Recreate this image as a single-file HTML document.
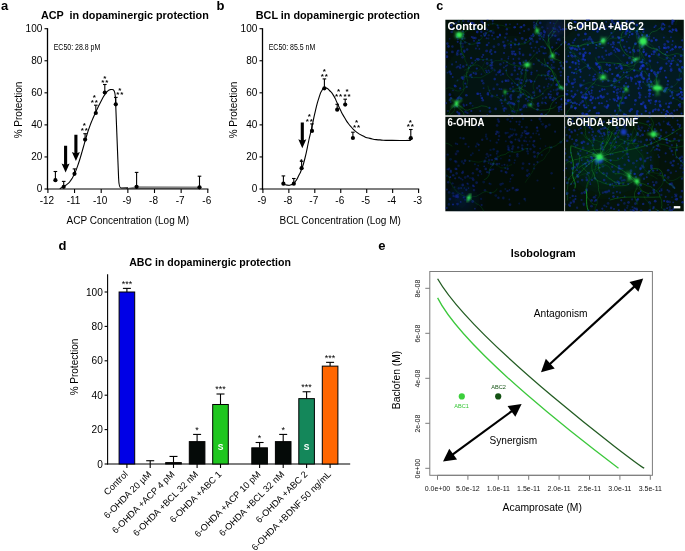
<!DOCTYPE html>
<html><head><meta charset="utf-8"><title>Figure</title>
<style>html,body{margin:0;padding:0;background:#fff}svg{display:block}text{font-family:"Liberation Sans", Arial, Helvetica, sans-serif}</style>
</head><body>
<svg width="685" height="551" viewBox="0 0 685 551">
<rect width="685" height="551" fill="#fff"/>
<text x="1" y="9.8" font-size="13" text-anchor="start" font-weight="bold" fill="#000">a</text>
<text x="41" y="19.2" font-size="10.8" text-anchor="start" font-weight="bold" fill="#000" xml:space="preserve">ACP  in dopaminergic protection</text>
<path d="M126,188.2 L136.6,186.2 L199.5,186.5 L199.5,189 L126,189 Z" fill="#848484"/>
<line x1="47.50" y1="28.20" x2="47.50" y2="189.60" stroke="#000" stroke-width="1.3"/>
<line x1="46.90" y1="189.00" x2="208.40" y2="189.00" stroke="#000" stroke-width="1.15"/>
<line x1="44.50" y1="189.00" x2="47.50" y2="189.00" stroke="#000" stroke-width="1.1"/>
<text x="42.3" y="192.4" font-size="10" text-anchor="end" fill="#000">0</text>
<line x1="44.50" y1="156.94" x2="47.50" y2="156.94" stroke="#000" stroke-width="1.1"/>
<text x="42.3" y="160.34" font-size="10" text-anchor="end" fill="#000">20</text>
<line x1="44.50" y1="124.88" x2="47.50" y2="124.88" stroke="#000" stroke-width="1.1"/>
<text x="42.3" y="128.28" font-size="10" text-anchor="end" fill="#000">40</text>
<line x1="44.50" y1="92.82" x2="47.50" y2="92.82" stroke="#000" stroke-width="1.1"/>
<text x="42.3" y="96.22" font-size="10" text-anchor="end" fill="#000">60</text>
<line x1="44.50" y1="60.76" x2="47.50" y2="60.76" stroke="#000" stroke-width="1.1"/>
<text x="42.3" y="64.16" font-size="10" text-anchor="end" fill="#000">80</text>
<line x1="44.50" y1="28.70" x2="47.50" y2="28.70" stroke="#000" stroke-width="1.1"/>
<text x="42.3" y="32.1" font-size="10" text-anchor="end" fill="#000">100</text>
<line x1="47.90" y1="189.00" x2="47.90" y2="193.00" stroke="#000" stroke-width="1.1"/>
<text x="46.9" y="204" font-size="10" text-anchor="middle" fill="#000">-12</text>
<line x1="74.55" y1="189.00" x2="74.55" y2="193.00" stroke="#000" stroke-width="1.1"/>
<text x="73.55" y="204" font-size="10" text-anchor="middle" fill="#000">-11</text>
<line x1="101.20" y1="189.00" x2="101.20" y2="193.00" stroke="#000" stroke-width="1.1"/>
<text x="100.2" y="204" font-size="10" text-anchor="middle" fill="#000">-10</text>
<line x1="127.85" y1="189.00" x2="127.85" y2="193.00" stroke="#000" stroke-width="1.1"/>
<text x="126.85" y="204" font-size="10" text-anchor="middle" fill="#000">-9</text>
<line x1="154.50" y1="189.00" x2="154.50" y2="193.00" stroke="#000" stroke-width="1.1"/>
<text x="153.5" y="204" font-size="10" text-anchor="middle" fill="#000">-8</text>
<line x1="181.15" y1="189.00" x2="181.15" y2="193.00" stroke="#000" stroke-width="1.1"/>
<text x="180.15" y="204" font-size="10" text-anchor="middle" fill="#000">-7</text>
<line x1="207.80" y1="189.00" x2="207.80" y2="193.00" stroke="#000" stroke-width="1.1"/>
<text x="206.8" y="204" font-size="10" text-anchor="middle" fill="#000">-6</text>
<text x="66.5" y="224" font-size="10" text-anchor="start" fill="#000">ACP Concentration (Log M)</text>
<text x="22.3" y="110" font-size="10" text-anchor="middle" fill="#000" transform="rotate(-90 22.3 110)">% Protection</text>
<text x="53.7" y="49.6" font-size="9" text-anchor="start" fill="#000" textLength="46.6" lengthAdjust="spacingAndGlyphs">EC50: 28.8 pM</text>
<path d="M59.80,188.78 L60.70,188.16 L61.59,187.62 L62.49,187.12 L63.39,186.64 L64.28,186.15 L65.18,185.63 L66.08,185.05 L66.97,184.39 L67.87,183.64 L68.77,182.78 L69.66,181.79 L70.56,180.67 L71.46,179.39 L72.35,177.95 L73.25,176.34 L74.15,174.56 L75.04,172.61 L75.94,170.47 L76.84,168.16 L77.73,165.67 L78.63,163.02 L79.53,160.23 L80.42,157.31 L81.32,154.27 L82.22,151.16 L83.11,147.99 L84.01,144.80 L84.91,141.63 L85.80,138.52 L86.70,135.51 L87.59,132.63 L88.49,129.89 L89.39,127.31 L90.28,124.88 L91.18,122.57 L92.08,120.37 L92.97,118.26 L93.87,116.21 L94.77,114.21 L95.66,112.26 L96.56,110.35 L97.46,108.46 L98.35,106.60 L99.25,104.76 L100.15,102.96 L101.04,101.20 L101.94,99.49 L102.84,97.85 L103.73,96.29 L104.63,94.84 L105.53,93.53 L106.42,92.38 L107.32,91.40 L108.22,90.62 L109.11,90.03 L110.01,89.65 L110.91,89.45 L111.80,89.44 L112.70,89.58 C114.3,89.6 115,92 115.4,97 C116.2,120 117.5,150 118.6,178 C118.9,186 119.5,188 121,188 L128,187.9" fill="none" stroke="#000" stroke-width="1.1" stroke-linejoin="round"/>
<line x1="55.40" y1="180.20" x2="55.40" y2="171.50" stroke="#000" stroke-width="1.1"/>
<line x1="53.60" y1="171.50" x2="57.20" y2="171.50" stroke="#000" stroke-width="1.1"/>
<circle cx="55.4" cy="180.2" r="2.1" fill="#000"/>
<line x1="63.70" y1="186.80" x2="63.70" y2="181.40" stroke="#000" stroke-width="1.1"/>
<line x1="61.90" y1="181.40" x2="65.50" y2="181.40" stroke="#000" stroke-width="1.1"/>
<circle cx="63.7" cy="186.8" r="2.1" fill="#000"/>
<line x1="74.50" y1="173.80" x2="74.50" y2="168.90" stroke="#000" stroke-width="1.1"/>
<line x1="72.70" y1="168.90" x2="76.30" y2="168.90" stroke="#000" stroke-width="1.1"/>
<circle cx="74.5" cy="173.8" r="2.1" fill="#000"/>
<line x1="85.10" y1="139.60" x2="85.10" y2="133.70" stroke="#000" stroke-width="1.1"/>
<line x1="83.30" y1="133.70" x2="86.90" y2="133.70" stroke="#000" stroke-width="1.1"/>
<circle cx="85.1" cy="139.6" r="2.1" fill="#000"/>
<line x1="95.80" y1="113.00" x2="95.80" y2="105.20" stroke="#000" stroke-width="1.1"/>
<line x1="94.00" y1="105.20" x2="97.60" y2="105.20" stroke="#000" stroke-width="1.1"/>
<circle cx="95.8" cy="113" r="2.1" fill="#000"/>
<line x1="104.80" y1="92.50" x2="104.80" y2="84.50" stroke="#000" stroke-width="1.1"/>
<line x1="103.00" y1="84.50" x2="106.60" y2="84.50" stroke="#000" stroke-width="1.1"/>
<circle cx="104.8" cy="92.5" r="2.1" fill="#000"/>
<line x1="115.80" y1="104.30" x2="115.80" y2="97.40" stroke="#000" stroke-width="1.1"/>
<line x1="114.00" y1="97.40" x2="117.60" y2="97.40" stroke="#000" stroke-width="1.1"/>
<circle cx="115.8" cy="104.3" r="2.1" fill="#000"/>
<line x1="136.60" y1="186.80" x2="136.60" y2="172.40" stroke="#000" stroke-width="1.1"/>
<line x1="134.80" y1="172.40" x2="138.40" y2="172.40" stroke="#000" stroke-width="1.1"/>
<circle cx="136.6" cy="186.8" r="2.1" fill="#000"/>
<line x1="199.50" y1="187.30" x2="199.50" y2="176.20" stroke="#000" stroke-width="1.1"/>
<line x1="197.70" y1="176.20" x2="201.30" y2="176.20" stroke="#000" stroke-width="1.1"/>
<circle cx="199.5" cy="187.3" r="2.1" fill="#000"/>
<path d="M64.05,145.8 H67.14999999999999 V164.5 L69.6,163.5 L65.6,172.5 L61.599999999999994,163.5 L64.05,164.5 Z" fill="#000"/>
<path d="M74.35000000000001,134.7 H77.45 V152.9 L79.9,151.9 L75.9,160.9 L71.9,151.9 L74.35000000000001,152.9 Z" fill="#000"/>
<text x="84.4" y="127.58" font-size="8" text-anchor="middle" font-weight="bold" fill="#000">*</text>
<text x="84.85" y="132.68" font-size="8" text-anchor="middle" font-weight="bold" fill="#000" letter-spacing="0.9">**</text>
<text x="94.4" y="99.68" font-size="8" text-anchor="middle" font-weight="bold" fill="#000">*</text>
<text x="94.85" y="104.58" font-size="8" text-anchor="middle" font-weight="bold" fill="#000" letter-spacing="0.9">**</text>
<text x="104.7" y="81.08" font-size="8" text-anchor="middle" font-weight="bold" fill="#000">*</text>
<text x="105.15" y="84.58" font-size="8" text-anchor="middle" font-weight="bold" fill="#000" letter-spacing="0.9">**</text>
<text x="119.9" y="92.98" font-size="8" text-anchor="middle" font-weight="bold" fill="#000">*</text>
<text x="120.35" y="96.98" font-size="8" text-anchor="middle" font-weight="bold" fill="#000" letter-spacing="0.9">**</text>
<text x="216.5" y="9.8" font-size="13" text-anchor="start" font-weight="bold" fill="#000">b</text>
<text x="255.8" y="19.2" font-size="10.8" text-anchor="start" font-weight="bold" fill="#000" xml:space="preserve">BCL in dopaminergic protection</text>
<line x1="262.50" y1="28.20" x2="262.50" y2="189.60" stroke="#000" stroke-width="1.3"/>
<line x1="261.90" y1="189.00" x2="419.20" y2="189.00" stroke="#000" stroke-width="1.15"/>
<line x1="259.50" y1="189.00" x2="262.50" y2="189.00" stroke="#000" stroke-width="1.1"/>
<text x="257.3" y="192.4" font-size="10" text-anchor="end" fill="#000">0</text>
<line x1="259.50" y1="156.94" x2="262.50" y2="156.94" stroke="#000" stroke-width="1.1"/>
<text x="257.3" y="160.34" font-size="10" text-anchor="end" fill="#000">20</text>
<line x1="259.50" y1="124.88" x2="262.50" y2="124.88" stroke="#000" stroke-width="1.1"/>
<text x="257.3" y="128.28" font-size="10" text-anchor="end" fill="#000">40</text>
<line x1="259.50" y1="92.82" x2="262.50" y2="92.82" stroke="#000" stroke-width="1.1"/>
<text x="257.3" y="96.22" font-size="10" text-anchor="end" fill="#000">60</text>
<line x1="259.50" y1="60.76" x2="262.50" y2="60.76" stroke="#000" stroke-width="1.1"/>
<text x="257.3" y="64.16" font-size="10" text-anchor="end" fill="#000">80</text>
<line x1="259.50" y1="28.70" x2="262.50" y2="28.70" stroke="#000" stroke-width="1.1"/>
<text x="257.3" y="32.1" font-size="10" text-anchor="end" fill="#000">100</text>
<line x1="262.90" y1="189.00" x2="262.90" y2="193.00" stroke="#000" stroke-width="1.1"/>
<text x="261.9" y="204" font-size="10" text-anchor="middle" fill="#000">-9</text>
<line x1="288.85" y1="189.00" x2="288.85" y2="193.00" stroke="#000" stroke-width="1.1"/>
<text x="287.85" y="204" font-size="10" text-anchor="middle" fill="#000">-8</text>
<line x1="314.80" y1="189.00" x2="314.80" y2="193.00" stroke="#000" stroke-width="1.1"/>
<text x="313.8" y="204" font-size="10" text-anchor="middle" fill="#000">-7</text>
<line x1="340.75" y1="189.00" x2="340.75" y2="193.00" stroke="#000" stroke-width="1.1"/>
<text x="339.75" y="204" font-size="10" text-anchor="middle" fill="#000">-6</text>
<line x1="366.70" y1="189.00" x2="366.70" y2="193.00" stroke="#000" stroke-width="1.1"/>
<text x="365.7" y="204" font-size="10" text-anchor="middle" fill="#000">-5</text>
<line x1="392.65" y1="189.00" x2="392.65" y2="193.00" stroke="#000" stroke-width="1.1"/>
<text x="391.65" y="204" font-size="10" text-anchor="middle" fill="#000">-4</text>
<line x1="418.60" y1="189.00" x2="418.60" y2="193.00" stroke="#000" stroke-width="1.1"/>
<text x="417.6" y="204" font-size="10" text-anchor="middle" fill="#000">-3</text>
<text x="279.5" y="224" font-size="10" text-anchor="start" fill="#000">BCL Concentration (Log M)</text>
<text x="237.3" y="110" font-size="10" text-anchor="middle" fill="#000" transform="rotate(-90 237.3 110)">% Protection</text>
<text x="268.7" y="49.6" font-size="9" text-anchor="start" fill="#000" textLength="46.6" lengthAdjust="spacingAndGlyphs">EC50: 85.5 nM</text>
<path d="M283.40,184.30 C284.60,184.57 284.47,184.93 287.00,185.10 C289.53,185.27 288.33,185.83 291.00,184.80 C293.67,183.77 292.33,185.27 295.00,182.00 C297.67,178.73 296.80,179.33 299.00,175.00 C301.20,170.67 299.60,174.67 301.60,169.00 C303.60,163.33 302.57,167.67 305.00,158.00 C307.43,148.33 306.63,150.17 308.90,140.00 C311.17,129.83 309.63,137.23 311.80,127.50 C313.97,117.77 313.00,120.73 315.40,110.80 C317.80,100.87 316.83,104.47 319.00,97.70 C321.17,90.93 320.10,93.70 321.90,90.50 C323.70,87.30 322.93,88.93 324.40,88.10 C325.87,87.27 324.60,87.20 326.30,88.00 C328.00,88.80 327.07,87.97 329.50,90.50 C331.93,93.03 331.03,91.43 333.60,95.60 C336.17,99.77 334.80,97.93 337.20,103.00 C339.60,108.07 338.37,105.97 340.80,110.80 C343.23,115.63 342.07,113.37 344.50,117.50 C346.93,121.63 345.70,119.87 348.10,123.20 C350.50,126.53 349.30,124.87 351.70,127.50 C354.10,130.13 351.67,128.33 355.30,131.10 C358.93,133.87 357.70,133.37 362.60,135.80 C367.50,138.23 364.20,137.03 370.00,138.40 C375.80,139.77 372.67,139.23 380.00,139.90 C387.33,140.57 381.73,140.23 392.00,140.40 C402.27,140.57 404.53,140.40 410.80,140.40" fill="none" stroke="#000" stroke-width="1.1" stroke-linejoin="round"/>
<line x1="283.40" y1="183.70" x2="283.40" y2="175.90" stroke="#000" stroke-width="1.1"/>
<line x1="281.60" y1="175.90" x2="285.20" y2="175.90" stroke="#000" stroke-width="1.1"/>
<circle cx="283.4" cy="183.7" r="2.1" fill="#000"/>
<line x1="293.80" y1="183.70" x2="293.80" y2="178.50" stroke="#000" stroke-width="1.1"/>
<line x1="292.00" y1="178.50" x2="295.60" y2="178.50" stroke="#000" stroke-width="1.1"/>
<circle cx="293.8" cy="183.7" r="2.1" fill="#000"/>
<line x1="301.60" y1="168.20" x2="301.60" y2="161.30" stroke="#000" stroke-width="1.1"/>
<line x1="299.80" y1="161.30" x2="303.40" y2="161.30" stroke="#000" stroke-width="1.1"/>
<circle cx="301.6" cy="168.2" r="2.1" fill="#000"/>
<line x1="312.00" y1="130.90" x2="312.00" y2="123.90" stroke="#000" stroke-width="1.1"/>
<line x1="310.20" y1="123.90" x2="313.80" y2="123.90" stroke="#000" stroke-width="1.1"/>
<circle cx="312.0" cy="130.9" r="2.1" fill="#000"/>
<line x1="324.40" y1="88.30" x2="324.40" y2="78.90" stroke="#000" stroke-width="1.1"/>
<line x1="322.60" y1="78.90" x2="326.20" y2="78.90" stroke="#000" stroke-width="1.1"/>
<circle cx="324.4" cy="88.3" r="2.1" fill="#000"/>
<line x1="337.20" y1="109.70" x2="337.20" y2="104.30" stroke="#000" stroke-width="1.1"/>
<line x1="335.40" y1="104.30" x2="339.00" y2="104.30" stroke="#000" stroke-width="1.1"/>
<circle cx="337.2" cy="109.7" r="2.1" fill="#000"/>
<line x1="345.20" y1="104.60" x2="345.20" y2="99.20" stroke="#000" stroke-width="1.1"/>
<line x1="343.40" y1="99.20" x2="347.00" y2="99.20" stroke="#000" stroke-width="1.1"/>
<circle cx="345.2" cy="104.6" r="2.1" fill="#000"/>
<line x1="352.90" y1="138.00" x2="352.90" y2="132.20" stroke="#000" stroke-width="1.1"/>
<line x1="351.10" y1="132.20" x2="354.70" y2="132.20" stroke="#000" stroke-width="1.1"/>
<circle cx="352.9" cy="138" r="2.1" fill="#000"/>
<line x1="410.80" y1="138.20" x2="410.80" y2="129.50" stroke="#000" stroke-width="1.1"/>
<line x1="409.00" y1="129.50" x2="412.60" y2="129.50" stroke="#000" stroke-width="1.1"/>
<circle cx="410.8" cy="138.2" r="2.1" fill="#000"/>
<path d="M300.75,122.4 H303.85 V140.3 L306.3,139.3 L302.3,148.3 L298.3,139.3 L300.75,140.3 Z" fill="#000"/>
<text x="301.4" y="163.88" font-size="8" text-anchor="middle" font-weight="bold" fill="#000">*</text>
<text x="309.3" y="119.38" font-size="8" text-anchor="middle" font-weight="bold" fill="#000">*</text>
<text x="309.75" y="123.98" font-size="8" text-anchor="middle" font-weight="bold" fill="#000" letter-spacing="0.9">**</text>
<text x="324.4" y="74.38" font-size="8" text-anchor="middle" font-weight="bold" fill="#000">*</text>
<text x="324.85" y="78.98" font-size="8" text-anchor="middle" font-weight="bold" fill="#000" letter-spacing="0.9">**</text>
<text x="338.6" y="94.28" font-size="8" text-anchor="middle" font-weight="bold" fill="#000">*</text>
<text x="339.05" y="99.08" font-size="8" text-anchor="middle" font-weight="bold" fill="#000" letter-spacing="0.9">**</text>
<text x="347.1" y="94.28" font-size="8" text-anchor="middle" font-weight="bold" fill="#000">*</text>
<text x="347.55" y="99.08" font-size="8" text-anchor="middle" font-weight="bold" fill="#000" letter-spacing="0.9">**</text>
<text x="356.5" y="125.18" font-size="8" text-anchor="middle" font-weight="bold" fill="#000">*</text>
<text x="356.95" y="129.78" font-size="8" text-anchor="middle" font-weight="bold" fill="#000" letter-spacing="0.9">**</text>
<text x="410.4" y="125.28" font-size="8" text-anchor="middle" font-weight="bold" fill="#000">*</text>
<text x="410.85" y="129.28" font-size="8" text-anchor="middle" font-weight="bold" fill="#000" letter-spacing="0.9">**</text>
<!--STARSB-->
<text x="436.3" y="10.1" font-size="12.6" text-anchor="start" font-weight="bold" fill="#000">c</text>
<defs><filter id="fb" x="-5%" y="-5%" width="110%" height="110%"><feGaussianBlur stdDeviation="0.7"/></filter><filter id="ff" x="-5%" y="-5%" width="110%" height="110%"><feGaussianBlur stdDeviation="0.4"/></filter><filter id="fc" x="-5%" y="-5%" width="110%" height="110%"><feGaussianBlur stdDeviation="0.8"/></filter><filter id="fh" x="-50%" y="-50%" width="200%" height="200%"><feGaussianBlur stdDeviation="8"/></filter></defs>
<clipPath id="cptl"><rect x="445.2" y="19.5" width="118.8" height="96.1"/></clipPath>
<g clip-path="url(#cptl)">
<rect x="445.2" y="19.5" width="118.8" height="96.1" fill="#031009"/>
<g filter="url(#fh)">
<ellipse cx="555" cy="28" rx="12" ry="9" fill="#1838c0" opacity="0.4"/>
<ellipse cx="505" cy="75" rx="60" ry="40" fill="#0a2a50" opacity="0.12"/>
</g>
<g filter="url(#fb)" fill="#1733d4">
<circle cx="483.7" cy="34.0" r="0.9" opacity="0.40"/>
<circle cx="488.6" cy="25.1" r="0.9" opacity="0.37"/>
<circle cx="453.5" cy="28.2" r="1.3" opacity="0.30"/>
<circle cx="450.7" cy="102.0" r="0.9" opacity="0.30"/>
<circle cx="481.8" cy="97.9" r="1.2" opacity="0.42"/>
<circle cx="489.4" cy="72.1" r="0.9" opacity="0.32"/>
<circle cx="526.0" cy="60.6" r="1.2" opacity="0.38"/>
<circle cx="480.8" cy="95.8" r="1.0" opacity="0.40"/>
<circle cx="507.6" cy="103.6" r="1.0" opacity="0.50"/>
<circle cx="463.3" cy="66.5" r="1.3" opacity="0.45"/>
<circle cx="513.3" cy="103.6" r="1.3" opacity="0.41"/>
<circle cx="514.1" cy="63.3" r="1.4" opacity="0.38"/>
<circle cx="524.1" cy="25.3" r="1.2" opacity="0.50"/>
<circle cx="542.8" cy="46.8" r="1.3" opacity="0.28"/>
<circle cx="500.0" cy="35.6" r="0.9" opacity="0.45"/>
<circle cx="460.6" cy="43.3" r="1.4" opacity="0.29"/>
<circle cx="498.6" cy="72.3" r="1.3" opacity="0.47"/>
<circle cx="478.3" cy="59.4" r="1.4" opacity="0.49"/>
<circle cx="463.1" cy="36.4" r="1.0" opacity="0.38"/>
<circle cx="515.2" cy="44.7" r="1.1" opacity="0.36"/>
<circle cx="512.5" cy="111.1" r="1.2" opacity="0.41"/>
<circle cx="537.9" cy="103.5" r="1.1" opacity="0.36"/>
<circle cx="457.5" cy="80.5" r="0.9" opacity="0.32"/>
<circle cx="464.5" cy="52.2" r="0.9" opacity="0.31"/>
<circle cx="457.3" cy="54.4" r="1.4" opacity="0.41"/>
<circle cx="462.8" cy="43.7" r="1.1" opacity="0.30"/>
<circle cx="546.1" cy="114.9" r="1.1" opacity="0.29"/>
<circle cx="457.3" cy="52.4" r="1.3" opacity="0.31"/>
<circle cx="447.9" cy="110.9" r="0.9" opacity="0.40"/>
<circle cx="547.8" cy="86.4" r="1.1" opacity="0.31"/>
<circle cx="536.9" cy="70.7" r="1.0" opacity="0.33"/>
<circle cx="541.6" cy="114.2" r="1.3" opacity="0.46"/>
<circle cx="533.1" cy="41.3" r="1.1" opacity="0.28"/>
<circle cx="448.5" cy="46.4" r="1.3" opacity="0.49"/>
<circle cx="558.7" cy="54.5" r="1.0" opacity="0.32"/>
<circle cx="545.0" cy="65.6" r="1.3" opacity="0.29"/>
<circle cx="523.7" cy="106.9" r="1.3" opacity="0.38"/>
<circle cx="466.4" cy="95.3" r="1.3" opacity="0.49"/>
<circle cx="531.3" cy="35.8" r="0.9" opacity="0.48"/>
<circle cx="541.0" cy="33.5" r="1.4" opacity="0.42"/>
<circle cx="486.8" cy="72.2" r="0.9" opacity="0.49"/>
<circle cx="522.4" cy="70.1" r="1.1" opacity="0.47"/>
<circle cx="543.3" cy="39.8" r="1.0" opacity="0.33"/>
<circle cx="514.9" cy="44.4" r="0.9" opacity="0.48"/>
<circle cx="487.2" cy="63.5" r="1.4" opacity="0.37"/>
<circle cx="554.2" cy="67.7" r="1.2" opacity="0.28"/>
<circle cx="497.5" cy="37.1" r="1.3" opacity="0.31"/>
<circle cx="501.5" cy="89.2" r="1.0" opacity="0.39"/>
<circle cx="511.2" cy="94.9" r="1.2" opacity="0.33"/>
<circle cx="478.1" cy="93.7" r="1.2" opacity="0.45"/>
<circle cx="553.6" cy="62.1" r="1.2" opacity="0.39"/>
<circle cx="527.5" cy="63.0" r="1.1" opacity="0.49"/>
<circle cx="545.0" cy="32.7" r="1.1" opacity="0.29"/>
<circle cx="538.3" cy="105.7" r="1.3" opacity="0.42"/>
<circle cx="471.3" cy="111.0" r="1.1" opacity="0.50"/>
<circle cx="544.1" cy="35.0" r="1.2" opacity="0.35"/>
<circle cx="447.5" cy="72.7" r="0.9" opacity="0.35"/>
<circle cx="519.3" cy="68.7" r="1.4" opacity="0.45"/>
<circle cx="560.6" cy="29.6" r="0.9" opacity="0.45"/>
<circle cx="477.3" cy="32.0" r="1.4" opacity="0.46"/>
<circle cx="513.0" cy="86.8" r="0.9" opacity="0.43"/>
<circle cx="520.6" cy="96.5" r="1.4" opacity="0.29"/>
<circle cx="547.7" cy="63.1" r="1.2" opacity="0.48"/>
<circle cx="477.0" cy="31.9" r="1.0" opacity="0.30"/>
<circle cx="464.4" cy="24.3" r="1.0" opacity="0.34"/>
<circle cx="535.4" cy="47.4" r="1.0" opacity="0.35"/>
<circle cx="447.4" cy="43.6" r="1.3" opacity="0.40"/>
<circle cx="457.8" cy="98.2" r="1.1" opacity="0.46"/>
<circle cx="491.9" cy="68.2" r="1.4" opacity="0.35"/>
<circle cx="544.1" cy="87.4" r="1.1" opacity="0.35"/>
<circle cx="451.7" cy="32.0" r="1.3" opacity="0.33"/>
<circle cx="548.6" cy="83.9" r="1.0" opacity="0.34"/>
<circle cx="499.8" cy="34.6" r="1.0" opacity="0.49"/>
<circle cx="560.7" cy="72.1" r="1.4" opacity="0.34"/>
<circle cx="487.6" cy="19.6" r="1.1" opacity="0.39"/>
<circle cx="469.1" cy="68.0" r="1.0" opacity="0.30"/>
<circle cx="492.7" cy="23.5" r="1.0" opacity="0.33"/>
<circle cx="514.8" cy="70.4" r="1.2" opacity="0.44"/>
<circle cx="549.6" cy="56.9" r="1.4" opacity="0.31"/>
<circle cx="531.2" cy="81.3" r="1.4" opacity="0.48"/>
<circle cx="519.7" cy="90.0" r="0.9" opacity="0.39"/>
<circle cx="505.1" cy="99.7" r="1.3" opacity="0.41"/>
<circle cx="551.3" cy="85.1" r="1.0" opacity="0.28"/>
<circle cx="461.0" cy="54.2" r="1.4" opacity="0.40"/>
<circle cx="519.8" cy="79.7" r="1.1" opacity="0.28"/>
<circle cx="540.0" cy="91.4" r="1.2" opacity="0.42"/>
<circle cx="453.0" cy="90.3" r="0.9" opacity="0.33"/>
<circle cx="531.8" cy="39.2" r="1.4" opacity="0.39"/>
<circle cx="490.6" cy="65.5" r="1.3" opacity="0.41"/>
<circle cx="521.6" cy="26.9" r="1.0" opacity="0.44"/>
<circle cx="481.4" cy="74.1" r="0.9" opacity="0.34"/>
<circle cx="525.0" cy="86.0" r="1.0" opacity="0.39"/>
<circle cx="500.4" cy="64.3" r="1.4" opacity="0.32"/>
<circle cx="561.4" cy="109.5" r="1.1" opacity="0.46"/>
<circle cx="560.2" cy="62.7" r="1.0" opacity="0.49"/>
<circle cx="470.2" cy="75.4" r="1.2" opacity="0.49"/>
<circle cx="461.0" cy="98.3" r="1.4" opacity="0.43"/>
<circle cx="472.7" cy="105.8" r="0.9" opacity="0.28"/>
<circle cx="503.6" cy="62.8" r="0.9" opacity="0.35"/>
<circle cx="482.8" cy="100.2" r="1.3" opacity="0.46"/>
<circle cx="552.3" cy="47.4" r="1.1" opacity="0.50"/>
<circle cx="515.2" cy="54.2" r="1.0" opacity="0.29"/>
<circle cx="457.3" cy="99.7" r="1.4" opacity="0.33"/>
<circle cx="476.8" cy="68.6" r="1.1" opacity="0.49"/>
<circle cx="550.3" cy="97.5" r="1.4" opacity="0.49"/>
<circle cx="510.4" cy="88.7" r="1.3" opacity="0.38"/>
<circle cx="534.6" cy="81.4" r="0.9" opacity="0.48"/>
<circle cx="460.3" cy="64.9" r="1.0" opacity="0.44"/>
<circle cx="561.2" cy="44.5" r="1.0" opacity="0.40"/>
<circle cx="492.1" cy="35.6" r="1.0" opacity="0.48"/>
<circle cx="563.6" cy="62.7" r="1.0" opacity="0.30"/>
<circle cx="485.8" cy="28.3" r="1.0" opacity="0.40"/>
<circle cx="550.6" cy="91.5" r="1.1" opacity="0.39"/>
<circle cx="490.0" cy="52.0" r="1.0" opacity="0.49"/>
<circle cx="460.2" cy="67.9" r="1.4" opacity="0.32"/>
<circle cx="477.4" cy="43.4" r="1.1" opacity="0.49"/>
<circle cx="546.0" cy="103.4" r="0.9" opacity="0.43"/>
<circle cx="551.6" cy="65.0" r="0.9" opacity="0.36"/>
<circle cx="555.3" cy="98.8" r="1.4" opacity="0.33"/>
<circle cx="458.2" cy="34.3" r="1.3" opacity="0.49"/>
<circle cx="530.9" cy="81.7" r="1.1" opacity="0.40"/>
<circle cx="449.9" cy="94.7" r="1.4" opacity="0.42"/>
<circle cx="481.3" cy="31.8" r="1.2" opacity="0.43"/>
<circle cx="458.5" cy="26.3" r="1.2" opacity="0.36"/>
<circle cx="471.8" cy="77.3" r="1.0" opacity="0.38"/>
<circle cx="559.1" cy="81.4" r="1.1" opacity="0.33"/>
<circle cx="481.7" cy="21.6" r="1.3" opacity="0.37"/>
<circle cx="472.1" cy="22.8" r="1.1" opacity="0.43"/>
<circle cx="482.2" cy="98.3" r="1.0" opacity="0.45"/>
<circle cx="480.2" cy="111.0" r="1.0" opacity="0.33"/>
<circle cx="462.6" cy="57.3" r="1.4" opacity="0.31"/>
<circle cx="451.4" cy="25.3" r="1.4" opacity="0.47"/>
<circle cx="533.9" cy="22.6" r="1.1" opacity="0.36"/>
<circle cx="484.6" cy="35.8" r="1.0" opacity="0.35"/>
<circle cx="558.7" cy="31.4" r="1.0" opacity="0.36"/>
<circle cx="542.8" cy="98.5" r="0.9" opacity="0.38"/>
<circle cx="489.5" cy="107.9" r="1.1" opacity="0.48"/>
<circle cx="536.3" cy="23.4" r="0.9" opacity="0.48"/>
<circle cx="518.5" cy="44.7" r="1.0" opacity="0.34"/>
<circle cx="520.5" cy="110.1" r="1.0" opacity="0.38"/>
<circle cx="558.9" cy="111.2" r="1.0" opacity="0.37"/>
<circle cx="503.8" cy="108.7" r="1.3" opacity="0.44"/>
<circle cx="542.9" cy="93.8" r="1.0" opacity="0.35"/>
<circle cx="488.2" cy="94.7" r="1.0" opacity="0.44"/>
<circle cx="474.6" cy="25.7" r="1.2" opacity="0.35"/>
<circle cx="561.7" cy="104.4" r="1.0" opacity="0.29"/>
<circle cx="456.7" cy="67.4" r="1.1" opacity="0.33"/>
<circle cx="494.7" cy="79.1" r="1.3" opacity="0.47"/>
<circle cx="524.1" cy="31.1" r="1.0" opacity="0.40"/>
<circle cx="489.5" cy="90.4" r="1.0" opacity="0.33"/>
<circle cx="463.4" cy="104.5" r="1.0" opacity="0.36"/>
<circle cx="563.1" cy="68.3" r="1.3" opacity="0.42"/>
<circle cx="562.9" cy="29.3" r="1.3" opacity="0.46"/>
<circle cx="553.8" cy="23.4" r="0.9" opacity="0.32"/>
<circle cx="560.8" cy="75.5" r="1.1" opacity="0.47"/>
<circle cx="498.6" cy="44.5" r="1.4" opacity="0.30"/>
<circle cx="516.0" cy="79.1" r="1.1" opacity="0.31"/>
<circle cx="469.4" cy="44.0" r="1.2" opacity="0.32"/>
<circle cx="467.2" cy="49.5" r="1.3" opacity="0.40"/>
<circle cx="452.7" cy="29.2" r="1.2" opacity="0.42"/>
<circle cx="493.9" cy="46.7" r="1.4" opacity="0.35"/>
<circle cx="512.5" cy="53.8" r="1.4" opacity="0.50"/>
<circle cx="488.4" cy="38.5" r="1.0" opacity="0.28"/>
<circle cx="552.3" cy="60.2" r="1.1" opacity="0.47"/>
<circle cx="500.0" cy="35.1" r="1.2" opacity="0.42"/>
<circle cx="553.3" cy="28.1" r="1.1" opacity="0.39"/>
<circle cx="462.5" cy="46.7" r="1.4" opacity="0.30"/>
<circle cx="561.1" cy="65.9" r="1.4" opacity="0.36"/>
<circle cx="552.6" cy="79.1" r="0.9" opacity="0.45"/>
<circle cx="543.7" cy="37.1" r="1.1" opacity="0.39"/>
<circle cx="490.8" cy="31.3" r="1.3" opacity="0.48"/>
<circle cx="449.7" cy="100.1" r="1.2" opacity="0.40"/>
<circle cx="519.7" cy="48.9" r="1.2" opacity="0.37"/>
<circle cx="523.5" cy="62.4" r="0.9" opacity="0.41"/>
<circle cx="503.4" cy="42.1" r="1.3" opacity="0.38"/>
<circle cx="466.5" cy="65.0" r="0.9" opacity="0.37"/>
<circle cx="456.1" cy="62.0" r="0.9" opacity="0.42"/>
<circle cx="506.0" cy="24.7" r="1.1" opacity="0.49"/>
<circle cx="532.2" cy="97.8" r="1.4" opacity="0.39"/>
<circle cx="558.8" cy="107.5" r="1.3" opacity="0.48"/>
<circle cx="464.1" cy="105.7" r="1.3" opacity="0.31"/>
<circle cx="504.9" cy="107.9" r="1.0" opacity="0.39"/>
<circle cx="483.1" cy="23.0" r="0.9" opacity="0.49"/>
<circle cx="525.9" cy="105.5" r="1.3" opacity="0.30"/>
<circle cx="508.2" cy="80.7" r="1.4" opacity="0.40"/>
<circle cx="514.1" cy="104.3" r="1.4" opacity="0.42"/>
<circle cx="492.0" cy="96.2" r="1.4" opacity="0.40"/>
<circle cx="488.0" cy="93.0" r="1.0" opacity="0.44"/>
<circle cx="450.9" cy="98.3" r="1.2" opacity="0.50"/>
<circle cx="514.8" cy="83.3" r="0.9" opacity="0.28"/>
<circle cx="462.9" cy="78.7" r="1.2" opacity="0.48"/>
<circle cx="460.9" cy="41.3" r="0.9" opacity="0.28"/>
<circle cx="487.4" cy="29.7" r="1.0" opacity="0.41"/>
<circle cx="515.2" cy="39.1" r="1.1" opacity="0.31"/>
<circle cx="556.5" cy="42.9" r="0.9" opacity="0.42"/>
<circle cx="548.7" cy="94.7" r="1.0" opacity="0.28"/>
<circle cx="521.8" cy="73.5" r="1.2" opacity="0.37"/>
<circle cx="556.5" cy="90.0" r="1.4" opacity="0.28"/>
<circle cx="508.3" cy="58.5" r="0.9" opacity="0.45"/>
<circle cx="462.1" cy="38.7" r="1.2" opacity="0.42"/>
<circle cx="541.8" cy="36.3" r="1.0" opacity="0.29"/>
<circle cx="550.9" cy="94.7" r="0.9" opacity="0.46"/>
<circle cx="533.7" cy="64.2" r="1.1" opacity="0.33"/>
<circle cx="457.7" cy="41.8" r="1.1" opacity="0.44"/>
<circle cx="527.8" cy="100.7" r="1.0" opacity="0.40"/>
<circle cx="497.0" cy="95.3" r="1.0" opacity="0.42"/>
<circle cx="559.9" cy="40.4" r="0.9" opacity="0.33"/>
<circle cx="533.8" cy="50.9" r="1.0" opacity="0.33"/>
<circle cx="553.0" cy="80.1" r="1.2" opacity="0.50"/>
<circle cx="501.0" cy="100.2" r="1.4" opacity="0.37"/>
<circle cx="531.3" cy="74.3" r="1.0" opacity="0.42"/>
<circle cx="454.4" cy="107.0" r="0.9" opacity="0.30"/>
<circle cx="555.6" cy="52.6" r="0.9" opacity="0.28"/>
<circle cx="527.5" cy="80.4" r="1.3" opacity="0.29"/>
<circle cx="515.3" cy="54.4" r="1.3" opacity="0.48"/>
<circle cx="557.4" cy="29.8" r="0.9" opacity="0.28"/>
<circle cx="545.9" cy="97.5" r="1.3" opacity="0.42"/>
<circle cx="479.3" cy="29.1" r="1.3" opacity="0.32"/>
<circle cx="483.1" cy="60.2" r="1.0" opacity="0.34"/>
<circle cx="530.2" cy="54.9" r="1.4" opacity="0.39"/>
<circle cx="546.3" cy="78.9" r="1.1" opacity="0.37"/>
<circle cx="537.0" cy="52.8" r="1.2" opacity="0.32"/>
<circle cx="547.6" cy="28.2" r="1.0" opacity="0.28"/>
<circle cx="445.7" cy="66.7" r="1.3" opacity="0.32"/>
<circle cx="504.0" cy="52.9" r="1.0" opacity="0.49"/>
<circle cx="478.9" cy="40.1" r="1.1" opacity="0.30"/>
<circle cx="520.8" cy="27.3" r="1.3" opacity="0.45"/>
<circle cx="519.8" cy="53.7" r="1.1" opacity="0.48"/>
<circle cx="455.4" cy="104.9" r="1.0" opacity="0.33"/>
<circle cx="552.3" cy="67.7" r="1.4" opacity="0.33"/>
<circle cx="500.0" cy="70.6" r="1.3" opacity="0.42"/>
<circle cx="486.6" cy="50.9" r="1.4" opacity="0.42"/>
<circle cx="533.3" cy="35.8" r="1.3" opacity="0.41"/>
<circle cx="473.5" cy="37.9" r="1.3" opacity="0.46"/>
<circle cx="463.6" cy="34.5" r="1.0" opacity="0.39"/>
<circle cx="464.3" cy="51.0" r="1.4" opacity="0.44"/>
<circle cx="457.3" cy="112.0" r="1.1" opacity="0.50"/>
<circle cx="539.6" cy="90.0" r="1.0" opacity="0.42"/>
<circle cx="457.9" cy="39.3" r="0.9" opacity="0.36"/>
<circle cx="539.2" cy="86.1" r="1.2" opacity="0.38"/>
<circle cx="462.0" cy="77.5" r="1.3" opacity="0.48"/>
<circle cx="496.3" cy="74.7" r="1.1" opacity="0.33"/>
<circle cx="531.0" cy="104.1" r="1.3" opacity="0.47"/>
<circle cx="525.9" cy="81.2" r="1.0" opacity="0.42"/>
<circle cx="529.9" cy="80.0" r="1.1" opacity="0.38"/>
<circle cx="519.0" cy="58.8" r="1.4" opacity="0.32"/>
<circle cx="523.0" cy="94.3" r="1.1" opacity="0.49"/>
<circle cx="449.7" cy="71.7" r="1.3" opacity="0.49"/>
<circle cx="506.9" cy="29.2" r="1.2" opacity="0.44"/>
<circle cx="506.0" cy="80.9" r="1.2" opacity="0.37"/>
<circle cx="557.8" cy="39.7" r="1.1" opacity="0.45"/>
<circle cx="459.7" cy="114.1" r="0.9" opacity="0.34"/>
<circle cx="492.7" cy="20.8" r="1.1" opacity="0.43"/>
<circle cx="487.0" cy="45.0" r="1.3" opacity="0.49"/>
<circle cx="507.8" cy="40.5" r="1.1" opacity="0.32"/>
<circle cx="520.6" cy="64.6" r="1.0" opacity="0.49"/>
<circle cx="542.2" cy="64.5" r="1.2" opacity="0.30"/>
<circle cx="544.2" cy="53.6" r="1.0" opacity="0.36"/>
<circle cx="475.3" cy="60.4" r="0.9" opacity="0.44"/>
<circle cx="478.6" cy="43.0" r="1.1" opacity="0.37"/>
<circle cx="520.9" cy="82.9" r="1.4" opacity="0.47"/>
<circle cx="538.3" cy="33.0" r="1.2" opacity="0.28"/>
<circle cx="474.9" cy="29.3" r="1.0" opacity="0.45"/>
<circle cx="539.3" cy="35.6" r="1.2" opacity="0.45"/>
<circle cx="524.6" cy="105.4" r="1.4" opacity="0.32"/>
<circle cx="527.5" cy="70.5" r="1.1" opacity="0.47"/>
<circle cx="511.1" cy="44.9" r="0.9" opacity="0.39"/>
<circle cx="452.1" cy="64.4" r="1.1" opacity="0.39"/>
<circle cx="509.3" cy="102.4" r="1.4" opacity="0.38"/>
<circle cx="512.0" cy="83.4" r="1.1" opacity="0.37"/>
<circle cx="559.3" cy="26.7" r="1.2" opacity="0.28"/>
<circle cx="517.6" cy="85.1" r="1.0" opacity="0.50"/>
<circle cx="505.9" cy="66.1" r="0.9" opacity="0.44"/>
<circle cx="519.5" cy="52.0" r="1.1" opacity="0.38"/>
<circle cx="507.6" cy="93.6" r="1.1" opacity="0.37"/>
<circle cx="511.0" cy="98.9" r="1.3" opacity="0.37"/>
<circle cx="505.0" cy="45.6" r="1.4" opacity="0.42"/>
<circle cx="539.3" cy="51.3" r="1.0" opacity="0.41"/>
<circle cx="520.6" cy="94.9" r="1.3" opacity="0.47"/>
<circle cx="510.0" cy="24.3" r="0.9" opacity="0.32"/>
<circle cx="554.7" cy="78.0" r="1.3" opacity="0.48"/>
<circle cx="517.9" cy="78.8" r="1.3" opacity="0.41"/>
<circle cx="526.1" cy="39.9" r="1.1" opacity="0.45"/>
<circle cx="457.2" cy="36.9" r="1.3" opacity="0.48"/>
<circle cx="523.1" cy="54.9" r="1.3" opacity="0.40"/>
<circle cx="475.9" cy="48.5" r="1.0" opacity="0.37"/>
<circle cx="521.4" cy="109.2" r="1.2" opacity="0.28"/>
<circle cx="459.3" cy="97.4" r="1.4" opacity="0.38"/>
<circle cx="446.9" cy="56.7" r="1.4" opacity="0.50"/>
<circle cx="501.7" cy="59.1" r="1.2" opacity="0.32"/>
<circle cx="463.2" cy="21.0" r="1.3" opacity="0.30"/>
<circle cx="560.0" cy="28.0" r="0.9" opacity="0.28"/>
<circle cx="530.7" cy="42.8" r="1.0" opacity="0.29"/>
<circle cx="537.2" cy="88.1" r="1.3" opacity="0.29"/>
<circle cx="519.9" cy="87.7" r="1.4" opacity="0.33"/>
<circle cx="559.8" cy="88.4" r="0.9" opacity="0.42"/>
<circle cx="542.3" cy="27.2" r="1.3" opacity="0.31"/>
<circle cx="547.5" cy="66.2" r="1.1" opacity="0.40"/>
<circle cx="497.3" cy="84.5" r="1.3" opacity="0.36"/>
<circle cx="521.8" cy="80.0" r="1.1" opacity="0.45"/>
<circle cx="557.5" cy="94.9" r="1.0" opacity="0.29"/>
<circle cx="560.9" cy="87.1" r="1.0" opacity="0.41"/>
<circle cx="561.3" cy="99.4" r="1.0" opacity="0.37"/>
<circle cx="550.7" cy="55.7" r="1.2" opacity="0.48"/>
<circle cx="541.1" cy="46.7" r="1.0" opacity="0.37"/>
<circle cx="548.2" cy="74.5" r="1.4" opacity="0.46"/>
<circle cx="526.5" cy="107.3" r="0.9" opacity="0.40"/>
<circle cx="539.9" cy="38.8" r="1.4" opacity="0.33"/>
<circle cx="517.3" cy="84.6" r="1.0" opacity="0.33"/>
<circle cx="534.4" cy="95.6" r="0.9" opacity="0.46"/>
<circle cx="536.9" cy="41.9" r="1.4" opacity="0.47"/>
<circle cx="507.2" cy="65.3" r="1.0" opacity="0.32"/>
<circle cx="466.7" cy="86.9" r="1.2" opacity="0.37"/>
<circle cx="506.6" cy="33.8" r="1.4" opacity="0.36"/>
<circle cx="463.8" cy="76.9" r="1.2" opacity="0.28"/>
<circle cx="503.0" cy="74.0" r="1.3" opacity="0.37"/>
<circle cx="557.6" cy="93.2" r="1.4" opacity="0.33"/>
<circle cx="449.7" cy="38.8" r="0.9" opacity="0.29"/>
<circle cx="511.4" cy="103.2" r="1.4" opacity="0.48"/>
<circle cx="452.8" cy="77.0" r="0.9" opacity="0.49"/>
<circle cx="475.8" cy="73.7" r="1.4" opacity="0.43"/>
<circle cx="491.9" cy="62.6" r="1.4" opacity="0.50"/>
<circle cx="471.5" cy="23.2" r="1.1" opacity="0.48"/>
<circle cx="552.7" cy="100.0" r="1.3" opacity="0.43"/>
<circle cx="522.0" cy="114.2" r="0.9" opacity="0.44"/>
<circle cx="556.8" cy="84.5" r="1.2" opacity="0.45"/>
<circle cx="457.7" cy="50.6" r="0.9" opacity="0.38"/>
<circle cx="465.2" cy="42.4" r="1.3" opacity="0.28"/>
<circle cx="530.4" cy="38.2" r="1.4" opacity="0.32"/>
<circle cx="556.2" cy="102.8" r="0.9" opacity="0.38"/>
<circle cx="519.9" cy="63.0" r="1.3" opacity="0.38"/>
<circle cx="519.8" cy="33.2" r="0.9" opacity="0.44"/>
<circle cx="476.8" cy="59.1" r="1.0" opacity="0.46"/>
<circle cx="484.9" cy="35.6" r="1.0" opacity="0.48"/>
<circle cx="458.8" cy="113.5" r="1.4" opacity="0.43"/>
<circle cx="470.3" cy="65.4" r="1.0" opacity="0.32"/>
<circle cx="555.1" cy="28.9" r="1.4" opacity="0.29"/>
<circle cx="531.5" cy="47.7" r="0.9" opacity="0.46"/>
<circle cx="485.7" cy="33.0" r="1.3" opacity="0.39"/>
<circle cx="471.1" cy="74.4" r="1.0" opacity="0.45"/>
<circle cx="529.7" cy="38.4" r="0.9" opacity="0.41"/>
<circle cx="504.1" cy="45.8" r="1.2" opacity="0.43"/>
<circle cx="541.6" cy="75.5" r="0.9" opacity="0.44"/>
<circle cx="493.7" cy="88.9" r="1.3" opacity="0.35"/>
<circle cx="545.2" cy="102.6" r="0.9" opacity="0.48"/>
<circle cx="501.8" cy="103.3" r="1.0" opacity="0.46"/>
<circle cx="488.8" cy="35.2" r="1.2" opacity="0.28"/>
<circle cx="507.0" cy="62.3" r="0.9" opacity="0.44"/>
<circle cx="542.2" cy="102.7" r="1.3" opacity="0.36"/>
<circle cx="534.5" cy="25.4" r="1.4" opacity="0.39"/>
<circle cx="506.2" cy="70.5" r="0.9" opacity="0.49"/>
<circle cx="471.8" cy="37.0" r="1.0" opacity="0.46"/>
<circle cx="468.4" cy="21.2" r="1.2" opacity="0.39"/>
<circle cx="528.7" cy="29.4" r="1.3" opacity="0.29"/>
<circle cx="459.8" cy="66.9" r="1.0" opacity="0.30"/>
<circle cx="493.4" cy="32.7" r="1.4" opacity="0.31"/>
<circle cx="513.3" cy="91.2" r="1.3" opacity="0.49"/>
<circle cx="491.4" cy="59.9" r="1.2" opacity="0.36"/>
<circle cx="557.0" cy="94.2" r="1.0" opacity="0.35"/>
<circle cx="553.6" cy="97.8" r="0.9" opacity="0.39"/>
<circle cx="559.0" cy="109.3" r="1.1" opacity="0.42"/>
<circle cx="488.5" cy="70.5" r="1.1" opacity="0.39"/>
<circle cx="537.5" cy="109.5" r="1.3" opacity="0.47"/>
<circle cx="550.3" cy="22.8" r="1.0" opacity="0.43"/>
<circle cx="519.0" cy="43.6" r="1.1" opacity="0.49"/>
<circle cx="479.4" cy="48.9" r="0.9" opacity="0.41"/>
<circle cx="558.8" cy="68.9" r="1.1" opacity="0.40"/>
<circle cx="462.8" cy="31.4" r="1.0" opacity="0.37"/>
<circle cx="479.5" cy="42.9" r="1.2" opacity="0.46"/>
<circle cx="517.7" cy="74.3" r="1.0" opacity="0.43"/>
<circle cx="500.0" cy="72.2" r="1.1" opacity="0.34"/>
<circle cx="474.0" cy="40.8" r="1.1" opacity="0.41"/>
<circle cx="473.5" cy="73.0" r="1.0" opacity="0.50"/>
<circle cx="480.3" cy="93.7" r="0.9" opacity="0.47"/>
<circle cx="497.5" cy="25.5" r="1.1" opacity="0.44"/>
<circle cx="533.0" cy="34.3" r="1.1" opacity="0.43"/>
<circle cx="518.4" cy="101.2" r="1.2" opacity="0.44"/>
<circle cx="533.5" cy="92.5" r="1.3" opacity="0.43"/>
<circle cx="553.9" cy="31.7" r="0.9" opacity="0.45"/>
<circle cx="514.8" cy="67.3" r="1.2" opacity="0.37"/>
<circle cx="538.3" cy="103.4" r="1.1" opacity="0.38"/>
<circle cx="499.6" cy="89.0" r="1.1" opacity="0.40"/>
<circle cx="490.9" cy="50.4" r="1.4" opacity="0.39"/>
<circle cx="498.0" cy="37.2" r="0.9" opacity="0.40"/>
<circle cx="559.1" cy="39.1" r="1.4" opacity="0.28"/>
<circle cx="450.8" cy="73.8" r="1.4" opacity="0.45"/>
<circle cx="509.2" cy="115.4" r="1.2" opacity="0.43"/>
<circle cx="491.5" cy="53.9" r="1.1" opacity="0.49"/>
<circle cx="525.6" cy="70.0" r="1.1" opacity="0.37"/>
<circle cx="511.9" cy="74.7" r="1.4" opacity="0.38"/>
<circle cx="486.0" cy="70.4" r="1.0" opacity="0.35"/>
<circle cx="561.4" cy="98.9" r="0.9" opacity="0.48"/>
<circle cx="550.7" cy="59.9" r="1.0" opacity="0.39"/>
<circle cx="505.2" cy="37.6" r="1.2" opacity="0.41"/>
<circle cx="487.2" cy="115.0" r="0.9" opacity="0.37"/>
<circle cx="538.8" cy="49.0" r="0.9" opacity="0.34"/>
<circle cx="545.2" cy="75.8" r="1.0" opacity="0.39"/>
<circle cx="510.9" cy="45.1" r="1.2" opacity="0.50"/>
<circle cx="513.4" cy="59.0" r="0.9" opacity="0.45"/>
<circle cx="457.9" cy="29.1" r="1.2" opacity="0.46"/>
<circle cx="518.0" cy="97.0" r="0.9" opacity="0.45"/>
<circle cx="483.6" cy="88.3" r="1.0" opacity="0.33"/>
<circle cx="457.0" cy="106.4" r="1.1" opacity="0.38"/>
<circle cx="514.4" cy="111.7" r="1.2" opacity="0.33"/>
<circle cx="504.1" cy="110.8" r="1.1" opacity="0.44"/>
<circle cx="502.7" cy="95.7" r="1.0" opacity="0.36"/>
<circle cx="467.4" cy="112.9" r="1.2" opacity="0.30"/>
<circle cx="508.6" cy="56.6" r="0.9" opacity="0.30"/>
<circle cx="543.3" cy="53.3" r="1.0" opacity="0.34"/>
<circle cx="485.8" cy="34.5" r="0.9" opacity="0.34"/>
<circle cx="544.4" cy="31.8" r="1.4" opacity="0.46"/>
<circle cx="490.0" cy="111.6" r="1.4" opacity="0.39"/>
<circle cx="472.2" cy="63.0" r="1.3" opacity="0.33"/>
<circle cx="552.1" cy="76.0" r="1.0" opacity="0.41"/>
<circle cx="470.4" cy="103.3" r="1.2" opacity="0.40"/>
<circle cx="477.3" cy="93.7" r="1.2" opacity="0.40"/>
<circle cx="482.1" cy="57.0" r="1.0" opacity="0.47"/>
<circle cx="483.3" cy="83.2" r="1.2" opacity="0.36"/>
<circle cx="504.6" cy="48.0" r="1.0" opacity="0.33"/>
<circle cx="460.2" cy="88.4" r="1.1" opacity="0.48"/>
<circle cx="537.3" cy="104.3" r="0.9" opacity="0.34"/>
<circle cx="486.9" cy="59.1" r="1.3" opacity="0.33"/>
<circle cx="545.8" cy="53.3" r="1.0" opacity="0.30"/>
<circle cx="553.6" cy="90.0" r="0.9" opacity="0.28"/>
<circle cx="464.4" cy="38.5" r="1.1" opacity="0.28"/>
<circle cx="482.1" cy="80.8" r="1.4" opacity="0.40"/>
<circle cx="530.3" cy="44.0" r="1.3" opacity="0.35"/>
<circle cx="517.4" cy="24.1" r="0.9" opacity="0.45"/>
<circle cx="455.4" cy="86.3" r="1.3" opacity="0.46"/>
<circle cx="495.6" cy="108.9" r="1.3" opacity="0.46"/>
<circle cx="519.8" cy="63.0" r="1.3" opacity="0.37"/>
<circle cx="506.0" cy="108.7" r="1.3" opacity="0.28"/>
<circle cx="528.7" cy="96.9" r="1.2" opacity="0.49"/>
<circle cx="520.9" cy="71.8" r="0.9" opacity="0.36"/>
<circle cx="494.1" cy="38.9" r="0.9" opacity="0.43"/>
<circle cx="524.8" cy="42.4" r="1.2" opacity="0.38"/>
<circle cx="556.4" cy="53.3" r="1.4" opacity="0.31"/>
<circle cx="512.1" cy="51.6" r="1.2" opacity="0.45"/>
<circle cx="465.3" cy="83.6" r="1.1" opacity="0.45"/>
<circle cx="543.9" cy="30.5" r="1.1" opacity="0.32"/>
<circle cx="452.4" cy="46.5" r="1.3" opacity="0.38"/>
<circle cx="458.6" cy="50.7" r="1.1" opacity="0.31"/>
<circle cx="534.4" cy="27.6" r="1.4" opacity="0.40"/>
<circle cx="458.1" cy="66.5" r="1.0" opacity="0.40"/>
<circle cx="519.8" cy="109.4" r="1.0" opacity="0.33"/>
<circle cx="544.9" cy="48.0" r="1.2" opacity="0.47"/>
<circle cx="555.3" cy="35.7" r="1.3" opacity="0.44"/>
<circle cx="483.2" cy="54.9" r="1.1" opacity="0.46"/>
<circle cx="473.6" cy="23.5" r="1.2" opacity="0.46"/>
<circle cx="503.9" cy="67.5" r="1.0" opacity="0.41"/>
<circle cx="454.7" cy="85.6" r="1.1" opacity="0.49"/>
<circle cx="455.9" cy="23.3" r="1.0" opacity="0.44"/>
<circle cx="538.7" cy="60.4" r="1.2" opacity="0.39"/>
<circle cx="495.2" cy="52.0" r="1.2" opacity="0.46"/>
<circle cx="552.6" cy="35.3" r="1.1" opacity="0.40"/>
<circle cx="486.6" cy="38.3" r="1.0" opacity="0.38"/>
<circle cx="560.6" cy="106.8" r="1.4" opacity="0.49"/>
<circle cx="518.8" cy="97.5" r="1.3" opacity="0.41"/>
<circle cx="502.3" cy="81.7" r="1.1" opacity="0.47"/>
<circle cx="498.3" cy="27.7" r="1.1" opacity="0.41"/>
<circle cx="494.7" cy="70.4" r="1.1" opacity="0.30"/>
<circle cx="466.6" cy="105.0" r="0.9" opacity="0.47"/>
<circle cx="475.3" cy="28.6" r="1.0" opacity="0.39"/>
<circle cx="511.0" cy="41.3" r="0.9" opacity="0.39"/>
<circle cx="515.1" cy="27.2" r="0.9" opacity="0.37"/>
<circle cx="547.8" cy="72.4" r="1.3" opacity="0.30"/>
<circle cx="562.9" cy="88.8" r="1.3" opacity="0.36"/>
<circle cx="465.5" cy="111.8" r="1.3" opacity="0.31"/>
<circle cx="537.4" cy="25.0" r="1.1" opacity="0.28"/>
<circle cx="515.8" cy="40.0" r="1.3" opacity="0.37"/>
<circle cx="550.8" cy="79.2" r="1.2" opacity="0.48"/>
<circle cx="548.6" cy="35.6" r="1.1" opacity="0.45"/>
<circle cx="526.0" cy="98.8" r="1.1" opacity="0.44"/>
<circle cx="557.8" cy="88.9" r="1.2" opacity="0.30"/>
<circle cx="510.4" cy="96.7" r="1.4" opacity="0.43"/>
<circle cx="475.4" cy="38.1" r="1.4" opacity="0.41"/>
<circle cx="458.7" cy="21.5" r="1.3" opacity="0.32"/>
<circle cx="511.0" cy="47.4" r="1.1" opacity="0.31"/>
<circle cx="549.2" cy="71.2" r="1.3" opacity="0.49"/>
<circle cx="446.8" cy="52.4" r="1.2" opacity="0.47"/>
<circle cx="540.3" cy="22.9" r="1.3" opacity="0.43"/>
<circle cx="491.8" cy="65.2" r="1.4" opacity="0.36"/>
<circle cx="548.9" cy="78.2" r="1.0" opacity="0.32"/>
<circle cx="551.4" cy="76.1" r="1.0" opacity="0.36"/>
<circle cx="500.8" cy="75.0" r="1.1" opacity="0.28"/>
<circle cx="514.0" cy="51.6" r="1.1" opacity="0.50"/>
<circle cx="477.6" cy="45.8" r="1.0" opacity="0.40"/>
<circle cx="548.8" cy="93.9" r="1.2" opacity="0.36"/>
<circle cx="556.7" cy="85.0" r="1.3" opacity="0.44"/>
<circle cx="505.7" cy="80.5" r="1.2" opacity="0.37"/>
<circle cx="452.4" cy="51.9" r="1.4" opacity="0.38"/>
<circle cx="488.8" cy="42.9" r="1.1" opacity="0.31"/>
<circle cx="446.1" cy="103.2" r="1.1" opacity="0.40"/>
<circle cx="481.1" cy="35.7" r="1.0" opacity="0.34"/>
<circle cx="531.5" cy="72.5" r="1.1" opacity="0.48"/>
<circle cx="514.5" cy="27.2" r="1.2" opacity="0.50"/>
<circle cx="487.6" cy="93.9" r="1.4" opacity="0.29"/>
<circle cx="502.8" cy="105.9" r="1.0" opacity="0.28"/>
<circle cx="471.1" cy="57.9" r="1.2" opacity="0.47"/>
<circle cx="522.2" cy="38.4" r="1.4" opacity="0.41"/>
</g>
<g filter="url(#ff)" fill="none" stroke="#22e03a" stroke-linecap="round" stroke-linejoin="round">
<path d="M459.1,34.9 L460.7,36.6 L462.3,38.5 L463.3,40.7 L465.3,42.0 L467.5,42.9 L469.6,44.2 L472.0,44.3 L474.4,43.9 L476.3,42.6 L478.0,40.9 L480.2,39.9 L481.7,38.0 L483.2,36.1 L484.9,34.4 L487.0,33.3 L488.6,31.5 L490.8,30.5 L493.2,30.1" stroke-width="0.48" opacity="0.30"/>
<path d="M459.1,34.9 L461.4,34.1 L463.6,33.3 L465.2,31.5 L467.4,30.5 L469.7,29.7 L472.0,30.0 L474.3,29.3 L476.7,28.8 L479.1,28.9 L481.5,28.6 L483.5,27.3 L485.0,25.4" stroke-width="0.49" opacity="0.33"/>
<path d="M485.0,25.4 L487.2,24.5 L489.5,23.9 L491.9,24.2 L494.3,23.7 L496.6,24.3 L498.8,25.1 L501.2,25.2 L503.6,25.7 L505.7,26.8 L507.8,27.9 L510.2,27.9" stroke-width="0.5" opacity="0.22"/>
<path d="M459.1,34.9 L458.2,32.7 L458.5,30.3 L458.6,27.9 L458.2,25.5 L457.9,23.1 L458.6,20.8 L458.4,18.5 L457.2,16.4 L455.8,14.4 L454.8,12.2 L454.5,9.9 L453.8,7.6 L454.3,5.2 L454.1,2.8 L454.5,0.5 L454.0,-1.9" stroke-width="0.46" opacity="0.24"/>
<path d="M454.0,-1.9 L454.1,-4.3 L453.7,-6.6 L453.5,-9.0 L453.9,-11.4 L455.1,-13.4 L457.1,-14.9 L459.4,-15.5 L461.8,-15.6 L464.2,-15.5 L466.5,-15.8 L468.9,-15.6 L471.3,-15.5 L473.6,-14.6" stroke-width="0.5" opacity="0.22"/>
<path d="M459.1,34.9 L460.0,37.1 L460.2,39.5 L460.5,41.9 L461.2,44.2 L461.0,46.6 L461.7,48.9 L461.8,51.3 L463.0,53.4 L463.8,55.6 L464.8,57.8 L465.0,60.2 L466.2,62.3 L467.3,64.4 L468.5,66.5 L468.8,68.9 L468.1,71.1 L467.0,73.3 L466.6,75.7 L466.8,78.1 L467.6,80.3" stroke-width="0.58" opacity="0.25"/>
<path d="M467.6,80.3 L467.6,82.7 L466.8,85.0 L465.9,87.2 L464.2,88.8 L462.0,89.9 L459.8,90.9 L457.4,91.0 L455.1,90.4 L453.3,88.9 L451.0,88.1 L448.6,87.8 L446.3,88.5 L444.6,90.2 L442.4,91.1 L440.5,92.6" stroke-width="0.5" opacity="0.22"/>
<path d="M537.1,30.8 L535.9,32.9 L534.7,35.0 L533.5,37.0 L531.5,38.4 L530.0,40.3 L528.0,41.5 L526.1,43.0 L523.8,43.9 L521.4,43.9 L519.2,44.7 L516.8,44.7 L514.7,43.5 L512.4,42.8 L510.0,43.1 L508.0,44.4" stroke-width="0.74" opacity="0.22"/>
<path d="M537.1,30.8 L538.8,32.5 L540.0,34.6 L541.2,36.6 L542.7,38.5 L544.3,40.3 L545.7,42.3 L546.7,44.5 L547.9,46.5 L549.5,48.3 L550.2,50.6 L550.8,53.0 L552.0,55.0 L552.9,57.3 L554.7,58.8 L557.0,59.6 L559.2,60.5 L561.3,61.7" stroke-width="0.66" opacity="0.32"/>
<path d="M561.3,61.7 L561.1,64.1 L561.8,66.4 L562.5,68.7 L564.0,70.6 L565.6,72.3 L567.7,73.5" stroke-width="0.5" opacity="0.22"/>
<path d="M537.1,30.8 L536.5,28.5 L535.9,26.2 L536.5,23.8 L537.2,21.5 L538.7,19.6 L540.8,18.5 L542.3,16.6 L544.5,15.6" stroke-width="0.71" opacity="0.36"/>
<path d="M544.5,15.6 L544.4,13.2 L543.7,10.9 L542.2,9.1 L540.0,8.1 L537.8,7.1 L535.5,6.4 L533.3,5.5 L531.0,4.9 L528.6,5.5 L526.2,5.6 L523.9,5.4 L521.5,5.0 L519.1,4.6 L516.9,3.7 L515.3,1.9 L514.5,-0.4" stroke-width="0.5" opacity="0.22"/>
<path d="M552.6,55.9 L551.9,53.6 L551.4,51.3 L550.5,49.0 L549.0,47.2 L547.9,45.0 L547.8,42.6 L548.3,40.3 L549.8,38.4 L551.5,36.7 L552.6,34.6 L553.8,32.5 L555.8,31.2" stroke-width="0.66" opacity="0.32"/>
<path d="M552.6,55.9 L552.8,53.5 L553.8,51.3 L555.4,49.5 L557.6,48.5 L559.1,46.6 L560.9,45.1 L562.4,43.2 L564.2,41.6 L566.1,40.1 L567.7,38.3 L569.9,37.4 L571.4,35.5 L573.3,34.1 L575.6,33.4 L577.9,32.7 L580.2,32.2" stroke-width="0.75" opacity="0.25"/>
<path d="M552.6,55.9 L552.2,53.5 L550.8,51.6 L550.4,49.2 L549.5,47.0 L549.0,44.6 L549.2,42.3 L548.5,40.0 L548.4,37.6 L548.7,35.2 L550.0,33.2 L551.8,31.6 L553.1,29.6" stroke-width="0.70" opacity="0.34"/>
<path d="M553.1,29.6 L554.3,27.4 L554.6,25.1 L555.9,23.0 L557.2,21.0 L558.6,19.1 L560.0,17.2 L562.0,15.8 L563.5,13.9 L564.4,11.7 L565.9,9.8 L567.3,7.9 L569.0,6.2 L571.2,5.2 L573.6,5.0" stroke-width="0.5" opacity="0.22"/>
<path d="M527.2,64.8 L528.5,62.8 L529.5,60.6 L531.2,58.9 L532.7,57.1 L534.1,55.1 L535.9,53.5" stroke-width="0.56" opacity="0.27"/>
<path d="M527.2,64.8 L524.8,64.6 L522.5,65.3 L520.3,66.3 L517.9,66.1 L515.6,65.5 L513.3,65.0 L510.9,64.5 L508.8,63.3 L507.1,61.7 L504.9,60.8" stroke-width="0.65" opacity="0.27"/>
<path d="M504.9,60.8 L502.5,61.0 L500.1,60.5 L497.7,60.6 L495.3,60.6 L493.2,61.7 L491.4,63.3 L489.5,64.7 L487.9,66.5 L486.2,68.2 L483.9,69.0" stroke-width="0.5" opacity="0.22"/>
<path d="M527.2,64.8 L526.3,67.0 L526.4,69.4 L526.2,71.8 L525.1,74.0 L524.8,76.4 L524.6,78.7 L523.7,81.0 L522.6,83.1 L521.7,85.3 L521.9,87.7" stroke-width="0.58" opacity="0.27"/>
<path d="M527.2,64.8 L526.7,67.1 L525.9,69.4 L525.7,71.8 L526.2,74.2 L525.8,76.5 L526.3,78.9 L526.5,81.3 L525.5,83.5 L523.9,85.3 L522.1,86.9 L521.2,89.1 L521.0,91.5" stroke-width="0.71" opacity="0.23"/>
<path d="M521.0,91.5 L521.3,93.9 L520.7,96.2 L519.4,98.3 L519.3,100.7 L518.9,103.0 L518.7,105.4 L518.5,107.8 L517.5,110.0 L516.7,112.3 L516.0,114.6 L514.5,116.4" stroke-width="0.5" opacity="0.22"/>
<path d="M527.2,64.8 L525.4,66.4 L523.3,67.6 L522.0,69.5 L521.2,71.8 L521.2,74.2 L521.0,76.6 L519.9,78.7 L519.2,81.0 L518.9,83.4 L518.9,85.8 L519.0,88.2 L520.1,90.4 L520.3,92.8" stroke-width="0.62" opacity="0.22"/>
<path d="M520.3,92.8 L518.8,94.7 L518.3,97.0 L517.4,99.2 L516.0,101.2 L514.7,103.2 L514.3,105.6 L513.5,107.8 L512.9,110.2" stroke-width="0.5" opacity="0.22"/>
<path d="M561.5,87.8 L559.9,86.0 L559.1,83.8 L557.5,81.9 L555.7,80.4 L553.9,78.8 L551.5,78.3 L549.7,76.7 L547.6,75.6 L545.2,75.0 L542.8,74.9 L540.5,75.3 L538.1,74.9" stroke-width="0.62" opacity="0.29"/>
<path d="M538.1,74.9 L536.8,76.9 L535.7,79.0 L534.7,81.2 L533.7,83.4 L533.1,85.7 L533.3,88.1 L534.3,90.3 L534.9,92.6 L534.5,95.0" stroke-width="0.5" opacity="0.22"/>
<path d="M561.5,87.8 L560.3,85.7 L558.9,83.8 L558.1,81.5 L556.7,79.6 L556.2,77.2 L555.8,74.9 L554.4,72.9 L552.7,71.2 L551.0,69.5 L549.2,67.9 L547.5,66.2 L545.5,64.9 L543.3,64.0 L541.4,62.5 L539.3,61.4 L537.4,59.9 L536.1,57.9" stroke-width="0.63" opacity="0.28"/>
<path d="M456.5,103.5 L454.6,104.9 L453.2,106.9 L451.2,108.3 L449.9,110.3 L449.4,112.6 L448.0,114.6 L446.1,116.0 L444.2,117.5 L443.2,119.7 L441.7,121.6 L439.8,123.1 L438.6,125.1 L437.9,127.4 L436.8,129.5 L435.1,131.3 L433.1,132.5 L430.9,133.6 L429.3,135.4 L427.3,136.7 L425.0,137.4" stroke-width="0.60" opacity="0.28"/>
<path d="M425.0,137.4 L424.2,139.7 L423.1,141.8 L422.5,144.2 L421.1,146.1 L419.3,147.7" stroke-width="0.5" opacity="0.22"/>
<path d="M456.5,103.5 L456.9,105.9 L458.2,107.9 L460.0,109.4 L461.9,110.9 L463.4,112.7 L464.1,115.0" stroke-width="0.69" opacity="0.32"/>
<path d="M456.5,103.5 L456.0,105.9 L454.8,107.9 L454.3,110.3 L453.2,112.4 L451.2,113.7 L449.4,115.3 L448.5,117.5 L447.8,119.8 L446.8,122.0 L446.5,124.4" stroke-width="0.61" opacity="0.23"/>
<path d="M446.5,124.4 L445.5,126.6 L444.7,128.8 L445.0,131.2 L445.7,133.5 L446.0,135.9 L447.0,138.1 L447.6,140.4 L448.1,142.8 L449.6,144.7 L451.1,146.6 L453.2,147.5" stroke-width="0.5" opacity="0.22"/>
<path d="M456.5,103.5 L457.9,101.6 L458.4,99.2 L458.9,96.9 L460.2,94.8 L461.7,93.0 L463.3,91.1 L464.0,88.8 L463.8,86.4 L463.1,84.1 L463.4,81.8 L464.4,79.6 L464.8,77.2 L466.2,75.2 L466.5,72.9 L467.0,70.5 L468.5,68.7 L469.8,66.6 L471.8,65.3 L474.0,64.3 L475.5,62.4" stroke-width="0.55" opacity="0.28"/>
<path d="M475.5,62.4 L477.2,60.8 L479.3,59.7 L481.7,59.4 L484.1,59.5 L486.5,59.6 L488.8,60.3 L491.2,60.0" stroke-width="0.5" opacity="0.22"/>
<path d="M530.0,105.0 L531.3,107.0 L533.4,108.2 L535.5,109.4 L537.9,109.6 L540.2,110.3 L542.6,110.0 L545.0,110.0 L547.4,109.6 L549.7,108.9 L552.0,108.5 L554.2,107.5 L555.9,105.7" stroke-width="0.73" opacity="0.26"/>
<path d="M530.0,105.0 L531.3,103.0 L532.1,100.7 L532.0,98.3 L531.2,96.0 L529.8,94.2 L527.9,92.6 L526.1,91.1 L524.0,89.8 L521.7,89.1 L519.5,88.3 L517.1,88.5 L514.9,89.3 L512.5,89.1" stroke-width="0.54" opacity="0.30"/>
<path d="M505.0,92.0 L507.4,91.5 L509.7,91.0 L512.1,91.5 L514.4,90.8 L516.7,91.1 L519.1,91.5 L521.3,92.4 L523.4,93.6 L525.3,95.1 L527.5,96.1 L529.3,97.6 L531.6,98.3 L534.0,98.5 L536.2,97.6 L538.4,96.5 L540.5,95.4 L542.3,93.9" stroke-width="0.72" opacity="0.23"/>
<path d="M542.3,93.9 L543.8,91.9 L545.2,90.0 L547.2,88.6 L549.5,87.9 L551.3,86.4 L552.8,84.5 L553.5,82.2 L553.5,79.8 L554.2,77.5 L554.1,75.1 L553.5,72.8 L552.1,70.9 L551.1,68.7 L550.4,66.4" stroke-width="0.5" opacity="0.22"/>
<path d="M505.0,92.0 L505.0,94.4 L505.1,96.8 L505.5,99.2 L506.8,101.2 L508.6,102.8 L509.9,104.8 L510.9,107.0 L512.6,108.7 L514.5,110.2 L516.8,110.8 L519.2,110.8" stroke-width="0.52" opacity="0.26"/>
<path d="M563.7,95.6 L561.3,95.8 L559.0,96.5 L557.1,98.0 L555.2,99.4 L553.9,101.4 L552.1,102.9 L551.0,105.1 L550.3,107.4 L549.7,109.7 L548.8,111.9 L547.0,113.5 L545.1,114.9 L542.8,115.7 L540.6,116.5 L538.2,116.7 L535.8,116.9 L533.5,117.6 L531.1,117.9 L528.8,118.7 L527.1,120.3 L525.4,122.0" stroke-width="0.72" opacity="0.26"/>
<path d="M464.8,56.6 L462.9,55.1 L461.9,52.9 L461.0,50.7 L461.1,48.3 L460.3,46.0 L460.6,43.6 L461.5,41.5 L461.9,39.1 L463.1,37.0 L463.7,34.7 L463.5,32.3 L463.3,29.9 L462.4,27.6 L461.5,25.4 L461.6,23.0 L462.1,20.7 L463.1,18.5 L463.9,16.2 L465.2,14.2 L467.1,12.7 L469.2,11.6 L471.6,11.5" stroke-width="0.73" opacity="0.21"/>
<path d="M455.5,82.2 L457.1,80.4 L459.3,79.3 L461.3,78.1 L463.1,76.5 L464.5,74.6 L466.2,72.8 L468.4,71.9 L470.8,71.9 L473.2,71.9 L475.6,71.6 L477.9,70.9 L479.8,69.4 L481.7,68.0 L482.9,65.9 L483.9,63.8 L484.9,61.5" stroke-width="0.41" opacity="0.19"/>
<path d="M563.1,37.5 L565.2,36.3 L567.5,35.7 L569.5,34.4 L571.7,33.4 L573.2,31.5 L575.2,30.3 L576.8,28.4 L577.9,26.3 L579.8,24.8 L581.5,23.2 L582.7,21.1 L584.5,19.6 L586.6,18.3 L589.0,17.9 L591.3,17.3 L593.6,16.6 L595.9,17.1 L598.3,17.5 L600.2,19.1" stroke-width="0.48" opacity="0.29"/>
<path d="M464.5,70.2 L466.7,69.2 L468.6,67.8 L470.6,66.5 L472.8,65.5 L475.1,65.0 L477.5,65.0 L479.7,66.1 L481.5,67.6 L482.9,69.6 L483.9,71.8 L485.7,73.4" stroke-width="0.70" opacity="0.18"/>
<path d="M494.6,68.9 L492.6,70.3 L490.9,71.9 L488.9,73.2 L486.7,74.3 L484.7,75.6 L482.6,76.8 L480.4,77.7 L478.0,77.6 L475.6,77.5 L473.2,77.8 L471.0,76.9 L468.6,77.1 L466.3,76.5 L464.1,75.4" stroke-width="0.62" opacity="0.21"/>
<path d="M534.4,105.1 L533.1,103.2 L531.4,101.4 L529.2,100.4 L527.7,98.6 L527.0,96.3 L525.6,94.3 L524.3,92.3 L523.2,90.2 L521.3,88.8 L519.2,87.6 L517.5,85.9 L516.0,84.0 L514.2,82.4 L512.8,80.5 L511.0,78.8 L509.4,77.1 L507.5,75.5 L506.7,73.3 L506.1,71.0 L506.3,68.6" stroke-width="0.67" opacity="0.20"/>
<path d="M559.6,87.7 L558.4,85.7 L557.8,83.3 L557.3,81.0 L555.8,79.1 L554.4,77.2 L553.8,74.8 L552.6,72.8 L552.0,70.4 L550.5,68.6 L548.7,67.0 L546.9,65.4 L545.4,63.5 L544.8,61.2 L544.4,58.8" stroke-width="0.79" opacity="0.28"/>
<path d="M488.0,86.1 L488.4,88.5 L489.2,90.8 L490.1,93.0 L491.8,94.7 L493.9,95.9 L496.1,96.9 L498.4,97.6 L500.1,99.3 L502.1,100.6 L504.4,101.2 L506.3,102.6 L508.3,104.0 L509.7,106.0 L510.8,108.1 L511.3,110.4 L512.2,112.6 L513.9,114.4 L515.0,116.5 L516.2,118.6 L517.2,120.8 L517.9,123.1" stroke-width="0.70" opacity="0.18"/>
<path d="M488.3,107.7 L486.2,106.4 L483.9,106.1 L481.5,105.8 L479.2,106.7 L477.0,107.5 L474.6,107.9 L472.4,108.7 L470.0,109.3 L467.8,110.2 L465.4,110.0 L463.3,108.8 L461.7,107.0 L459.6,106.0 L457.5,104.7 L456.0,102.8" stroke-width="0.73" opacity="0.27"/>
</g>
<g filter="url(#fc)">
<ellipse cx="459.1" cy="34.9" rx="3.0" ry="3.0" fill="#38f25a"/>
<line x1="463.9" y1="33.8" x2="454.3" y2="36.0" stroke="#30e050" stroke-width="0.9" stroke-linecap="round" opacity="0.8"/>
<line x1="453.8" y1="31.6" x2="464.4" y2="38.2" stroke="#30e050" stroke-width="0.9" stroke-linecap="round" opacity="0.8"/>
<line x1="462.4" y1="31.4" x2="455.8" y2="38.4" stroke="#30e050" stroke-width="0.9" stroke-linecap="round" opacity="0.8"/>
<ellipse cx="537.1" cy="30.8" rx="1.7" ry="1.7" fill="#38f25a"/>
<line x1="536.0" y1="27.3" x2="538.2" y2="34.3" stroke="#30e050" stroke-width="0.9" stroke-linecap="round" opacity="0.8"/>
<line x1="540.0" y1="28.5" x2="534.2" y2="33.1" stroke="#30e050" stroke-width="0.9" stroke-linecap="round" opacity="0.8"/>
<line x1="536.1" y1="27.7" x2="538.1" y2="33.9" stroke="#30e050" stroke-width="0.9" stroke-linecap="round" opacity="0.8"/>
<ellipse cx="552.6" cy="55.9" rx="1.8" ry="1.8" fill="#38f25a"/>
<line x1="550.7" y1="52.5" x2="554.5" y2="59.3" stroke="#30e050" stroke-width="0.9" stroke-linecap="round" opacity="0.8"/>
<line x1="554.4" y1="53.6" x2="550.8" y2="58.2" stroke="#30e050" stroke-width="0.9" stroke-linecap="round" opacity="0.8"/>
<line x1="554.8" y1="53.5" x2="550.4" y2="58.3" stroke="#30e050" stroke-width="0.9" stroke-linecap="round" opacity="0.8"/>
<ellipse cx="527.2" cy="64.8" rx="2.4" ry="2.4" fill="#38f25a"/>
<line x1="531.2" y1="63.9" x2="523.2" y2="65.7" stroke="#30e050" stroke-width="0.9" stroke-linecap="round" opacity="0.8"/>
<line x1="523.3" y1="61.8" x2="531.1" y2="67.8" stroke="#30e050" stroke-width="0.9" stroke-linecap="round" opacity="0.8"/>
<line x1="530.8" y1="63.9" x2="523.6" y2="65.7" stroke="#30e050" stroke-width="0.9" stroke-linecap="round" opacity="0.8"/>
<ellipse cx="561.5" cy="87.8" rx="1.4" ry="1.4" fill="#38f25a"/>
<line x1="558.8" y1="87.8" x2="564.2" y2="87.8" stroke="#30e050" stroke-width="0.9" stroke-linecap="round" opacity="0.8"/>
<line x1="559.6" y1="86.1" x2="563.4" y2="89.5" stroke="#30e050" stroke-width="0.9" stroke-linecap="round" opacity="0.8"/>
<line x1="559.2" y1="86.0" x2="563.8" y2="89.6" stroke="#30e050" stroke-width="0.9" stroke-linecap="round" opacity="0.8"/>
<ellipse cx="456.5" cy="103.5" rx="1.5" ry="3.3" fill="#38f25a"/>
<line x1="461.8" y1="99.3" x2="451.2" y2="107.7" stroke="#30e050" stroke-width="0.9" stroke-linecap="round" opacity="0.8"/>
<line x1="461.2" y1="101.1" x2="451.8" y2="105.9" stroke="#30e050" stroke-width="0.9" stroke-linecap="round" opacity="0.8"/>
<line x1="451.0" y1="98.9" x2="462.0" y2="108.1" stroke="#30e050" stroke-width="0.9" stroke-linecap="round" opacity="0.8"/>
<ellipse cx="530" cy="105" rx="1.0" ry="1.0" fill="#38f25a"/>
<line x1="528.8" y1="103.9" x2="531.2" y2="106.1" stroke="#30e050" stroke-width="0.9" stroke-linecap="round" opacity="0.8"/>
<line x1="529.0" y1="103.8" x2="531.0" y2="106.2" stroke="#30e050" stroke-width="0.9" stroke-linecap="round" opacity="0.8"/>
<line x1="532.2" y1="104.8" x2="527.8" y2="105.2" stroke="#30e050" stroke-width="0.9" stroke-linecap="round" opacity="0.8"/>
<ellipse cx="505" cy="92" rx="0.9" ry="0.9" fill="#38f25a"/>
<line x1="504.4" y1="90.6" x2="505.6" y2="93.4" stroke="#30e050" stroke-width="0.9" stroke-linecap="round" opacity="0.8"/>
<line x1="505.9" y1="90.2" x2="504.1" y2="93.8" stroke="#30e050" stroke-width="0.9" stroke-linecap="round" opacity="0.8"/>
<line x1="504.3" y1="90.1" x2="505.7" y2="93.9" stroke="#30e050" stroke-width="0.9" stroke-linecap="round" opacity="0.8"/>
</g>
</g>
<clipPath id="cptr"><rect x="565.0" y="19.5" width="118.9" height="96.1"/></clipPath>
<g clip-path="url(#cptr)">
<rect x="565.0" y="19.5" width="118.9" height="96.1" fill="#04140d"/>
<g filter="url(#fh)">
<ellipse cx="625" cy="70" rx="70" ry="50" fill="#0c3050" opacity="0.3"/>
</g>
<g filter="url(#fb)" fill="#1733d4">
<circle cx="649.7" cy="93.6" r="1.2" opacity="0.56"/>
<circle cx="672.5" cy="49.2" r="1.2" opacity="0.65"/>
<circle cx="574.4" cy="21.7" r="0.9" opacity="0.67"/>
<circle cx="635.2" cy="76.7" r="1.2" opacity="0.52"/>
<circle cx="679.7" cy="70.5" r="1.2" opacity="0.63"/>
<circle cx="598.5" cy="113.1" r="1.3" opacity="0.44"/>
<circle cx="585.6" cy="97.4" r="1.1" opacity="0.67"/>
<circle cx="597.5" cy="28.1" r="1.1" opacity="0.67"/>
<circle cx="571.5" cy="55.2" r="1.2" opacity="0.45"/>
<circle cx="641.3" cy="74.8" r="1.4" opacity="0.64"/>
<circle cx="638.4" cy="37.8" r="0.9" opacity="0.42"/>
<circle cx="567.0" cy="94.2" r="1.3" opacity="0.61"/>
<circle cx="588.9" cy="92.1" r="1.0" opacity="0.61"/>
<circle cx="567.7" cy="90.6" r="0.9" opacity="0.48"/>
<circle cx="614.7" cy="99.8" r="1.3" opacity="0.54"/>
<circle cx="631.3" cy="79.8" r="1.0" opacity="0.48"/>
<circle cx="577.5" cy="90.6" r="1.1" opacity="0.38"/>
<circle cx="649.8" cy="93.8" r="1.4" opacity="0.49"/>
<circle cx="670.1" cy="66.2" r="1.1" opacity="0.47"/>
<circle cx="671.7" cy="113.3" r="1.2" opacity="0.45"/>
<circle cx="611.2" cy="53.5" r="1.4" opacity="0.43"/>
<circle cx="598.1" cy="97.8" r="1.3" opacity="0.60"/>
<circle cx="584.1" cy="105.6" r="0.9" opacity="0.41"/>
<circle cx="651.5" cy="70.6" r="1.3" opacity="0.67"/>
<circle cx="575.2" cy="94.5" r="1.2" opacity="0.65"/>
<circle cx="667.1" cy="52.0" r="1.1" opacity="0.61"/>
<circle cx="672.5" cy="20.2" r="1.1" opacity="0.64"/>
<circle cx="576.7" cy="103.8" r="1.1" opacity="0.55"/>
<circle cx="655.6" cy="74.3" r="1.4" opacity="0.43"/>
<circle cx="637.0" cy="30.9" r="1.1" opacity="0.59"/>
<circle cx="660.1" cy="105.0" r="1.2" opacity="0.60"/>
<circle cx="591.7" cy="90.5" r="1.0" opacity="0.65"/>
<circle cx="588.8" cy="19.6" r="1.1" opacity="0.66"/>
<circle cx="679.1" cy="94.0" r="1.2" opacity="0.55"/>
<circle cx="614.2" cy="23.5" r="1.1" opacity="0.67"/>
<circle cx="655.3" cy="104.3" r="0.9" opacity="0.54"/>
<circle cx="638.2" cy="50.6" r="1.4" opacity="0.49"/>
<circle cx="669.5" cy="26.4" r="1.2" opacity="0.40"/>
<circle cx="631.8" cy="78.4" r="1.2" opacity="0.59"/>
<circle cx="643.6" cy="78.6" r="1.3" opacity="0.55"/>
<circle cx="589.8" cy="37.5" r="1.4" opacity="0.44"/>
<circle cx="649.2" cy="90.2" r="1.4" opacity="0.56"/>
<circle cx="575.3" cy="69.4" r="0.9" opacity="0.45"/>
<circle cx="669.8" cy="114.0" r="1.0" opacity="0.47"/>
<circle cx="600.2" cy="67.0" r="1.1" opacity="0.43"/>
<circle cx="656.2" cy="40.1" r="1.4" opacity="0.66"/>
<circle cx="654.4" cy="27.2" r="0.9" opacity="0.60"/>
<circle cx="599.9" cy="44.0" r="1.3" opacity="0.63"/>
<circle cx="568.4" cy="56.2" r="0.9" opacity="0.66"/>
<circle cx="643.0" cy="65.0" r="1.3" opacity="0.60"/>
<circle cx="603.8" cy="96.7" r="1.2" opacity="0.48"/>
<circle cx="565.2" cy="93.6" r="1.1" opacity="0.40"/>
<circle cx="615.5" cy="51.9" r="0.9" opacity="0.51"/>
<circle cx="594.1" cy="107.7" r="1.2" opacity="0.61"/>
<circle cx="640.1" cy="81.8" r="1.3" opacity="0.65"/>
<circle cx="649.9" cy="61.0" r="1.4" opacity="0.56"/>
<circle cx="598.8" cy="57.1" r="1.4" opacity="0.40"/>
<circle cx="668.0" cy="81.1" r="1.2" opacity="0.60"/>
<circle cx="581.9" cy="26.2" r="1.1" opacity="0.40"/>
<circle cx="651.7" cy="71.0" r="0.9" opacity="0.54"/>
<circle cx="650.9" cy="81.8" r="1.4" opacity="0.66"/>
<circle cx="618.5" cy="106.0" r="1.1" opacity="0.59"/>
<circle cx="585.6" cy="114.6" r="1.4" opacity="0.51"/>
<circle cx="603.4" cy="39.3" r="1.3" opacity="0.41"/>
<circle cx="589.8" cy="53.2" r="1.2" opacity="0.63"/>
<circle cx="643.7" cy="49.5" r="0.9" opacity="0.52"/>
<circle cx="664.5" cy="25.0" r="0.9" opacity="0.55"/>
<circle cx="572.4" cy="47.9" r="1.4" opacity="0.66"/>
<circle cx="607.3" cy="71.6" r="1.1" opacity="0.60"/>
<circle cx="668.7" cy="106.9" r="1.3" opacity="0.66"/>
<circle cx="655.7" cy="101.5" r="1.4" opacity="0.45"/>
<circle cx="565.9" cy="29.1" r="1.1" opacity="0.46"/>
<circle cx="621.2" cy="66.3" r="1.2" opacity="0.52"/>
<circle cx="673.2" cy="60.4" r="1.0" opacity="0.46"/>
<circle cx="617.8" cy="42.5" r="0.9" opacity="0.53"/>
<circle cx="622.5" cy="40.2" r="1.4" opacity="0.66"/>
<circle cx="609.7" cy="25.3" r="0.9" opacity="0.53"/>
<circle cx="625.7" cy="49.9" r="1.1" opacity="0.52"/>
<circle cx="677.5" cy="94.9" r="1.3" opacity="0.57"/>
<circle cx="573.1" cy="87.1" r="1.0" opacity="0.53"/>
<circle cx="639.6" cy="97.5" r="1.2" opacity="0.58"/>
<circle cx="568.8" cy="81.8" r="1.2" opacity="0.42"/>
<circle cx="643.1" cy="82.0" r="0.9" opacity="0.51"/>
<circle cx="598.9" cy="113.2" r="1.0" opacity="0.47"/>
<circle cx="588.7" cy="25.9" r="0.9" opacity="0.48"/>
<circle cx="622.6" cy="25.8" r="1.4" opacity="0.60"/>
<circle cx="587.9" cy="64.7" r="1.3" opacity="0.46"/>
<circle cx="680.9" cy="92.1" r="1.0" opacity="0.50"/>
<circle cx="649.3" cy="74.1" r="1.0" opacity="0.63"/>
<circle cx="583.4" cy="97.5" r="1.1" opacity="0.54"/>
<circle cx="611.0" cy="44.6" r="1.0" opacity="0.50"/>
<circle cx="673.2" cy="115.5" r="1.0" opacity="0.60"/>
<circle cx="584.9" cy="60.1" r="1.3" opacity="0.62"/>
<circle cx="595.1" cy="74.3" r="0.9" opacity="0.60"/>
<circle cx="680.1" cy="87.9" r="1.1" opacity="0.62"/>
<circle cx="680.0" cy="106.4" r="1.3" opacity="0.43"/>
<circle cx="581.5" cy="26.5" r="1.0" opacity="0.58"/>
<circle cx="648.9" cy="75.5" r="1.1" opacity="0.54"/>
<circle cx="645.8" cy="55.0" r="1.2" opacity="0.51"/>
<circle cx="635.4" cy="43.8" r="1.4" opacity="0.67"/>
<circle cx="595.6" cy="98.5" r="0.9" opacity="0.58"/>
<circle cx="678.7" cy="105.0" r="1.0" opacity="0.67"/>
<circle cx="629.5" cy="58.0" r="1.3" opacity="0.49"/>
<circle cx="649.2" cy="56.0" r="1.1" opacity="0.68"/>
<circle cx="641.1" cy="104.0" r="1.2" opacity="0.64"/>
<circle cx="638.2" cy="81.6" r="1.1" opacity="0.48"/>
<circle cx="602.4" cy="97.5" r="1.3" opacity="0.61"/>
<circle cx="599.7" cy="72.4" r="1.0" opacity="0.56"/>
<circle cx="642.1" cy="35.2" r="1.1" opacity="0.58"/>
<circle cx="635.8" cy="59.1" r="0.9" opacity="0.62"/>
<circle cx="664.5" cy="27.7" r="1.0" opacity="0.43"/>
<circle cx="672.1" cy="95.0" r="0.9" opacity="0.40"/>
<circle cx="575.5" cy="38.6" r="0.9" opacity="0.48"/>
<circle cx="599.7" cy="91.3" r="1.0" opacity="0.66"/>
<circle cx="596.4" cy="45.0" r="0.9" opacity="0.67"/>
<circle cx="580.7" cy="102.9" r="1.2" opacity="0.42"/>
<circle cx="637.0" cy="114.6" r="1.3" opacity="0.63"/>
<circle cx="615.3" cy="47.9" r="1.0" opacity="0.40"/>
<circle cx="621.2" cy="25.8" r="1.3" opacity="0.51"/>
<circle cx="620.7" cy="97.8" r="1.3" opacity="0.52"/>
<circle cx="590.7" cy="100.2" r="1.3" opacity="0.53"/>
<circle cx="627.0" cy="51.4" r="1.0" opacity="0.38"/>
<circle cx="619.0" cy="38.0" r="1.4" opacity="0.68"/>
<circle cx="671.8" cy="32.1" r="1.1" opacity="0.48"/>
<circle cx="648.7" cy="85.0" r="1.3" opacity="0.50"/>
<circle cx="602.5" cy="47.7" r="1.0" opacity="0.43"/>
<circle cx="639.8" cy="43.1" r="1.0" opacity="0.61"/>
<circle cx="650.4" cy="103.1" r="1.1" opacity="0.47"/>
<circle cx="573.9" cy="82.8" r="1.1" opacity="0.39"/>
<circle cx="660.5" cy="68.9" r="1.4" opacity="0.66"/>
<circle cx="614.7" cy="87.3" r="1.3" opacity="0.60"/>
<circle cx="575.4" cy="108.1" r="1.4" opacity="0.66"/>
<circle cx="643.5" cy="52.3" r="0.9" opacity="0.59"/>
<circle cx="650.1" cy="90.2" r="1.4" opacity="0.58"/>
<circle cx="628.0" cy="86.8" r="1.3" opacity="0.56"/>
<circle cx="613.3" cy="42.5" r="1.3" opacity="0.59"/>
<circle cx="608.1" cy="105.1" r="1.2" opacity="0.40"/>
<circle cx="677.1" cy="109.8" r="1.1" opacity="0.44"/>
<circle cx="587.0" cy="97.4" r="1.1" opacity="0.44"/>
<circle cx="623.4" cy="102.9" r="1.3" opacity="0.38"/>
<circle cx="626.0" cy="97.7" r="1.4" opacity="0.56"/>
<circle cx="602.3" cy="89.6" r="1.3" opacity="0.58"/>
<circle cx="571.7" cy="19.5" r="1.1" opacity="0.61"/>
<circle cx="595.2" cy="23.3" r="1.4" opacity="0.44"/>
<circle cx="600.9" cy="78.9" r="1.0" opacity="0.66"/>
<circle cx="566.5" cy="84.4" r="1.3" opacity="0.55"/>
<circle cx="673.4" cy="98.0" r="0.9" opacity="0.65"/>
<circle cx="585.4" cy="34.0" r="1.2" opacity="0.47"/>
<circle cx="617.0" cy="49.0" r="1.3" opacity="0.58"/>
<circle cx="571.5" cy="105.6" r="1.0" opacity="0.61"/>
<circle cx="666.9" cy="111.2" r="1.2" opacity="0.65"/>
<circle cx="677.5" cy="64.7" r="1.3" opacity="0.63"/>
<circle cx="651.7" cy="54.2" r="0.9" opacity="0.65"/>
<circle cx="672.4" cy="22.0" r="1.2" opacity="0.53"/>
<circle cx="571.2" cy="102.1" r="1.0" opacity="0.52"/>
<circle cx="633.6" cy="50.1" r="1.4" opacity="0.60"/>
<circle cx="606.9" cy="107.4" r="1.4" opacity="0.65"/>
<circle cx="573.1" cy="62.4" r="1.4" opacity="0.44"/>
<circle cx="643.3" cy="102.5" r="1.2" opacity="0.52"/>
<circle cx="632.7" cy="21.8" r="1.4" opacity="0.43"/>
<circle cx="599.6" cy="69.0" r="0.9" opacity="0.62"/>
<circle cx="636.8" cy="25.1" r="1.4" opacity="0.60"/>
<circle cx="583.8" cy="80.7" r="1.1" opacity="0.47"/>
<circle cx="623.4" cy="91.8" r="1.4" opacity="0.56"/>
<circle cx="609.9" cy="99.4" r="0.9" opacity="0.38"/>
<circle cx="642.2" cy="104.0" r="1.2" opacity="0.39"/>
<circle cx="666.2" cy="88.1" r="1.0" opacity="0.52"/>
<circle cx="583.4" cy="40.0" r="1.1" opacity="0.38"/>
<circle cx="581.2" cy="85.6" r="1.0" opacity="0.44"/>
<circle cx="660.4" cy="106.3" r="1.3" opacity="0.54"/>
<circle cx="592.6" cy="98.5" r="1.0" opacity="0.64"/>
<circle cx="681.0" cy="88.8" r="1.1" opacity="0.56"/>
<circle cx="590.7" cy="99.8" r="1.2" opacity="0.52"/>
<circle cx="565.2" cy="103.0" r="1.4" opacity="0.55"/>
<circle cx="614.3" cy="50.2" r="1.0" opacity="0.54"/>
<circle cx="592.1" cy="103.0" r="1.1" opacity="0.47"/>
<circle cx="640.5" cy="62.3" r="1.2" opacity="0.41"/>
<circle cx="656.4" cy="76.4" r="1.0" opacity="0.53"/>
<circle cx="621.1" cy="68.4" r="1.0" opacity="0.48"/>
<circle cx="610.6" cy="26.2" r="1.3" opacity="0.48"/>
<circle cx="648.8" cy="100.3" r="1.1" opacity="0.63"/>
<circle cx="621.7" cy="68.4" r="1.3" opacity="0.67"/>
<circle cx="639.5" cy="84.6" r="1.0" opacity="0.55"/>
<circle cx="591.1" cy="96.5" r="1.2" opacity="0.57"/>
<circle cx="681.0" cy="78.7" r="1.1" opacity="0.46"/>
<circle cx="627.0" cy="21.4" r="1.3" opacity="0.47"/>
<circle cx="676.5" cy="30.7" r="1.2" opacity="0.55"/>
<circle cx="573.0" cy="97.4" r="0.9" opacity="0.65"/>
<circle cx="609.9" cy="26.8" r="1.3" opacity="0.42"/>
<circle cx="602.0" cy="40.6" r="0.9" opacity="0.67"/>
<circle cx="672.8" cy="29.8" r="1.2" opacity="0.67"/>
<circle cx="569.7" cy="67.2" r="1.1" opacity="0.57"/>
<circle cx="649.3" cy="36.7" r="1.0" opacity="0.40"/>
<circle cx="584.1" cy="23.2" r="1.3" opacity="0.43"/>
<circle cx="620.1" cy="29.8" r="1.1" opacity="0.66"/>
<circle cx="603.7" cy="58.8" r="1.1" opacity="0.38"/>
<circle cx="645.1" cy="106.0" r="1.4" opacity="0.62"/>
<circle cx="639.4" cy="82.5" r="1.2" opacity="0.65"/>
<circle cx="566.6" cy="61.7" r="1.2" opacity="0.58"/>
<circle cx="625.8" cy="33.7" r="1.3" opacity="0.53"/>
<circle cx="624.1" cy="85.7" r="1.2" opacity="0.53"/>
<circle cx="665.4" cy="54.3" r="1.0" opacity="0.49"/>
<circle cx="643.8" cy="51.6" r="1.2" opacity="0.67"/>
<circle cx="584.2" cy="105.5" r="1.4" opacity="0.44"/>
<circle cx="644.0" cy="78.6" r="1.2" opacity="0.47"/>
<circle cx="641.4" cy="73.3" r="1.1" opacity="0.55"/>
<circle cx="629.9" cy="111.0" r="1.4" opacity="0.52"/>
<circle cx="663.5" cy="24.0" r="0.9" opacity="0.50"/>
<circle cx="600.0" cy="68.3" r="0.9" opacity="0.55"/>
<circle cx="661.3" cy="27.3" r="1.1" opacity="0.38"/>
<circle cx="664.2" cy="48.3" r="1.0" opacity="0.61"/>
<circle cx="589.5" cy="68.3" r="1.2" opacity="0.61"/>
<circle cx="647.4" cy="81.7" r="1.2" opacity="0.47"/>
<circle cx="570.5" cy="99.9" r="1.0" opacity="0.56"/>
<circle cx="606.8" cy="101.3" r="1.0" opacity="0.53"/>
<circle cx="617.9" cy="22.0" r="1.3" opacity="0.64"/>
<circle cx="637.4" cy="111.4" r="1.3" opacity="0.57"/>
<circle cx="664.7" cy="44.5" r="1.4" opacity="0.44"/>
<circle cx="667.0" cy="41.0" r="0.9" opacity="0.42"/>
<circle cx="572.5" cy="56.3" r="1.4" opacity="0.44"/>
<circle cx="614.5" cy="64.6" r="0.9" opacity="0.49"/>
<circle cx="642.6" cy="65.7" r="1.0" opacity="0.45"/>
<circle cx="626.9" cy="31.0" r="1.4" opacity="0.65"/>
<circle cx="632.0" cy="29.0" r="1.4" opacity="0.47"/>
<circle cx="605.8" cy="28.7" r="0.9" opacity="0.67"/>
<circle cx="624.3" cy="46.7" r="1.2" opacity="0.43"/>
<circle cx="656.6" cy="50.0" r="1.4" opacity="0.51"/>
<circle cx="588.5" cy="111.6" r="1.0" opacity="0.43"/>
<circle cx="649.3" cy="75.9" r="1.0" opacity="0.40"/>
<circle cx="626.2" cy="83.2" r="1.0" opacity="0.41"/>
<circle cx="599.1" cy="29.2" r="1.2" opacity="0.58"/>
<circle cx="596.7" cy="113.2" r="1.0" opacity="0.65"/>
<circle cx="647.4" cy="69.0" r="1.3" opacity="0.54"/>
<circle cx="672.7" cy="41.0" r="0.9" opacity="0.55"/>
<circle cx="652.9" cy="111.4" r="1.1" opacity="0.68"/>
<circle cx="568.2" cy="76.8" r="1.1" opacity="0.63"/>
<circle cx="671.1" cy="68.9" r="1.4" opacity="0.38"/>
<circle cx="568.2" cy="24.7" r="1.2" opacity="0.49"/>
<circle cx="609.2" cy="54.6" r="1.4" opacity="0.49"/>
<circle cx="629.6" cy="35.1" r="0.9" opacity="0.62"/>
<circle cx="579.8" cy="49.2" r="0.9" opacity="0.53"/>
<circle cx="620.1" cy="91.6" r="1.0" opacity="0.42"/>
<circle cx="607.5" cy="93.8" r="1.2" opacity="0.51"/>
<circle cx="654.7" cy="52.1" r="1.3" opacity="0.40"/>
<circle cx="657.6" cy="62.4" r="1.0" opacity="0.51"/>
<circle cx="675.8" cy="29.7" r="1.4" opacity="0.55"/>
<circle cx="624.2" cy="114.6" r="1.3" opacity="0.62"/>
<circle cx="659.0" cy="46.9" r="0.9" opacity="0.53"/>
<circle cx="653.9" cy="37.9" r="1.0" opacity="0.44"/>
<circle cx="595.8" cy="63.1" r="1.1" opacity="0.59"/>
<circle cx="643.7" cy="29.2" r="1.2" opacity="0.46"/>
<circle cx="608.3" cy="43.3" r="1.0" opacity="0.39"/>
<circle cx="614.5" cy="100.7" r="0.9" opacity="0.39"/>
<circle cx="587.8" cy="44.8" r="1.1" opacity="0.58"/>
<circle cx="631.9" cy="62.5" r="1.2" opacity="0.65"/>
<circle cx="580.1" cy="25.9" r="1.2" opacity="0.38"/>
<circle cx="587.0" cy="114.2" r="1.3" opacity="0.62"/>
<circle cx="573.9" cy="96.5" r="1.0" opacity="0.66"/>
<circle cx="613.4" cy="99.0" r="1.1" opacity="0.43"/>
<circle cx="580.7" cy="71.8" r="1.0" opacity="0.65"/>
<circle cx="643.4" cy="44.6" r="1.3" opacity="0.40"/>
<circle cx="575.0" cy="48.9" r="1.4" opacity="0.60"/>
<circle cx="631.5" cy="109.3" r="1.4" opacity="0.61"/>
<circle cx="664.8" cy="70.7" r="1.0" opacity="0.60"/>
<circle cx="580.0" cy="53.6" r="1.4" opacity="0.56"/>
<circle cx="643.4" cy="31.9" r="1.1" opacity="0.56"/>
<circle cx="570.2" cy="47.7" r="1.2" opacity="0.51"/>
<circle cx="609.6" cy="65.3" r="1.4" opacity="0.54"/>
<circle cx="568.8" cy="44.2" r="1.3" opacity="0.60"/>
<circle cx="667.5" cy="87.7" r="0.9" opacity="0.48"/>
<circle cx="616.4" cy="90.1" r="1.1" opacity="0.38"/>
<circle cx="630.2" cy="52.3" r="1.1" opacity="0.56"/>
<circle cx="670.8" cy="102.9" r="1.3" opacity="0.48"/>
<circle cx="621.1" cy="88.7" r="1.0" opacity="0.41"/>
<circle cx="588.4" cy="105.6" r="0.9" opacity="0.48"/>
<circle cx="615.0" cy="111.5" r="0.9" opacity="0.42"/>
<circle cx="641.3" cy="88.0" r="0.9" opacity="0.58"/>
<circle cx="594.2" cy="23.0" r="0.9" opacity="0.50"/>
<circle cx="583.1" cy="94.9" r="0.9" opacity="0.46"/>
<circle cx="625.7" cy="115.1" r="1.4" opacity="0.49"/>
<circle cx="587.1" cy="94.7" r="0.9" opacity="0.47"/>
<circle cx="589.6" cy="75.2" r="1.0" opacity="0.40"/>
<circle cx="649.2" cy="101.1" r="1.1" opacity="0.61"/>
<circle cx="669.9" cy="31.2" r="1.2" opacity="0.63"/>
<circle cx="575.7" cy="63.7" r="1.1" opacity="0.68"/>
<circle cx="673.8" cy="21.0" r="1.0" opacity="0.50"/>
<circle cx="642.7" cy="60.1" r="1.0" opacity="0.57"/>
<circle cx="626.8" cy="72.4" r="1.1" opacity="0.59"/>
<circle cx="619.9" cy="77.1" r="1.2" opacity="0.52"/>
<circle cx="681.4" cy="92.4" r="1.4" opacity="0.64"/>
<circle cx="601.9" cy="103.2" r="0.9" opacity="0.65"/>
<circle cx="586.9" cy="20.0" r="1.1" opacity="0.66"/>
<circle cx="606.4" cy="54.9" r="0.9" opacity="0.54"/>
<circle cx="578.6" cy="47.4" r="1.0" opacity="0.49"/>
<circle cx="665.8" cy="77.3" r="1.0" opacity="0.61"/>
<circle cx="638.5" cy="88.4" r="1.1" opacity="0.68"/>
<circle cx="578.5" cy="35.0" r="1.4" opacity="0.44"/>
<circle cx="565.4" cy="115.5" r="1.2" opacity="0.48"/>
<circle cx="584.6" cy="107.6" r="0.9" opacity="0.49"/>
<circle cx="670.5" cy="50.3" r="0.9" opacity="0.54"/>
<circle cx="660.2" cy="71.5" r="1.0" opacity="0.43"/>
<circle cx="661.5" cy="67.7" r="1.3" opacity="0.58"/>
<circle cx="668.4" cy="47.4" r="1.3" opacity="0.60"/>
<circle cx="578.2" cy="45.8" r="1.0" opacity="0.67"/>
<circle cx="658.6" cy="109.9" r="1.3" opacity="0.60"/>
<circle cx="623.7" cy="72.3" r="0.9" opacity="0.66"/>
<circle cx="574.6" cy="79.5" r="1.3" opacity="0.53"/>
<circle cx="582.5" cy="97.0" r="1.4" opacity="0.66"/>
<circle cx="567.8" cy="78.9" r="0.9" opacity="0.63"/>
<circle cx="619.0" cy="42.4" r="1.0" opacity="0.57"/>
<circle cx="636.7" cy="32.2" r="1.4" opacity="0.38"/>
<circle cx="636.7" cy="112.8" r="0.9" opacity="0.39"/>
<circle cx="643.6" cy="66.0" r="1.4" opacity="0.49"/>
<circle cx="663.6" cy="109.8" r="1.0" opacity="0.67"/>
<circle cx="625.7" cy="32.3" r="0.9" opacity="0.40"/>
<circle cx="617.3" cy="95.5" r="1.1" opacity="0.52"/>
<circle cx="639.2" cy="93.1" r="1.3" opacity="0.50"/>
<circle cx="589.9" cy="110.5" r="1.0" opacity="0.55"/>
<circle cx="672.1" cy="44.8" r="0.9" opacity="0.46"/>
<circle cx="635.5" cy="100.4" r="1.3" opacity="0.64"/>
<circle cx="601.0" cy="95.7" r="1.2" opacity="0.55"/>
<circle cx="671.7" cy="86.8" r="1.3" opacity="0.40"/>
<circle cx="680.4" cy="61.3" r="1.4" opacity="0.59"/>
<circle cx="616.9" cy="101.0" r="1.0" opacity="0.65"/>
<circle cx="602.8" cy="81.4" r="1.0" opacity="0.40"/>
<circle cx="650.8" cy="100.3" r="1.2" opacity="0.43"/>
<circle cx="641.8" cy="66.2" r="1.4" opacity="0.64"/>
<circle cx="617.8" cy="105.0" r="0.9" opacity="0.51"/>
<circle cx="666.1" cy="114.2" r="1.2" opacity="0.66"/>
<circle cx="585.4" cy="52.8" r="1.3" opacity="0.67"/>
<circle cx="583.7" cy="49.0" r="1.3" opacity="0.62"/>
<circle cx="588.5" cy="39.3" r="1.4" opacity="0.45"/>
<circle cx="614.2" cy="92.0" r="0.9" opacity="0.60"/>
<circle cx="618.8" cy="66.6" r="1.0" opacity="0.48"/>
<circle cx="602.3" cy="56.8" r="1.2" opacity="0.44"/>
<circle cx="614.7" cy="79.0" r="1.3" opacity="0.58"/>
<circle cx="634.5" cy="70.5" r="1.0" opacity="0.63"/>
<circle cx="672.7" cy="98.4" r="0.9" opacity="0.44"/>
<circle cx="671.9" cy="60.9" r="1.0" opacity="0.52"/>
<circle cx="669.0" cy="61.2" r="1.4" opacity="0.42"/>
<circle cx="611.7" cy="19.7" r="1.1" opacity="0.59"/>
<circle cx="626.8" cy="41.7" r="0.9" opacity="0.40"/>
<circle cx="646.9" cy="35.1" r="1.2" opacity="0.68"/>
<circle cx="648.8" cy="78.7" r="1.3" opacity="0.65"/>
<circle cx="579.0" cy="64.1" r="1.1" opacity="0.41"/>
<circle cx="675.0" cy="56.0" r="1.1" opacity="0.59"/>
<circle cx="610.0" cy="69.4" r="1.4" opacity="0.55"/>
<circle cx="583.2" cy="57.0" r="1.1" opacity="0.56"/>
<circle cx="585.4" cy="33.8" r="1.4" opacity="0.41"/>
<circle cx="617.3" cy="92.8" r="1.3" opacity="0.50"/>
<circle cx="625.2" cy="98.1" r="1.1" opacity="0.62"/>
<circle cx="575.5" cy="22.1" r="1.2" opacity="0.62"/>
<circle cx="630.7" cy="77.6" r="1.0" opacity="0.67"/>
<circle cx="617.4" cy="75.8" r="1.4" opacity="0.55"/>
<circle cx="681.1" cy="71.7" r="1.0" opacity="0.39"/>
<circle cx="578.3" cy="60.6" r="1.0" opacity="0.63"/>
<circle cx="667.6" cy="84.6" r="1.2" opacity="0.38"/>
<circle cx="619.3" cy="50.8" r="1.2" opacity="0.53"/>
<circle cx="576.2" cy="69.1" r="1.1" opacity="0.47"/>
<circle cx="664.0" cy="47.5" r="1.0" opacity="0.65"/>
<circle cx="626.0" cy="76.7" r="1.0" opacity="0.51"/>
<circle cx="620.3" cy="110.4" r="1.3" opacity="0.42"/>
<circle cx="600.7" cy="96.5" r="1.2" opacity="0.54"/>
<circle cx="611.6" cy="85.3" r="1.2" opacity="0.55"/>
<circle cx="681.1" cy="47.0" r="1.1" opacity="0.50"/>
<circle cx="611.4" cy="33.0" r="1.1" opacity="0.54"/>
<circle cx="574.0" cy="73.2" r="1.1" opacity="0.61"/>
<circle cx="671.1" cy="63.6" r="1.2" opacity="0.68"/>
<circle cx="670.9" cy="37.2" r="1.0" opacity="0.40"/>
<circle cx="671.1" cy="70.4" r="1.4" opacity="0.53"/>
<circle cx="661.6" cy="112.7" r="0.9" opacity="0.44"/>
<circle cx="674.3" cy="110.7" r="1.1" opacity="0.51"/>
<circle cx="640.1" cy="95.1" r="1.4" opacity="0.50"/>
<circle cx="593.6" cy="76.5" r="1.1" opacity="0.58"/>
<circle cx="575.7" cy="62.6" r="0.9" opacity="0.55"/>
<circle cx="568.8" cy="100.5" r="1.2" opacity="0.57"/>
<circle cx="634.8" cy="104.5" r="0.9" opacity="0.50"/>
<circle cx="671.4" cy="64.0" r="0.9" opacity="0.40"/>
<circle cx="682.0" cy="95.0" r="1.1" opacity="0.51"/>
<circle cx="570.6" cy="67.6" r="0.9" opacity="0.45"/>
<circle cx="653.4" cy="110.1" r="1.0" opacity="0.51"/>
<circle cx="627.3" cy="62.7" r="1.2" opacity="0.66"/>
<circle cx="646.9" cy="36.3" r="1.3" opacity="0.58"/>
<circle cx="649.0" cy="39.6" r="1.3" opacity="0.43"/>
<circle cx="604.6" cy="89.4" r="0.9" opacity="0.63"/>
<circle cx="661.7" cy="25.1" r="0.9" opacity="0.38"/>
<circle cx="670.1" cy="90.9" r="0.9" opacity="0.44"/>
<circle cx="581.4" cy="24.3" r="1.1" opacity="0.57"/>
<circle cx="568.2" cy="100.4" r="1.4" opacity="0.52"/>
<circle cx="623.6" cy="55.4" r="1.1" opacity="0.47"/>
<circle cx="679.0" cy="79.9" r="1.4" opacity="0.53"/>
<circle cx="627.7" cy="29.5" r="1.2" opacity="0.53"/>
<circle cx="616.4" cy="68.0" r="1.3" opacity="0.52"/>
<circle cx="656.2" cy="100.9" r="1.2" opacity="0.50"/>
<circle cx="635.9" cy="83.7" r="1.1" opacity="0.65"/>
<circle cx="606.8" cy="64.5" r="1.2" opacity="0.56"/>
<circle cx="571.2" cy="49.0" r="1.3" opacity="0.50"/>
<circle cx="670.5" cy="96.3" r="1.1" opacity="0.64"/>
<circle cx="640.4" cy="75.3" r="1.3" opacity="0.47"/>
<circle cx="672.3" cy="23.8" r="1.2" opacity="0.42"/>
<circle cx="649.4" cy="86.9" r="1.0" opacity="0.65"/>
<circle cx="664.5" cy="91.2" r="1.4" opacity="0.61"/>
<circle cx="662.4" cy="29.2" r="1.4" opacity="0.67"/>
<circle cx="679.4" cy="47.3" r="1.2" opacity="0.62"/>
<circle cx="565.1" cy="99.8" r="1.3" opacity="0.47"/>
<circle cx="666.4" cy="63.7" r="1.1" opacity="0.63"/>
<circle cx="579.4" cy="104.8" r="1.0" opacity="0.65"/>
<circle cx="571.4" cy="107.2" r="1.4" opacity="0.43"/>
<circle cx="681.5" cy="113.5" r="1.0" opacity="0.59"/>
<circle cx="618.3" cy="96.9" r="1.0" opacity="0.56"/>
<circle cx="567.4" cy="103.4" r="1.0" opacity="0.38"/>
<circle cx="645.7" cy="97.0" r="1.1" opacity="0.40"/>
<circle cx="612.8" cy="36.8" r="1.4" opacity="0.38"/>
<circle cx="673.1" cy="58.1" r="1.1" opacity="0.39"/>
<circle cx="677.2" cy="79.6" r="1.1" opacity="0.44"/>
<circle cx="634.9" cy="61.4" r="1.1" opacity="0.48"/>
<circle cx="666.1" cy="103.7" r="1.1" opacity="0.46"/>
<circle cx="578.9" cy="61.5" r="1.0" opacity="0.64"/>
<circle cx="659.6" cy="48.7" r="0.9" opacity="0.41"/>
<circle cx="572.4" cy="62.2" r="1.1" opacity="0.49"/>
<circle cx="592.5" cy="86.9" r="1.2" opacity="0.43"/>
<circle cx="565.7" cy="104.1" r="1.4" opacity="0.48"/>
<circle cx="641.3" cy="73.0" r="0.9" opacity="0.49"/>
<circle cx="583.5" cy="58.9" r="1.0" opacity="0.63"/>
<circle cx="599.2" cy="103.2" r="1.2" opacity="0.56"/>
<circle cx="638.9" cy="36.2" r="1.2" opacity="0.38"/>
<circle cx="649.3" cy="96.2" r="1.2" opacity="0.53"/>
<circle cx="669.2" cy="103.5" r="0.9" opacity="0.68"/>
<circle cx="651.6" cy="86.6" r="0.9" opacity="0.57"/>
<circle cx="683.0" cy="49.3" r="1.1" opacity="0.58"/>
<circle cx="646.6" cy="63.2" r="1.1" opacity="0.44"/>
<circle cx="655.4" cy="109.5" r="1.2" opacity="0.57"/>
<circle cx="593.5" cy="79.7" r="1.4" opacity="0.47"/>
<circle cx="610.8" cy="115.5" r="0.9" opacity="0.53"/>
<circle cx="625.8" cy="83.1" r="0.9" opacity="0.47"/>
<circle cx="574.4" cy="40.2" r="1.0" opacity="0.65"/>
<circle cx="585.5" cy="39.4" r="0.9" opacity="0.54"/>
<circle cx="653.8" cy="54.2" r="1.0" opacity="0.50"/>
<circle cx="579.8" cy="27.1" r="1.4" opacity="0.50"/>
<circle cx="596.7" cy="64.4" r="1.3" opacity="0.66"/>
<circle cx="672.1" cy="92.4" r="1.3" opacity="0.62"/>
<circle cx="655.7" cy="25.8" r="1.1" opacity="0.46"/>
<circle cx="593.1" cy="97.3" r="1.1" opacity="0.56"/>
<circle cx="616.2" cy="80.3" r="1.1" opacity="0.55"/>
<circle cx="591.2" cy="39.5" r="1.2" opacity="0.52"/>
<circle cx="574.9" cy="102.7" r="1.3" opacity="0.55"/>
<circle cx="647.3" cy="80.1" r="1.1" opacity="0.51"/>
<circle cx="642.1" cy="77.0" r="1.4" opacity="0.52"/>
<circle cx="581.3" cy="92.4" r="1.2" opacity="0.63"/>
<circle cx="598.9" cy="66.8" r="1.4" opacity="0.68"/>
<circle cx="612.3" cy="21.7" r="1.4" opacity="0.43"/>
<circle cx="582.4" cy="59.3" r="1.1" opacity="0.55"/>
<circle cx="614.2" cy="81.2" r="1.4" opacity="0.61"/>
<circle cx="645.7" cy="108.0" r="1.2" opacity="0.67"/>
<circle cx="651.6" cy="40.9" r="1.3" opacity="0.62"/>
<circle cx="641.9" cy="46.6" r="1.4" opacity="0.42"/>
<circle cx="608.4" cy="80.8" r="1.2" opacity="0.50"/>
<circle cx="575.3" cy="108.3" r="1.1" opacity="0.53"/>
<circle cx="662.6" cy="23.6" r="1.2" opacity="0.45"/>
<circle cx="593.0" cy="43.3" r="1.0" opacity="0.53"/>
<circle cx="580.5" cy="84.9" r="1.4" opacity="0.49"/>
<circle cx="571.9" cy="83.4" r="1.2" opacity="0.52"/>
<circle cx="570.4" cy="52.5" r="1.1" opacity="0.52"/>
<circle cx="640.1" cy="69.2" r="1.1" opacity="0.47"/>
<circle cx="634.3" cy="51.6" r="1.1" opacity="0.61"/>
<circle cx="589.6" cy="93.8" r="1.1" opacity="0.52"/>
<circle cx="591.7" cy="93.0" r="0.9" opacity="0.43"/>
<circle cx="631.4" cy="81.2" r="0.9" opacity="0.41"/>
<circle cx="629.3" cy="48.0" r="1.3" opacity="0.52"/>
<circle cx="663.8" cy="37.5" r="1.0" opacity="0.48"/>
<circle cx="572.6" cy="83.8" r="1.4" opacity="0.39"/>
<circle cx="580.0" cy="70.1" r="1.4" opacity="0.58"/>
<circle cx="595.1" cy="107.5" r="1.2" opacity="0.54"/>
<circle cx="597.2" cy="63.8" r="1.4" opacity="0.45"/>
<circle cx="568.3" cy="80.6" r="1.0" opacity="0.52"/>
<circle cx="608.0" cy="105.8" r="1.3" opacity="0.53"/>
<circle cx="682.3" cy="67.4" r="1.4" opacity="0.64"/>
<circle cx="585.8" cy="94.2" r="1.4" opacity="0.53"/>
<circle cx="675.7" cy="46.2" r="0.9" opacity="0.66"/>
<circle cx="628.6" cy="37.1" r="0.9" opacity="0.40"/>
<circle cx="592.5" cy="41.5" r="1.0" opacity="0.40"/>
<circle cx="621.8" cy="103.1" r="1.4" opacity="0.44"/>
<circle cx="613.5" cy="91.6" r="0.9" opacity="0.58"/>
<circle cx="620.1" cy="64.7" r="1.2" opacity="0.44"/>
<circle cx="604.7" cy="106.4" r="1.1" opacity="0.41"/>
<circle cx="653.9" cy="51.6" r="1.4" opacity="0.55"/>
<circle cx="582.6" cy="85.2" r="1.0" opacity="0.38"/>
<circle cx="633.7" cy="60.0" r="1.0" opacity="0.57"/>
<circle cx="573.0" cy="42.6" r="1.2" opacity="0.42"/>
<circle cx="596.1" cy="48.1" r="1.1" opacity="0.47"/>
<circle cx="578.6" cy="67.1" r="0.9" opacity="0.39"/>
<circle cx="632.2" cy="34.0" r="1.3" opacity="0.64"/>
<circle cx="645.1" cy="106.9" r="1.0" opacity="0.58"/>
<circle cx="618.3" cy="98.8" r="1.4" opacity="0.51"/>
<circle cx="658.9" cy="54.6" r="1.3" opacity="0.59"/>
<circle cx="617.9" cy="75.2" r="1.4" opacity="0.61"/>
<circle cx="580.5" cy="86.4" r="1.1" opacity="0.53"/>
<circle cx="650.4" cy="115.6" r="1.1" opacity="0.44"/>
<circle cx="665.5" cy="89.5" r="1.4" opacity="0.60"/>
<circle cx="572.8" cy="103.3" r="1.0" opacity="0.66"/>
<circle cx="618.3" cy="50.4" r="1.4" opacity="0.54"/>
<circle cx="582.7" cy="113.7" r="1.4" opacity="0.58"/>
<circle cx="618.1" cy="89.2" r="1.3" opacity="0.44"/>
<circle cx="637.3" cy="76.0" r="1.4" opacity="0.60"/>
<circle cx="585.6" cy="98.2" r="1.4" opacity="0.67"/>
<circle cx="583.4" cy="54.6" r="1.3" opacity="0.57"/>
<circle cx="586.0" cy="107.6" r="1.0" opacity="0.67"/>
<circle cx="683.7" cy="98.2" r="1.2" opacity="0.42"/>
<circle cx="641.6" cy="114.1" r="1.0" opacity="0.58"/>
<circle cx="575.9" cy="30.0" r="1.1" opacity="0.56"/>
<circle cx="682.2" cy="98.8" r="1.3" opacity="0.59"/>
<circle cx="571.5" cy="91.1" r="1.2" opacity="0.55"/>
<circle cx="587.9" cy="66.5" r="1.3" opacity="0.51"/>
<circle cx="658.0" cy="72.6" r="1.3" opacity="0.67"/>
<circle cx="666.3" cy="77.7" r="1.0" opacity="0.46"/>
<circle cx="575.1" cy="56.2" r="1.2" opacity="0.48"/>
<circle cx="679.2" cy="69.1" r="1.2" opacity="0.65"/>
<circle cx="630.7" cy="22.4" r="1.2" opacity="0.42"/>
<circle cx="678.1" cy="59.8" r="0.9" opacity="0.49"/>
<circle cx="575.2" cy="82.0" r="0.9" opacity="0.39"/>
<circle cx="668.1" cy="112.3" r="0.9" opacity="0.65"/>
<circle cx="642.1" cy="71.6" r="1.0" opacity="0.51"/>
<circle cx="617.9" cy="36.8" r="0.9" opacity="0.47"/>
<circle cx="627.9" cy="77.7" r="1.3" opacity="0.40"/>
<circle cx="654.3" cy="72.7" r="1.4" opacity="0.55"/>
<circle cx="637.5" cy="34.1" r="1.4" opacity="0.38"/>
<circle cx="615.1" cy="110.5" r="0.9" opacity="0.60"/>
<circle cx="597.5" cy="31.5" r="1.2" opacity="0.66"/>
<circle cx="619.3" cy="82.2" r="1.0" opacity="0.59"/>
<circle cx="577.0" cy="49.7" r="1.3" opacity="0.54"/>
<circle cx="646.3" cy="53.7" r="1.2" opacity="0.51"/>
<circle cx="639.7" cy="86.2" r="1.1" opacity="0.39"/>
<circle cx="586.5" cy="107.3" r="0.9" opacity="0.45"/>
<circle cx="645.8" cy="111.1" r="1.2" opacity="0.63"/>
<circle cx="565.1" cy="42.4" r="1.3" opacity="0.60"/>
<circle cx="582.7" cy="101.4" r="1.3" opacity="0.55"/>
<circle cx="680.1" cy="97.2" r="1.4" opacity="0.45"/>
<circle cx="602.6" cy="73.2" r="1.4" opacity="0.38"/>
<circle cx="580.4" cy="77.1" r="1.0" opacity="0.57"/>
<circle cx="649.6" cy="112.7" r="1.2" opacity="0.54"/>
<circle cx="612.3" cy="74.0" r="1.1" opacity="0.65"/>
<circle cx="620.8" cy="28.0" r="1.0" opacity="0.57"/>
<circle cx="642.0" cy="62.2" r="1.4" opacity="0.66"/>
<circle cx="634.0" cy="70.5" r="1.1" opacity="0.63"/>
<circle cx="682.2" cy="40.4" r="1.1" opacity="0.53"/>
<circle cx="644.2" cy="39.5" r="1.0" opacity="0.48"/>
<circle cx="612.7" cy="47.0" r="1.1" opacity="0.66"/>
<circle cx="655.4" cy="74.7" r="1.0" opacity="0.51"/>
<circle cx="666.9" cy="58.1" r="1.4" opacity="0.47"/>
<circle cx="640.7" cy="68.2" r="1.3" opacity="0.66"/>
<circle cx="668.2" cy="41.7" r="1.2" opacity="0.56"/>
<circle cx="567.8" cy="101.0" r="1.1" opacity="0.67"/>
<circle cx="602.3" cy="40.6" r="0.9" opacity="0.44"/>
<circle cx="613.6" cy="44.3" r="1.2" opacity="0.40"/>
<circle cx="628.4" cy="86.4" r="0.9" opacity="0.54"/>
<circle cx="649.4" cy="56.3" r="1.4" opacity="0.61"/>
<circle cx="606.2" cy="21.9" r="0.9" opacity="0.39"/>
<circle cx="572.0" cy="72.5" r="1.1" opacity="0.56"/>
<circle cx="605.2" cy="70.7" r="0.9" opacity="0.67"/>
<circle cx="653.2" cy="94.8" r="1.1" opacity="0.45"/>
<circle cx="586.2" cy="88.3" r="1.4" opacity="0.48"/>
<circle cx="594.8" cy="79.0" r="1.3" opacity="0.40"/>
<circle cx="571.8" cy="96.2" r="1.1" opacity="0.50"/>
<circle cx="665.7" cy="47.9" r="1.3" opacity="0.63"/>
<circle cx="629.8" cy="31.8" r="1.2" opacity="0.58"/>
<circle cx="568.2" cy="100.8" r="0.9" opacity="0.45"/>
<circle cx="593.7" cy="29.7" r="1.4" opacity="0.57"/>
<circle cx="592.3" cy="41.6" r="1.2" opacity="0.41"/>
<circle cx="616.7" cy="115.1" r="1.3" opacity="0.52"/>
<circle cx="583.7" cy="56.1" r="1.2" opacity="0.58"/>
<circle cx="576.5" cy="73.4" r="0.9" opacity="0.45"/>
<circle cx="659.6" cy="101.5" r="1.3" opacity="0.50"/>
<circle cx="681.1" cy="55.8" r="1.4" opacity="0.53"/>
<circle cx="675.5" cy="47.2" r="1.2" opacity="0.65"/>
<circle cx="584.0" cy="55.3" r="1.3" opacity="0.45"/>
<circle cx="618.0" cy="98.1" r="1.2" opacity="0.53"/>
<circle cx="629.1" cy="95.2" r="1.0" opacity="0.63"/>
<circle cx="604.4" cy="26.3" r="1.0" opacity="0.52"/>
<circle cx="680.0" cy="104.0" r="1.1" opacity="0.55"/>
<circle cx="605.9" cy="50.8" r="1.2" opacity="0.43"/>
</g>
<g filter="url(#ff)" fill="none" stroke="#22e03a" stroke-linecap="round" stroke-linejoin="round">
<path d="M603.1,40.8 L605.5,40.4 L607.4,39.0 L608.9,37.1 L610.0,35.0 L611.9,33.5 L613.7,32.0 L614.7,29.8 L615.2,27.4 L616.0,25.2" stroke-width="0.69" opacity="0.23"/>
<path d="M603.1,40.8 L600.8,41.6 L598.5,41.9 L596.1,42.5 L593.7,42.3 L591.5,43.2 L589.2,43.8 L586.8,44.1 L584.5,44.6 L582.1,44.8 L579.9,45.8 L577.5,46.1 L575.1,45.8 L572.7,45.7 L570.4,45.3" stroke-width="0.68" opacity="0.34"/>
<path d="M570.4,45.3 L568.6,47.0 L566.5,48.1 L565.1,50.0 L563.7,52.0 L561.9,53.5 L560.0,55.0 L557.7,55.8 L555.3,55.8 L552.9,55.9 L550.6,55.2" stroke-width="0.5" opacity="0.22"/>
<path d="M603.1,40.8 L605.5,41.3 L607.8,40.6 L609.6,39.0 L611.8,38.2 L614.2,38.1 L616.6,38.1 L618.9,37.4 L621.3,37.6 L623.6,36.9 L625.8,35.8 L627.1,33.8 L629.2,32.7 L631.2,31.4 L633.5,30.7 L635.9,30.7 L638.3,30.9 L640.4,32.2 L642.0,33.9 L642.7,36.2 L642.3,38.6" stroke-width="0.47" opacity="0.32"/>
<path d="M642.3,38.6 L643.0,40.9 L642.9,43.3 L643.1,45.7 L642.9,48.1 L642.7,50.5 L641.8,52.7 L641.6,55.1 L641.8,57.5 L643.2,59.4 L645.0,61.0" stroke-width="0.5" opacity="0.22"/>
<path d="M643.1,41.2 L645.5,41.5 L647.8,42.3 L649.6,43.8 L651.6,45.0 L653.2,46.9 L654.3,49.0 L655.2,51.2 L656.3,53.4 L657.2,55.6" stroke-width="0.47" opacity="0.23"/>
<path d="M657.2,55.6 L659.0,57.2 L661.2,58.1 L663.3,59.3 L665.7,59.5 L667.9,58.6" stroke-width="0.5" opacity="0.22"/>
<path d="M643.1,41.2 L644.6,43.1 L646.5,44.5 L648.4,46.1 L650.3,47.4 L652.6,48.2 L655.0,48.3 L657.2,49.1 L659.3,50.3 L660.7,52.2 L662.7,53.6 L664.9,54.5 L667.2,55.4 L669.6,55.3 L671.9,54.7 L674.2,54.2 L676.6,53.6 L678.9,54.0 L681.2,54.6 L683.5,55.6 L685.6,56.7" stroke-width="0.69" opacity="0.27"/>
<path d="M685.6,56.7 L685.4,59.1 L686.1,61.3 L685.7,63.7 L684.8,65.9 L683.6,68.0 L681.7,69.5 L680.5,71.5 L680.0,73.9 L679.4,76.2 L679.1,78.6 L678.1,80.8 L677.1,83.0 L675.5,84.8 L673.6,86.2 L671.3,86.9 L669.4,88.4 L667.9,90.3" stroke-width="0.5" opacity="0.22"/>
<path d="M643.1,41.2 L643.1,43.6 L642.3,45.9 L641.0,47.9 L639.7,49.9 L639.5,52.3 L640.0,54.6 L639.5,57.0 L639.1,59.4" stroke-width="0.51" opacity="0.33"/>
<path d="M643.1,41.2 L644.9,42.8 L645.8,45.0 L647.6,46.6 L649.8,47.5 L651.9,48.6 L654.3,48.9 L656.7,49.4 L658.7,50.7 L660.7,52.0 L662.5,53.6 L664.7,54.5 L666.8,55.7 L668.4,57.5 L670.3,58.9" stroke-width="0.72" opacity="0.23"/>
<path d="M670.3,58.9 L672.7,59.5 L674.7,60.7 L676.2,62.6 L678.0,64.3 L678.8,66.5 L680.2,68.5 L681.4,70.5 L682.3,72.8 L683.7,74.7 L685.3,76.5 L687.5,77.5 L689.3,79.1 L691.5,80.0 L693.9,80.1" stroke-width="0.5" opacity="0.22"/>
<path d="M635.7,59.3 L634.9,61.6 L635.0,64.0 L634.3,66.3 L633.3,68.4 L631.3,69.8 L629.4,71.3 L627.0,71.7 L624.9,72.8 L623.2,74.5 L621.7,76.3 L620.3,78.3 L618.5,79.9 L617.0,81.8 L615.2,83.4 L612.9,84.0 L611.1,85.6" stroke-width="0.73" opacity="0.22"/>
<path d="M635.7,59.3 L633.9,57.7 L631.6,56.9 L629.3,56.5 L627.3,55.0 L625.3,53.8 L624.0,51.7 L622.5,49.9 L621.5,47.7 L620.6,45.5 L619.8,43.2 L620.3,40.8 L621.1,38.6 L621.2,36.2 L621.7,33.9 L623.1,31.9" stroke-width="0.69" opacity="0.35"/>
<path d="M623.1,31.9 L622.9,29.5 L623.0,27.1 L622.8,24.7 L622.1,22.4 L622.0,20.0 L621.2,17.8 L620.9,15.4 L620.6,13.0" stroke-width="0.5" opacity="0.22"/>
<path d="M635.7,59.3 L633.9,60.8 L632.3,62.7 L630.1,63.7 L628.0,64.8 L625.7,65.4 L623.3,65.5 L621.0,64.7 L618.9,63.5 L616.6,63.3 L614.2,63.2 L611.8,63.0 L609.4,62.5 L607.0,62.8 L604.7,62.2 L602.3,62.2 L599.9,62.2 L597.7,63.2" stroke-width="0.71" opacity="0.28"/>
<path d="M603.1,77.3 L600.7,77.6 L598.4,78.1 L596.4,79.4 L595.2,81.5 L593.9,83.5 L591.9,84.8 L590.1,86.4 L588.6,88.3 L587.5,90.4 L585.9,92.2" stroke-width="0.60" opacity="0.33"/>
<path d="M585.9,92.2 L585.0,94.4 L584.7,96.8 L584.8,99.2 L585.8,101.4 L586.6,103.7 L587.2,106.0 L587.8,108.3 L589.4,110.1" stroke-width="0.5" opacity="0.22"/>
<path d="M603.1,77.3 L601.6,75.4 L599.9,73.8 L597.6,73.1 L595.8,71.5 L594.1,69.8 L592.5,68.0 L590.3,67.0 L588.4,65.5 L586.4,64.3 L584.5,62.8 L582.4,61.7 L580.8,59.8 L579.1,58.2 L577.0,57.0 L575.6,55.1 L573.7,53.6 L571.5,52.7 L569.3,51.7 L567.7,49.9" stroke-width="0.48" opacity="0.25"/>
<path d="M603.1,77.3 L605.2,78.4 L607.1,79.9 L609.3,80.9 L611.7,80.9 L614.0,81.5 L616.4,81.1 L618.8,80.8 L621.0,79.8 L622.6,78.0 L624.7,76.9 L626.7,75.6 L629.0,75.0" stroke-width="0.72" opacity="0.23"/>
<path d="M603.1,77.3 L602.5,75.0 L602.8,72.6 L602.2,70.3 L601.6,67.9 L600.9,65.6 L599.4,63.8 L597.5,62.3 L596.4,60.2 L595.7,57.9" stroke-width="0.60" opacity="0.30"/>
<path d="M657.4,88.0 L659.8,88.1 L662.2,87.7 L664.6,87.6 L666.8,88.4 L668.9,89.6 L670.8,91.0 L672.1,93.1 L672.3,95.4 L673.3,97.6 L675.2,99.0 L677.5,99.8 L679.4,101.3 L681.6,102.4 L683.9,103.0 L685.7,104.5" stroke-width="0.47" opacity="0.26"/>
<path d="M685.7,104.5 L688.1,104.7 L690.5,104.4 L692.9,104.6 L695.0,105.8 L697.4,106.2 L699.7,106.5 L701.7,107.9 L703.0,109.9 L704.3,111.9" stroke-width="0.5" opacity="0.22"/>
<path d="M657.4,88.0 L659.5,89.1 L661.8,90.0 L664.2,90.1 L666.5,89.3 L668.8,89.7 L671.2,89.8 L673.5,90.6 L675.8,91.3 L678.2,91.0 L680.2,89.8 L682.6,89.7 L684.8,88.8 L687.2,88.4" stroke-width="0.48" opacity="0.25"/>
<path d="M687.2,88.4 L689.6,88.5 L691.7,89.7 L693.9,90.6 L695.9,91.9 L698.3,92.2 L700.7,92.5 L703.0,93.0 L705.4,92.4 L707.8,92.1 L710.1,91.6 L712.4,90.8 L714.8,90.7 L717.1,91.0 L719.5,90.5 L721.4,89.1 L722.6,87.0 L723.2,84.7" stroke-width="0.5" opacity="0.22"/>
<path d="M657.4,88.0 L656.8,85.7 L657.1,83.3 L656.5,81.0 L656.6,78.6 L657.3,76.3 L657.9,74.0" stroke-width="0.75" opacity="0.30"/>
<path d="M657.9,74.0 L656.2,72.3 L654.0,71.3 L652.2,69.8 L650.6,68.0 L650.1,65.6 L648.6,63.7 L646.6,62.4" stroke-width="0.5" opacity="0.22"/>
<path d="M657.4,88.0 L655.8,86.2 L653.6,85.2 L651.8,83.6 L650.8,81.4 L649.9,79.2 L649.3,76.9 L647.6,75.1 L646.2,73.2 L644.9,71.2" stroke-width="0.68" opacity="0.29"/>
<path d="M644.9,71.2 L642.5,71.1 L640.2,70.5 L637.8,70.4 L635.5,69.7 L633.1,69.3 L630.7,69.2 L628.3,69.1 L626.2,70.1 L623.8,70.1 L621.6,71.2 L619.5,72.3 L618.1,74.2 L616.3,75.9 L614.7,77.6 L613.2,79.5" stroke-width="0.5" opacity="0.22"/>
<path d="M626.2,89.2 L623.9,88.4 L621.7,87.5 L619.4,86.9 L617.0,86.5 L614.8,85.5 L612.4,85.6 L610.0,85.8 L607.7,86.4 L605.3,86.7 L603.0,86.3 L600.6,85.9 L598.3,85.3" stroke-width="0.54" opacity="0.25"/>
<path d="M598.3,85.3 L596.0,84.8 L593.9,83.5 L591.6,82.9 L589.2,82.6 L586.9,83.2 L584.7,84.3 L582.4,84.9 L580.2,85.9" stroke-width="0.5" opacity="0.22"/>
<path d="M626.2,89.2 L625.0,91.3 L625.0,93.7 L624.1,95.9 L622.8,98.0 L621.8,100.2 L621.0,102.4 L619.8,104.5 L619.4,106.9 L619.3,109.3 L618.5,111.5 L617.3,113.6 L615.9,115.6 L615.4,117.9 L615.6,120.3 L616.4,122.6" stroke-width="0.46" opacity="0.31"/>
<path d="M616.4,122.6 L614.8,124.4 L613.3,126.3 L612.9,128.7 L612.8,131.1 L613.9,133.2 L615.8,134.7 L616.8,136.9 L618.1,138.9 L619.7,140.7 L620.3,143.0 L621.8,144.9 L624.0,145.8 L626.2,146.9" stroke-width="0.5" opacity="0.22"/>
<path d="M626.2,89.2 L624.3,90.6 L623.1,92.7 L622.9,95.1 L622.3,97.4 L621.5,99.7 L620.3,101.8 L619.2,103.9 L619.1,106.3 L619.1,108.7" stroke-width="0.70" opacity="0.30"/>
<path d="M619.1,108.7 L620.6,110.5 L622.7,111.7 L624.5,113.3 L625.5,115.5 L625.6,117.9 L625.4,120.3" stroke-width="0.5" opacity="0.22"/>
<path d="M661.0,27.9 L658.8,28.8 L657.0,30.5 L654.8,31.3 L652.4,31.8 L650.5,33.2 L649.4,35.4 L648.2,37.5 L646.2,38.8 L644.1,39.9 L641.7,40.1 L639.6,41.3 L637.4,42.2 L635.6,43.8 L634.1,45.7 L633.4,48.0 L632.7,50.3 L633.1,52.7 L633.2,55.1 L632.9,57.5" stroke-width="0.76" opacity="0.28"/>
<path d="M574.0,103.0 L571.7,102.4 L569.3,102.8 L566.9,102.6 L564.6,103.3 L562.2,102.8 L559.9,102.2 L558.0,100.8 L556.1,99.4 L553.9,98.3 L552.0,96.9 L550.4,95.1 L548.7,93.4 L546.7,92.1 L544.6,90.9 L542.7,89.4 L540.6,88.4 L538.2,88.1" stroke-width="0.59" opacity="0.26"/>
<path d="M572.9,45.6 L575.3,46.1 L577.5,46.8 L579.9,46.7 L582.1,45.6 L583.7,43.9 L586.0,43.1 L588.1,42.0 L590.5,42.0 L592.7,43.0 L594.9,43.9 L596.8,45.4 L599.0,46.3 L601.1,47.4 L603.5,47.5" stroke-width="0.59" opacity="0.26"/>
<path d="M599.8,30.5 L600.8,28.3 L601.5,26.1 L602.3,23.8 L602.0,21.4 L601.4,19.1 L599.8,17.3 L599.2,15.0 L599.7,12.6 L600.4,10.3 L600.4,7.9 L601.2,5.7 L601.5,3.3 L602.5,1.1 L603.8,-0.9 L605.3,-2.8 L607.2,-4.2 L608.8,-6.0 L610.8,-7.3 L612.9,-8.4 L615.2,-9.0" stroke-width="0.74" opacity="0.18"/>
<path d="M613.8,54.2 L615.7,55.7 L617.6,57.2 L619.4,58.8 L620.6,60.9 L622.5,62.3 L624.6,63.5 L626.4,65.1 L628.2,66.7 L630.0,68.3 L632.1,69.4 L634.4,69.9 L636.7,70.8 L639.0,71.3 L640.9,72.8 L642.1,74.9 L642.1,77.3 L642.8,79.6 L643.4,81.9 L644.8,83.9 L646.5,85.6 L648.7,86.4 L651.0,87.3 L652.6,89.0 L653.7,91.1" stroke-width="0.55" opacity="0.18"/>
<path d="M675.8,24.6 L676.1,22.2 L677.5,20.2 L679.2,18.5 L680.7,16.6 L682.0,14.6 L683.5,12.7 L685.0,10.9 L687.2,9.8 L689.6,9.6 L691.9,8.9 L693.6,7.3 L695.7,6.1 L698.0,5.4" stroke-width="0.66" opacity="0.14"/>
<path d="M574.0,105.9 L571.8,106.7 L570.2,108.5 L568.4,110.2 L567.3,112.3 L566.5,114.5 L565.7,116.8 L564.8,119.0 L564.9,121.4 L564.0,123.7 L563.5,126.0 L562.0,127.9 L561.3,130.2 L561.0,132.6 L561.4,135.0 L561.9,137.3 L561.4,139.7 L560.0,141.6 L558.1,143.0 L556.1,144.3 L553.7,144.9 L551.8,146.3" stroke-width="0.59" opacity="0.27"/>
<path d="M588.8,65.8 L586.4,66.2 L584.2,67.1 L582.5,68.8 L580.2,69.6 L578.1,70.7 L576.1,72.1 L573.8,72.7" stroke-width="0.61" opacity="0.25"/>
<path d="M617.3,63.7 L619.7,63.4 L622.1,63.6 L624.1,64.9 L626.4,65.6 L628.7,66.3 L631.1,66.1 L633.4,65.6 L635.3,64.1 L637.1,62.5 L639.4,61.7 L641.8,61.7 L644.1,62.3 L645.9,63.8 L647.7,65.4" stroke-width="0.74" opacity="0.23"/>
<path d="M577.9,64.0 L577.1,61.7 L576.4,59.4 L575.2,57.4 L575.0,55.0 L574.1,52.8 L572.4,51.0 L570.9,49.2 L569.1,47.6 L567.6,45.7 L565.5,44.6 L563.6,43.1 L561.5,41.9 L560.1,40.0 L558.3,38.4 L556.5,36.9 L554.4,35.7" stroke-width="0.61" opacity="0.18"/>
<path d="M644.6,59.1 L643.4,57.0 L642.3,54.8 L641.0,52.9 L639.9,50.7 L639.8,48.3 L639.6,46.0 L638.9,43.7 L638.2,41.4 L637.1,39.2 L636.3,37.0 L636.4,34.6 L637.1,32.3 L637.1,29.9 L638.0,27.6 L639.5,25.7" stroke-width="0.73" opacity="0.22"/>
<path d="M648.3,91.2 L649.1,89.0 L650.3,86.9 L651.4,84.7 L652.6,82.7 L654.2,80.9 L655.7,79.0 L656.3,76.6 L656.5,74.3" stroke-width="0.78" opacity="0.20"/>
</g>
<g filter="url(#fc)">
<ellipse cx="603.1" cy="40.8" rx="2.4" ry="2.4" fill="#38f25a"/>
<line x1="604.7" y1="37.4" x2="601.5" y2="44.2" stroke="#30e050" stroke-width="0.9" stroke-linecap="round" opacity="0.8"/>
<line x1="607.1" y1="37.4" x2="599.1" y2="44.2" stroke="#30e050" stroke-width="0.9" stroke-linecap="round" opacity="0.8"/>
<line x1="601.4" y1="36.8" x2="604.8" y2="44.8" stroke="#30e050" stroke-width="0.9" stroke-linecap="round" opacity="0.8"/>
<ellipse cx="643.1" cy="41.2" rx="3.8" ry="3.8" fill="#38f25a"/>
<line x1="643.4" y1="34.7" x2="642.8" y2="47.7" stroke="#30e050" stroke-width="0.9" stroke-linecap="round" opacity="0.8"/>
<line x1="638.3" y1="37.5" x2="647.9" y2="44.9" stroke="#30e050" stroke-width="0.9" stroke-linecap="round" opacity="0.8"/>
<line x1="647.1" y1="35.2" x2="639.1" y2="47.2" stroke="#30e050" stroke-width="0.9" stroke-linecap="round" opacity="0.8"/>
<ellipse cx="635.7" cy="59.3" rx="1.6" ry="1.6" fill="#38f25a"/>
<line x1="639.3" y1="58.8" x2="632.1" y2="59.8" stroke="#30e050" stroke-width="0.9" stroke-linecap="round" opacity="0.8"/>
<line x1="639.0" y1="57.9" x2="632.4" y2="60.7" stroke="#30e050" stroke-width="0.9" stroke-linecap="round" opacity="0.8"/>
<line x1="637.8" y1="58.1" x2="633.6" y2="60.5" stroke="#30e050" stroke-width="0.9" stroke-linecap="round" opacity="0.8"/>
<ellipse cx="603.1" cy="77.3" rx="2.2" ry="2.2" fill="#38f25a"/>
<line x1="598.5" y1="75.3" x2="607.7" y2="79.3" stroke="#30e050" stroke-width="0.9" stroke-linecap="round" opacity="0.8"/>
<line x1="607.1" y1="75.6" x2="599.1" y2="79.0" stroke="#30e050" stroke-width="0.9" stroke-linecap="round" opacity="0.8"/>
<line x1="604.6" y1="73.5" x2="601.6" y2="81.1" stroke="#30e050" stroke-width="0.9" stroke-linecap="round" opacity="0.8"/>
<ellipse cx="657.4" cy="88" rx="4.6" ry="2.4" fill="#38f25a"/>
<line x1="655.7" y1="80.8" x2="659.1" y2="95.2" stroke="#30e050" stroke-width="0.9" stroke-linecap="round" opacity="0.8"/>
<line x1="658.6" y1="80.2" x2="656.2" y2="95.8" stroke="#30e050" stroke-width="0.9" stroke-linecap="round" opacity="0.8"/>
<line x1="648.0" y1="84.2" x2="666.8" y2="91.8" stroke="#30e050" stroke-width="0.9" stroke-linecap="round" opacity="0.8"/>
<ellipse cx="626.2" cy="89.2" rx="1.3" ry="1.3" fill="#38f25a"/>
<line x1="626.9" y1="86.4" x2="625.5" y2="92.0" stroke="#30e050" stroke-width="0.9" stroke-linecap="round" opacity="0.8"/>
<line x1="624.7" y1="87.2" x2="627.7" y2="91.2" stroke="#30e050" stroke-width="0.9" stroke-linecap="round" opacity="0.8"/>
<line x1="624.4" y1="87.0" x2="628.0" y2="91.4" stroke="#30e050" stroke-width="0.9" stroke-linecap="round" opacity="0.8"/>
</g>
</g>
<clipPath id="cpbl"><rect x="445.2" y="116.6" width="118.8" height="94.9"/></clipPath>
<g clip-path="url(#cpbl)">
<rect x="445.2" y="116.6" width="118.8" height="94.9" fill="#020c06"/>
<g filter="url(#fh)">
<ellipse cx="462" cy="200" rx="12" ry="10" fill="#103090" opacity="0.4"/>
</g>
<g filter="url(#fb)" fill="#1733d4">
<circle cx="470.0" cy="178.1" r="1.0" opacity="0.21"/>
<circle cx="540.5" cy="138.6" r="0.9" opacity="0.21"/>
<circle cx="529.3" cy="163.8" r="1.1" opacity="0.35"/>
<circle cx="491.7" cy="169.5" r="1.2" opacity="0.21"/>
<circle cx="510.8" cy="135.6" r="1.3" opacity="0.22"/>
<circle cx="512.3" cy="118.2" r="0.9" opacity="0.30"/>
<circle cx="503.3" cy="198.0" r="1.4" opacity="0.28"/>
<circle cx="471.0" cy="155.1" r="1.2" opacity="0.23"/>
<circle cx="528.6" cy="133.1" r="1.2" opacity="0.31"/>
<circle cx="509.3" cy="199.5" r="0.9" opacity="0.27"/>
<circle cx="456.8" cy="196.5" r="1.4" opacity="0.23"/>
<circle cx="461.1" cy="188.1" r="1.1" opacity="0.29"/>
<circle cx="509.3" cy="160.4" r="1.3" opacity="0.22"/>
<circle cx="509.7" cy="150.1" r="0.9" opacity="0.29"/>
<circle cx="481.1" cy="198.9" r="1.1" opacity="0.23"/>
<circle cx="502.6" cy="183.6" r="1.2" opacity="0.28"/>
<circle cx="446.6" cy="207.9" r="1.2" opacity="0.35"/>
<circle cx="463.4" cy="197.4" r="0.9" opacity="0.24"/>
<circle cx="505.9" cy="133.1" r="1.4" opacity="0.27"/>
<circle cx="472.9" cy="173.3" r="1.2" opacity="0.30"/>
<circle cx="455.7" cy="168.7" r="1.3" opacity="0.30"/>
<circle cx="467.2" cy="183.4" r="0.9" opacity="0.27"/>
<circle cx="478.2" cy="175.3" r="1.1" opacity="0.28"/>
<circle cx="524.4" cy="132.6" r="0.9" opacity="0.25"/>
<circle cx="464.4" cy="188.0" r="0.9" opacity="0.26"/>
<circle cx="455.2" cy="161.3" r="1.3" opacity="0.28"/>
<circle cx="507.8" cy="132.7" r="1.0" opacity="0.23"/>
<circle cx="518.2" cy="147.4" r="1.2" opacity="0.33"/>
<circle cx="455.6" cy="197.0" r="1.2" opacity="0.24"/>
<circle cx="514.6" cy="129.9" r="1.3" opacity="0.20"/>
<circle cx="484.3" cy="161.9" r="1.3" opacity="0.21"/>
<circle cx="505.8" cy="141.2" r="1.0" opacity="0.23"/>
<circle cx="472.7" cy="201.5" r="1.4" opacity="0.32"/>
<circle cx="477.1" cy="169.2" r="1.4" opacity="0.30"/>
<circle cx="458.6" cy="165.8" r="1.3" opacity="0.24"/>
<circle cx="453.6" cy="196.0" r="1.3" opacity="0.31"/>
<circle cx="504.5" cy="164.8" r="1.0" opacity="0.33"/>
<circle cx="469.6" cy="161.0" r="1.0" opacity="0.33"/>
<circle cx="449.1" cy="192.4" r="1.4" opacity="0.24"/>
<circle cx="457.8" cy="194.8" r="1.4" opacity="0.31"/>
<circle cx="468.0" cy="184.0" r="1.2" opacity="0.21"/>
<circle cx="527.2" cy="148.9" r="1.0" opacity="0.32"/>
<circle cx="512.1" cy="129.4" r="1.1" opacity="0.20"/>
<circle cx="450.5" cy="159.3" r="1.4" opacity="0.22"/>
<circle cx="537.5" cy="180.5" r="1.1" opacity="0.24"/>
<circle cx="517.4" cy="154.3" r="1.2" opacity="0.29"/>
<circle cx="474.9" cy="164.3" r="1.0" opacity="0.27"/>
<circle cx="526.2" cy="131.3" r="1.0" opacity="0.21"/>
<circle cx="542.6" cy="124.3" r="1.4" opacity="0.23"/>
<circle cx="553.9" cy="188.2" r="0.9" opacity="0.30"/>
<circle cx="462.5" cy="179.8" r="1.0" opacity="0.28"/>
<circle cx="527.3" cy="175.6" r="1.4" opacity="0.32"/>
<circle cx="506.4" cy="172.6" r="1.3" opacity="0.28"/>
<circle cx="478.2" cy="165.6" r="0.9" opacity="0.28"/>
<circle cx="505.6" cy="172.0" r="1.1" opacity="0.28"/>
<circle cx="476.0" cy="146.4" r="1.1" opacity="0.25"/>
<circle cx="462.4" cy="193.1" r="1.1" opacity="0.27"/>
<circle cx="536.2" cy="133.3" r="0.9" opacity="0.23"/>
<circle cx="460.9" cy="178.6" r="1.0" opacity="0.31"/>
<circle cx="476.6" cy="182.7" r="1.4" opacity="0.30"/>
<circle cx="510.4" cy="121.5" r="1.1" opacity="0.36"/>
<circle cx="462.4" cy="172.8" r="1.4" opacity="0.32"/>
<circle cx="490.5" cy="193.0" r="1.3" opacity="0.29"/>
<circle cx="540.1" cy="148.5" r="0.9" opacity="0.32"/>
<circle cx="505.4" cy="189.1" r="1.0" opacity="0.23"/>
<circle cx="531.4" cy="120.3" r="1.0" opacity="0.32"/>
<circle cx="450.3" cy="177.3" r="0.9" opacity="0.33"/>
<circle cx="449.1" cy="168.5" r="1.1" opacity="0.26"/>
<circle cx="538.0" cy="153.3" r="1.4" opacity="0.30"/>
<circle cx="522.8" cy="149.4" r="1.2" opacity="0.26"/>
<circle cx="512.9" cy="188.1" r="1.4" opacity="0.29"/>
<circle cx="516.2" cy="134.6" r="1.3" opacity="0.32"/>
<circle cx="524.4" cy="140.8" r="1.3" opacity="0.30"/>
<circle cx="446.8" cy="175.9" r="0.9" opacity="0.27"/>
<circle cx="524.6" cy="198.9" r="1.2" opacity="0.33"/>
<circle cx="485.9" cy="136.4" r="1.0" opacity="0.27"/>
<circle cx="445.2" cy="156.3" r="0.9" opacity="0.33"/>
<circle cx="507.6" cy="119.5" r="1.3" opacity="0.26"/>
<circle cx="456.2" cy="162.0" r="1.4" opacity="0.21"/>
<circle cx="529.2" cy="173.9" r="1.1" opacity="0.28"/>
<circle cx="490.2" cy="170.1" r="1.1" opacity="0.36"/>
<circle cx="492.6" cy="164.6" r="1.3" opacity="0.32"/>
<circle cx="490.5" cy="184.1" r="1.2" opacity="0.20"/>
<circle cx="498.4" cy="197.8" r="1.3" opacity="0.30"/>
<circle cx="537.5" cy="130.8" r="1.2" opacity="0.30"/>
<circle cx="526.9" cy="133.6" r="1.4" opacity="0.24"/>
<circle cx="497.5" cy="156.3" r="0.9" opacity="0.21"/>
<circle cx="498.5" cy="139.7" r="1.0" opacity="0.33"/>
<circle cx="450.3" cy="177.0" r="1.1" opacity="0.29"/>
<circle cx="512.2" cy="135.3" r="1.1" opacity="0.32"/>
<circle cx="510.4" cy="129.0" r="0.9" opacity="0.23"/>
<circle cx="514.3" cy="162.8" r="0.9" opacity="0.25"/>
<circle cx="545.4" cy="127.8" r="0.9" opacity="0.28"/>
<circle cx="493.4" cy="163.7" r="1.3" opacity="0.28"/>
<circle cx="465.1" cy="199.8" r="1.0" opacity="0.28"/>
<circle cx="546.0" cy="126.3" r="1.4" opacity="0.36"/>
<circle cx="541.0" cy="121.4" r="1.0" opacity="0.22"/>
<circle cx="474.1" cy="186.4" r="0.9" opacity="0.24"/>
<circle cx="453.0" cy="204.5" r="1.1" opacity="0.35"/>
<circle cx="467.9" cy="176.2" r="1.2" opacity="0.32"/>
<circle cx="508.1" cy="146.5" r="1.4" opacity="0.21"/>
<circle cx="457.5" cy="204.1" r="1.4" opacity="0.35"/>
<circle cx="454.6" cy="187.1" r="0.9" opacity="0.29"/>
<circle cx="497.1" cy="159.4" r="1.1" opacity="0.32"/>
<circle cx="496.8" cy="142.6" r="1.2" opacity="0.28"/>
<circle cx="447.4" cy="169.2" r="1.0" opacity="0.28"/>
<circle cx="507.4" cy="190.9" r="1.2" opacity="0.29"/>
<circle cx="530.5" cy="149.1" r="1.3" opacity="0.26"/>
<circle cx="477.3" cy="143.8" r="1.2" opacity="0.22"/>
<circle cx="514.9" cy="160.2" r="1.0" opacity="0.25"/>
<circle cx="522.4" cy="133.1" r="1.0" opacity="0.29"/>
<circle cx="519.2" cy="124.5" r="1.1" opacity="0.32"/>
<circle cx="472.5" cy="178.3" r="1.3" opacity="0.27"/>
<circle cx="499.2" cy="163.8" r="1.0" opacity="0.31"/>
<circle cx="519.7" cy="121.8" r="1.4" opacity="0.24"/>
<circle cx="480.1" cy="171.5" r="1.4" opacity="0.36"/>
<circle cx="460.5" cy="137.9" r="1.1" opacity="0.24"/>
<circle cx="525.3" cy="200.6" r="0.9" opacity="0.22"/>
<circle cx="453.2" cy="175.3" r="1.3" opacity="0.33"/>
<circle cx="496.0" cy="158.6" r="1.3" opacity="0.36"/>
<circle cx="481.7" cy="205.0" r="1.1" opacity="0.32"/>
<circle cx="456.0" cy="195.5" r="1.1" opacity="0.29"/>
<circle cx="485.0" cy="190.3" r="1.3" opacity="0.26"/>
<circle cx="490.5" cy="149.9" r="1.2" opacity="0.20"/>
<circle cx="510.0" cy="204.7" r="1.4" opacity="0.29"/>
<circle cx="534.7" cy="156.6" r="1.4" opacity="0.34"/>
<circle cx="530.9" cy="137.3" r="1.2" opacity="0.26"/>
<circle cx="466.3" cy="189.8" r="1.2" opacity="0.29"/>
<circle cx="533.1" cy="145.1" r="1.1" opacity="0.32"/>
<circle cx="488.3" cy="156.4" r="1.1" opacity="0.26"/>
<circle cx="490.6" cy="164.0" r="1.0" opacity="0.34"/>
<circle cx="513.5" cy="134.1" r="1.0" opacity="0.24"/>
<circle cx="534.2" cy="152.2" r="1.4" opacity="0.29"/>
<circle cx="551.6" cy="173.2" r="1.2" opacity="0.26"/>
<circle cx="545.5" cy="146.1" r="0.9" opacity="0.22"/>
<circle cx="465.6" cy="144.0" r="1.2" opacity="0.26"/>
<circle cx="524.8" cy="130.9" r="1.2" opacity="0.32"/>
<circle cx="453.0" cy="204.4" r="0.9" opacity="0.26"/>
<circle cx="523.1" cy="163.7" r="1.4" opacity="0.25"/>
<circle cx="486.1" cy="157.7" r="1.0" opacity="0.26"/>
<circle cx="539.0" cy="134.4" r="1.0" opacity="0.29"/>
<circle cx="537.1" cy="127.6" r="1.0" opacity="0.30"/>
<circle cx="525.7" cy="137.6" r="1.0" opacity="0.25"/>
<circle cx="492.0" cy="160.0" r="1.1" opacity="0.35"/>
<circle cx="456.0" cy="154.0" r="1.4" opacity="0.25"/>
<circle cx="533.6" cy="141.5" r="1.2" opacity="0.21"/>
<circle cx="537.0" cy="127.8" r="1.3" opacity="0.27"/>
<circle cx="505.2" cy="168.2" r="0.9" opacity="0.33"/>
<circle cx="519.2" cy="203.4" r="1.0" opacity="0.22"/>
<circle cx="520.8" cy="137.4" r="0.9" opacity="0.23"/>
<circle cx="509.4" cy="159.8" r="0.9" opacity="0.28"/>
<circle cx="475.3" cy="125.3" r="0.9" opacity="0.26"/>
<circle cx="465.0" cy="160.6" r="1.3" opacity="0.34"/>
<circle cx="455.2" cy="178.3" r="1.1" opacity="0.34"/>
<circle cx="462.7" cy="185.0" r="1.4" opacity="0.34"/>
<circle cx="490.3" cy="140.8" r="1.0" opacity="0.22"/>
<circle cx="457.7" cy="151.3" r="1.4" opacity="0.27"/>
<circle cx="560.8" cy="142.2" r="1.4" opacity="0.21"/>
<circle cx="523.0" cy="118.8" r="1.3" opacity="0.23"/>
<circle cx="457.8" cy="197.1" r="1.4" opacity="0.32"/>
<circle cx="496.1" cy="133.9" r="1.2" opacity="0.34"/>
<circle cx="551.2" cy="147.4" r="1.2" opacity="0.31"/>
<circle cx="465.2" cy="177.5" r="1.4" opacity="0.24"/>
<circle cx="534.2" cy="168.4" r="1.0" opacity="0.30"/>
<circle cx="459.1" cy="177.6" r="1.1" opacity="0.33"/>
<circle cx="468.5" cy="188.1" r="0.9" opacity="0.35"/>
<circle cx="489.4" cy="183.4" r="0.9" opacity="0.27"/>
<circle cx="462.0" cy="161.6" r="1.3" opacity="0.23"/>
<circle cx="521.6" cy="135.5" r="1.2" opacity="0.30"/>
<circle cx="518.6" cy="139.7" r="1.4" opacity="0.21"/>
<circle cx="502.0" cy="165.3" r="0.9" opacity="0.22"/>
<circle cx="498.8" cy="121.6" r="1.3" opacity="0.32"/>
<circle cx="468.6" cy="146.7" r="1.0" opacity="0.28"/>
<circle cx="563.8" cy="170.4" r="0.9" opacity="0.31"/>
<circle cx="460.7" cy="201.9" r="0.9" opacity="0.36"/>
<circle cx="493.5" cy="169.3" r="0.9" opacity="0.25"/>
<circle cx="527.7" cy="133.8" r="1.4" opacity="0.23"/>
<circle cx="448.2" cy="182.2" r="1.2" opacity="0.33"/>
<circle cx="456.6" cy="173.4" r="1.3" opacity="0.31"/>
<circle cx="489.2" cy="160.1" r="1.3" opacity="0.27"/>
<circle cx="450.8" cy="170.7" r="1.1" opacity="0.33"/>
<circle cx="510.0" cy="181.4" r="1.0" opacity="0.20"/>
<circle cx="464.2" cy="197.2" r="1.2" opacity="0.26"/>
<circle cx="484.2" cy="166.3" r="0.9" opacity="0.34"/>
<circle cx="490.5" cy="155.1" r="1.1" opacity="0.31"/>
<circle cx="549.3" cy="124.8" r="1.4" opacity="0.23"/>
<circle cx="541.9" cy="155.0" r="0.9" opacity="0.27"/>
<circle cx="516.5" cy="121.8" r="1.0" opacity="0.34"/>
<circle cx="534.3" cy="140.9" r="1.1" opacity="0.31"/>
<circle cx="479.0" cy="150.3" r="1.0" opacity="0.27"/>
<circle cx="534.0" cy="164.5" r="1.1" opacity="0.29"/>
<circle cx="472.7" cy="153.4" r="1.1" opacity="0.23"/>
<circle cx="456.5" cy="169.2" r="1.1" opacity="0.30"/>
<circle cx="468.9" cy="200.0" r="1.3" opacity="0.26"/>
<circle cx="483.7" cy="182.1" r="1.4" opacity="0.22"/>
<circle cx="500.6" cy="191.3" r="1.2" opacity="0.25"/>
<circle cx="527.6" cy="144.8" r="1.0" opacity="0.32"/>
<circle cx="453.0" cy="193.3" r="1.3" opacity="0.28"/>
<circle cx="498.0" cy="119.5" r="1.3" opacity="0.27"/>
<circle cx="463.0" cy="171.7" r="1.1" opacity="0.27"/>
<circle cx="488.5" cy="163.1" r="0.9" opacity="0.29"/>
<circle cx="519.4" cy="141.0" r="1.1" opacity="0.34"/>
<circle cx="537.5" cy="162.1" r="1.1" opacity="0.33"/>
<circle cx="496.8" cy="153.7" r="0.9" opacity="0.30"/>
<circle cx="526.6" cy="127.3" r="1.4" opacity="0.24"/>
<circle cx="508.2" cy="149.4" r="1.1" opacity="0.25"/>
<circle cx="485.0" cy="160.9" r="1.4" opacity="0.26"/>
<circle cx="526.0" cy="133.4" r="1.0" opacity="0.35"/>
<circle cx="485.7" cy="168.9" r="1.3" opacity="0.33"/>
<circle cx="512.5" cy="175.3" r="1.3" opacity="0.30"/>
<circle cx="522.2" cy="145.4" r="1.2" opacity="0.25"/>
<circle cx="496.9" cy="164.1" r="1.4" opacity="0.33"/>
<circle cx="447.7" cy="154.6" r="1.2" opacity="0.26"/>
<circle cx="500.8" cy="158.5" r="0.9" opacity="0.20"/>
<circle cx="501.4" cy="171.0" r="1.2" opacity="0.30"/>
<circle cx="457.4" cy="144.1" r="0.9" opacity="0.33"/>
<circle cx="539.8" cy="119.0" r="1.4" opacity="0.30"/>
<circle cx="508.6" cy="150.0" r="1.1" opacity="0.23"/>
<circle cx="508.7" cy="148.0" r="1.3" opacity="0.22"/>
<circle cx="500.7" cy="184.5" r="1.4" opacity="0.25"/>
<circle cx="515.4" cy="139.4" r="1.0" opacity="0.32"/>
<circle cx="450.8" cy="171.9" r="1.3" opacity="0.29"/>
<circle cx="452.5" cy="183.4" r="1.2" opacity="0.28"/>
<circle cx="463.7" cy="163.4" r="1.1" opacity="0.33"/>
<circle cx="474.9" cy="208.7" r="1.0" opacity="0.33"/>
<circle cx="473.0" cy="185.4" r="1.1" opacity="0.27"/>
<circle cx="555.1" cy="131.7" r="1.1" opacity="0.32"/>
<circle cx="526.3" cy="141.4" r="0.9" opacity="0.26"/>
<circle cx="534.4" cy="146.6" r="1.2" opacity="0.34"/>
<circle cx="521.9" cy="127.0" r="1.0" opacity="0.33"/>
<circle cx="494.9" cy="158.7" r="1.0" opacity="0.27"/>
<circle cx="522.2" cy="148.4" r="1.1" opacity="0.33"/>
<circle cx="528.0" cy="153.6" r="1.1" opacity="0.25"/>
<circle cx="446.9" cy="189.6" r="1.1" opacity="0.31"/>
<circle cx="450.0" cy="199.1" r="1.4" opacity="0.34"/>
<circle cx="493.7" cy="149.2" r="1.3" opacity="0.27"/>
<circle cx="474.0" cy="190.1" r="1.3" opacity="0.24"/>
<circle cx="516.0" cy="190.2" r="1.4" opacity="0.28"/>
<circle cx="533.2" cy="133.5" r="1.0" opacity="0.30"/>
<circle cx="488.9" cy="172.5" r="1.2" opacity="0.30"/>
<circle cx="473.3" cy="179.8" r="1.4" opacity="0.29"/>
<circle cx="486.1" cy="134.7" r="1.1" opacity="0.22"/>
<circle cx="473.4" cy="186.1" r="1.2" opacity="0.26"/>
<circle cx="529.6" cy="141.2" r="1.0" opacity="0.20"/>
<circle cx="522.5" cy="168.4" r="1.3" opacity="0.23"/>
<circle cx="517.4" cy="156.2" r="1.3" opacity="0.23"/>
<circle cx="499.1" cy="136.1" r="1.3" opacity="0.26"/>
<circle cx="512.1" cy="151.5" r="0.9" opacity="0.32"/>
<circle cx="463.5" cy="138.4" r="1.2" opacity="0.32"/>
<circle cx="448.9" cy="204.4" r="1.3" opacity="0.27"/>
<circle cx="497.1" cy="125.5" r="1.4" opacity="0.24"/>
<circle cx="482.2" cy="139.8" r="1.2" opacity="0.29"/>
<circle cx="511.6" cy="142.4" r="1.3" opacity="0.35"/>
<circle cx="487.0" cy="172.2" r="1.1" opacity="0.29"/>
<circle cx="481.5" cy="174.0" r="0.9" opacity="0.22"/>
<circle cx="517.5" cy="189.8" r="1.4" opacity="0.35"/>
<circle cx="496.8" cy="131.8" r="1.3" opacity="0.33"/>
<circle cx="509.5" cy="189.9" r="0.9" opacity="0.32"/>
<circle cx="467.9" cy="197.4" r="0.9" opacity="0.28"/>
<circle cx="487.0" cy="154.2" r="1.4" opacity="0.24"/>
<circle cx="527.4" cy="170.5" r="1.4" opacity="0.24"/>
<circle cx="527.5" cy="151.2" r="1.2" opacity="0.25"/>
<circle cx="510.6" cy="178.8" r="0.9" opacity="0.33"/>
<circle cx="495.8" cy="195.6" r="1.4" opacity="0.21"/>
<circle cx="498.4" cy="132.5" r="1.4" opacity="0.24"/>
<circle cx="481.1" cy="116.7" r="1.3" opacity="0.35"/>
<circle cx="497.5" cy="151.5" r="1.3" opacity="0.31"/>
<circle cx="479.2" cy="126.8" r="1.0" opacity="0.23"/>
<circle cx="513.0" cy="146.5" r="1.4" opacity="0.26"/>
<circle cx="448.7" cy="169.5" r="1.1" opacity="0.30"/>
<circle cx="509.3" cy="137.1" r="1.4" opacity="0.33"/>
<circle cx="509.8" cy="155.9" r="1.0" opacity="0.23"/>
<circle cx="512.3" cy="148.7" r="1.3" opacity="0.31"/>
<circle cx="487.0" cy="138.7" r="1.2" opacity="0.23"/>
<circle cx="478.7" cy="144.8" r="1.1" opacity="0.36"/>
<circle cx="507.7" cy="168.7" r="1.2" opacity="0.33"/>
<circle cx="507.3" cy="165.2" r="1.0" opacity="0.23"/>
<circle cx="455.8" cy="143.6" r="1.1" opacity="0.29"/>
<circle cx="458.8" cy="188.3" r="1.2" opacity="0.27"/>
<circle cx="510.4" cy="141.7" r="1.1" opacity="0.23"/>
</g>
<g filter="url(#ff)" fill="none" stroke="#22e03a" stroke-linecap="round" stroke-linejoin="round">
<path d="M468.9,197.8 L471.3,197.4 L473.5,196.4 L475.9,196.5 L478.0,195.4 L480.1,194.2 L482.1,192.9 L484.3,191.9 L486.7,191.6 L488.9,192.4 L491.3,192.8 L493.6,192.2 L495.7,191.0 L496.9,188.9" stroke-width="0.53" opacity="0.25"/>
<path d="M468.9,197.8 L471.0,198.9 L472.8,200.6 L474.6,202.1 L476.4,203.7 L478.6,204.7 L480.5,206.1 L481.9,208.0 L483.2,210.1 L483.7,212.4 L484.0,214.8" stroke-width="0.63" opacity="0.21"/>
<path d="M484.0,214.8 L483.4,217.1 L482.3,219.3 L481.4,221.5 L480.9,223.8 L480.1,226.1 L479.4,228.4 L477.7,230.2 L476.1,231.9 L474.3,233.5 L472.2,234.7" stroke-width="0.5" opacity="0.18"/>
<path d="M468.9,197.8 L466.6,197.2 L464.5,196.0 L462.2,195.4 L460.3,193.9 L458.2,192.7 L456.3,191.2 L455.0,189.2 L453.2,187.6 L452.2,185.4 L450.9,183.5 L449.8,181.3 L449.7,178.9 L448.8,176.7" stroke-width="0.49" opacity="0.27"/>
<path d="M448.8,176.7 L446.9,175.2 L445.5,173.3 L444.6,171.0 L442.9,169.4 L440.7,168.4 L438.3,168.5 L435.9,168.6 L433.8,169.7 L432.4,171.7 L430.3,172.8 L428.7,174.6 L426.7,175.9 L424.5,177.0 L422.6,178.5 L420.6,179.7" stroke-width="0.5" opacity="0.18"/>
<path d="M528.1,148.7 L525.8,148.6 L523.5,149.4 L521.5,150.7 L519.3,151.6 L516.9,151.9 L514.5,152.3 L512.2,151.9 L509.8,151.7 L507.6,152.7 L505.7,154.2 L503.4,154.9 L501.1,155.2 L499.0,156.4 L497.2,158.0 L495.6,159.7 L494.0,161.5 L493.4,163.9 L491.9,165.8 L490.4,167.6 L489.3,169.8 L489.3,172.2 L489.2,174.5 L488.0,176.7 L486.5,178.5 L484.4,179.6" stroke-width="0.75" opacity="0.21"/>
<path d="M452.0,146.1 L450.0,144.7 L447.9,143.6 L445.6,143.2 L443.2,143.3 L440.8,143.0 L438.4,143.3 L436.0,143.1 L433.9,141.8 L431.5,141.7 L429.3,142.5 L426.9,142.7 L424.5,142.3 L422.2,142.9 L420.0,143.8 L417.6,143.9 L415.3,144.8 L413.2,145.9 L410.8,145.9 L408.4,146.1" stroke-width="0.76" opacity="0.19"/>
<path d="M511.6,164.7 L509.4,165.5 L507.4,166.9 L505.1,167.5 L502.7,168.0 L500.4,167.6 L498.5,166.1 L496.3,165.1 L494.4,163.6 L492.1,163.0 L489.9,162.1 L487.5,161.6 L485.2,161.1 L482.8,161.1 L480.5,161.8 L478.1,162.2 L475.8,161.8 L473.4,161.4 L471.0,160.9 L468.6,160.8" stroke-width="0.79" opacity="0.13"/>
<path d="M549.5,146.1 L549.9,148.5 L549.6,150.8 L548.4,152.9 L546.6,154.5 L545.4,156.6 L544.3,158.7 L542.5,160.3 L540.3,161.3 L538.4,162.8 L536.6,164.4 L534.7,165.8 L533.6,167.9 L533.1,170.3 L532.1,172.5 L530.7,174.4 L529.4,176.5 L528.0,178.4 L526.6,180.3 L525.4,182.4" stroke-width="0.43" opacity="0.23"/>
<path d="M537.0,157.9 L537.7,155.6 L539.1,153.6 L541.2,152.5 L542.7,150.6 L544.8,149.4 L546.8,148.2 L549.1,147.5 L551.5,147.5 L553.7,146.5 L556.0,145.6 L557.7,144.0 L559.8,142.8 L561.6,141.2 L563.3,139.5 L564.5,137.4 L566.3,135.8 L568.3,134.5 L570.0,132.8 L572.0,131.5 L573.6,129.7 L575.6,128.4" stroke-width="0.64" opacity="0.23"/>
</g>
<g filter="url(#fc)">
<ellipse cx="468.9" cy="197.8" rx="2.0" ry="2.0" fill="#38f25a"/>
<line x1="470.5" y1="193.5" x2="467.3" y2="202.1" stroke="#30e050" stroke-width="0.9" stroke-linecap="round" opacity="0.8"/>
<line x1="471.1" y1="194.7" x2="466.7" y2="200.9" stroke="#30e050" stroke-width="0.9" stroke-linecap="round" opacity="0.8"/>
<line x1="470.0" y1="194.0" x2="467.8" y2="201.6" stroke="#30e050" stroke-width="0.9" stroke-linecap="round" opacity="0.8"/>
</g>
</g>
<clipPath id="cpbr"><rect x="565.0" y="116.6" width="118.9" height="94.9"/></clipPath>
<g clip-path="url(#cpbr)">
<rect x="565.0" y="116.6" width="118.9" height="94.9" fill="#04130a"/>
<g filter="url(#fh)">
<ellipse cx="610" cy="160" rx="40" ry="30" fill="#0a3a20" opacity="0.5"/>
</g>
<g filter="url(#fb)" fill="#1733d4">
<circle cx="610.6" cy="143.0" r="1.3" opacity="0.37"/>
<circle cx="611.9" cy="121.6" r="1.4" opacity="0.34"/>
<circle cx="634.5" cy="208.4" r="1.1" opacity="0.48"/>
<circle cx="620.1" cy="192.7" r="1.1" opacity="0.33"/>
<circle cx="660.4" cy="173.3" r="1.1" opacity="0.32"/>
<circle cx="590.0" cy="182.1" r="0.9" opacity="0.36"/>
<circle cx="618.8" cy="210.4" r="1.1" opacity="0.49"/>
<circle cx="650.7" cy="160.1" r="1.0" opacity="0.31"/>
<circle cx="621.2" cy="177.4" r="1.1" opacity="0.31"/>
<circle cx="658.1" cy="155.0" r="0.9" opacity="0.32"/>
<circle cx="638.9" cy="193.2" r="1.4" opacity="0.48"/>
<circle cx="622.6" cy="158.1" r="0.9" opacity="0.38"/>
<circle cx="600.0" cy="132.5" r="1.3" opacity="0.39"/>
<circle cx="624.3" cy="180.2" r="1.4" opacity="0.32"/>
<circle cx="610.5" cy="154.5" r="1.0" opacity="0.45"/>
<circle cx="667.6" cy="143.1" r="1.1" opacity="0.30"/>
<circle cx="673.2" cy="202.3" r="0.9" opacity="0.46"/>
<circle cx="577.9" cy="181.8" r="1.3" opacity="0.29"/>
<circle cx="575.4" cy="199.0" r="1.1" opacity="0.49"/>
<circle cx="610.8" cy="160.6" r="1.0" opacity="0.34"/>
<circle cx="675.8" cy="196.3" r="1.3" opacity="0.42"/>
<circle cx="664.4" cy="209.6" r="1.4" opacity="0.28"/>
<circle cx="660.0" cy="124.9" r="1.1" opacity="0.29"/>
<circle cx="640.7" cy="191.3" r="1.0" opacity="0.45"/>
<circle cx="627.8" cy="118.4" r="1.4" opacity="0.34"/>
<circle cx="568.3" cy="122.8" r="1.2" opacity="0.31"/>
<circle cx="570.1" cy="197.6" r="0.9" opacity="0.29"/>
<circle cx="574.4" cy="143.7" r="1.2" opacity="0.34"/>
<circle cx="626.3" cy="148.2" r="0.9" opacity="0.42"/>
<circle cx="565.0" cy="204.2" r="1.2" opacity="0.32"/>
<circle cx="619.1" cy="168.7" r="1.0" opacity="0.39"/>
<circle cx="603.4" cy="173.3" r="1.3" opacity="0.39"/>
<circle cx="601.9" cy="159.1" r="0.9" opacity="0.48"/>
<circle cx="569.3" cy="205.0" r="1.4" opacity="0.37"/>
<circle cx="634.7" cy="173.9" r="1.2" opacity="0.44"/>
<circle cx="580.2" cy="155.4" r="0.9" opacity="0.45"/>
<circle cx="577.1" cy="170.2" r="0.9" opacity="0.49"/>
<circle cx="632.1" cy="199.4" r="1.1" opacity="0.32"/>
<circle cx="650.7" cy="157.3" r="1.3" opacity="0.31"/>
<circle cx="650.3" cy="139.7" r="1.3" opacity="0.36"/>
<circle cx="576.3" cy="140.5" r="1.4" opacity="0.50"/>
<circle cx="566.0" cy="177.5" r="1.0" opacity="0.31"/>
<circle cx="573.8" cy="202.1" r="1.4" opacity="0.30"/>
<circle cx="672.0" cy="165.3" r="1.0" opacity="0.38"/>
<circle cx="628.5" cy="202.4" r="1.3" opacity="0.41"/>
<circle cx="670.0" cy="148.5" r="1.3" opacity="0.33"/>
<circle cx="614.3" cy="139.2" r="0.9" opacity="0.46"/>
<circle cx="565.1" cy="149.1" r="1.0" opacity="0.34"/>
<circle cx="616.2" cy="133.0" r="1.2" opacity="0.35"/>
<circle cx="624.6" cy="126.8" r="1.2" opacity="0.29"/>
<circle cx="624.6" cy="196.4" r="0.9" opacity="0.42"/>
<circle cx="574.8" cy="130.1" r="1.2" opacity="0.31"/>
<circle cx="618.4" cy="171.9" r="1.3" opacity="0.43"/>
<circle cx="574.3" cy="183.4" r="1.1" opacity="0.32"/>
<circle cx="603.7" cy="121.8" r="1.4" opacity="0.40"/>
<circle cx="661.0" cy="130.1" r="1.3" opacity="0.41"/>
<circle cx="667.5" cy="190.1" r="1.0" opacity="0.42"/>
<circle cx="578.2" cy="163.6" r="1.1" opacity="0.42"/>
<circle cx="640.3" cy="175.2" r="1.4" opacity="0.43"/>
<circle cx="665.7" cy="153.3" r="1.1" opacity="0.46"/>
<circle cx="654.8" cy="129.0" r="1.0" opacity="0.44"/>
<circle cx="594.8" cy="200.9" r="1.0" opacity="0.37"/>
<circle cx="581.6" cy="200.0" r="1.1" opacity="0.36"/>
<circle cx="636.5" cy="209.0" r="1.4" opacity="0.44"/>
<circle cx="617.6" cy="197.1" r="1.1" opacity="0.40"/>
<circle cx="643.2" cy="203.9" r="1.2" opacity="0.47"/>
<circle cx="640.4" cy="169.0" r="1.2" opacity="0.49"/>
<circle cx="677.5" cy="120.6" r="1.0" opacity="0.46"/>
<circle cx="586.6" cy="189.3" r="1.1" opacity="0.49"/>
<circle cx="579.9" cy="171.8" r="1.3" opacity="0.29"/>
<circle cx="604.1" cy="180.1" r="1.4" opacity="0.42"/>
<circle cx="673.7" cy="187.2" r="1.3" opacity="0.36"/>
<circle cx="572.1" cy="139.3" r="1.0" opacity="0.44"/>
<circle cx="596.8" cy="210.2" r="1.3" opacity="0.44"/>
<circle cx="641.5" cy="174.0" r="1.3" opacity="0.48"/>
<circle cx="628.1" cy="134.4" r="1.0" opacity="0.49"/>
<circle cx="602.7" cy="143.2" r="0.9" opacity="0.45"/>
<circle cx="657.7" cy="145.8" r="1.4" opacity="0.46"/>
<circle cx="636.0" cy="177.0" r="1.0" opacity="0.45"/>
<circle cx="566.6" cy="135.0" r="1.2" opacity="0.31"/>
<circle cx="673.6" cy="208.8" r="1.1" opacity="0.45"/>
<circle cx="604.5" cy="205.6" r="1.2" opacity="0.33"/>
<circle cx="651.0" cy="143.5" r="1.3" opacity="0.46"/>
<circle cx="581.7" cy="133.0" r="1.3" opacity="0.43"/>
<circle cx="650.3" cy="193.2" r="1.1" opacity="0.28"/>
<circle cx="606.9" cy="173.6" r="1.3" opacity="0.32"/>
<circle cx="617.6" cy="181.5" r="1.2" opacity="0.37"/>
<circle cx="635.8" cy="167.0" r="1.0" opacity="0.29"/>
<circle cx="578.2" cy="153.8" r="1.2" opacity="0.46"/>
<circle cx="587.8" cy="172.6" r="0.9" opacity="0.32"/>
<circle cx="589.3" cy="117.3" r="1.3" opacity="0.47"/>
<circle cx="667.7" cy="123.6" r="1.4" opacity="0.36"/>
<circle cx="606.0" cy="183.1" r="1.0" opacity="0.31"/>
<circle cx="569.6" cy="137.8" r="1.0" opacity="0.39"/>
<circle cx="624.7" cy="141.6" r="1.1" opacity="0.46"/>
<circle cx="657.9" cy="211.2" r="1.1" opacity="0.38"/>
<circle cx="664.9" cy="175.4" r="1.2" opacity="0.48"/>
<circle cx="607.0" cy="129.1" r="1.0" opacity="0.30"/>
<circle cx="619.0" cy="166.1" r="1.4" opacity="0.37"/>
<circle cx="683.6" cy="162.3" r="1.3" opacity="0.37"/>
<circle cx="589.1" cy="162.0" r="1.0" opacity="0.45"/>
<circle cx="606.5" cy="175.9" r="0.9" opacity="0.45"/>
<circle cx="567.2" cy="140.7" r="1.3" opacity="0.43"/>
<circle cx="668.1" cy="204.8" r="1.0" opacity="0.30"/>
<circle cx="633.4" cy="163.2" r="1.4" opacity="0.33"/>
<circle cx="656.5" cy="136.0" r="0.9" opacity="0.40"/>
<circle cx="591.9" cy="129.1" r="1.1" opacity="0.38"/>
<circle cx="608.8" cy="132.2" r="1.3" opacity="0.42"/>
<circle cx="646.8" cy="177.2" r="1.0" opacity="0.48"/>
<circle cx="628.3" cy="160.1" r="1.1" opacity="0.50"/>
<circle cx="613.3" cy="192.9" r="1.2" opacity="0.34"/>
<circle cx="592.8" cy="145.4" r="1.2" opacity="0.37"/>
<circle cx="616.9" cy="191.8" r="1.0" opacity="0.48"/>
<circle cx="640.7" cy="185.1" r="1.3" opacity="0.49"/>
<circle cx="653.1" cy="208.6" r="1.0" opacity="0.47"/>
<circle cx="664.2" cy="200.9" r="1.1" opacity="0.49"/>
<circle cx="589.1" cy="132.4" r="1.0" opacity="0.37"/>
<circle cx="610.5" cy="160.3" r="1.1" opacity="0.39"/>
<circle cx="623.7" cy="118.6" r="1.2" opacity="0.46"/>
<circle cx="629.1" cy="161.0" r="1.2" opacity="0.40"/>
<circle cx="649.5" cy="202.2" r="1.3" opacity="0.35"/>
<circle cx="617.4" cy="123.4" r="0.9" opacity="0.28"/>
<circle cx="571.0" cy="152.7" r="0.9" opacity="0.31"/>
<circle cx="611.0" cy="121.4" r="1.3" opacity="0.42"/>
<circle cx="628.5" cy="136.3" r="1.3" opacity="0.48"/>
<circle cx="589.2" cy="139.2" r="1.0" opacity="0.33"/>
<circle cx="593.5" cy="141.9" r="1.0" opacity="0.29"/>
<circle cx="638.1" cy="145.7" r="1.1" opacity="0.35"/>
<circle cx="571.4" cy="131.4" r="1.0" opacity="0.35"/>
<circle cx="577.2" cy="175.0" r="1.2" opacity="0.43"/>
<circle cx="618.2" cy="136.7" r="1.3" opacity="0.36"/>
<circle cx="599.6" cy="124.5" r="1.4" opacity="0.38"/>
<circle cx="665.7" cy="196.7" r="1.0" opacity="0.47"/>
<circle cx="591.6" cy="121.2" r="1.4" opacity="0.40"/>
<circle cx="670.0" cy="207.5" r="1.4" opacity="0.34"/>
<circle cx="676.7" cy="150.0" r="1.3" opacity="0.46"/>
<circle cx="671.7" cy="151.0" r="1.2" opacity="0.49"/>
<circle cx="637.9" cy="199.3" r="1.2" opacity="0.48"/>
<circle cx="669.8" cy="210.2" r="1.3" opacity="0.40"/>
<circle cx="666.3" cy="139.4" r="1.0" opacity="0.46"/>
<circle cx="649.5" cy="117.2" r="0.9" opacity="0.41"/>
<circle cx="657.2" cy="149.2" r="1.2" opacity="0.41"/>
<circle cx="616.2" cy="142.3" r="1.0" opacity="0.46"/>
<circle cx="610.4" cy="184.3" r="1.0" opacity="0.34"/>
<circle cx="583.3" cy="141.2" r="1.0" opacity="0.36"/>
<circle cx="650.4" cy="203.5" r="0.9" opacity="0.36"/>
<circle cx="582.1" cy="143.1" r="1.2" opacity="0.31"/>
<circle cx="636.5" cy="147.2" r="1.3" opacity="0.28"/>
<circle cx="673.6" cy="161.0" r="1.3" opacity="0.47"/>
<circle cx="589.9" cy="127.7" r="1.4" opacity="0.34"/>
<circle cx="572.8" cy="117.6" r="1.1" opacity="0.33"/>
<circle cx="623.0" cy="151.9" r="0.9" opacity="0.38"/>
<circle cx="583.3" cy="122.8" r="0.9" opacity="0.44"/>
<circle cx="649.7" cy="210.4" r="1.3" opacity="0.45"/>
<circle cx="659.0" cy="123.2" r="1.2" opacity="0.31"/>
<circle cx="616.8" cy="130.8" r="1.1" opacity="0.40"/>
<circle cx="665.7" cy="117.0" r="0.9" opacity="0.40"/>
<circle cx="575.6" cy="196.2" r="1.0" opacity="0.42"/>
<circle cx="666.2" cy="132.5" r="1.2" opacity="0.32"/>
<circle cx="625.3" cy="210.6" r="1.1" opacity="0.32"/>
<circle cx="667.1" cy="208.3" r="1.0" opacity="0.48"/>
<circle cx="637.0" cy="200.4" r="1.3" opacity="0.30"/>
<circle cx="580.7" cy="128.1" r="1.1" opacity="0.42"/>
<circle cx="676.5" cy="157.4" r="1.1" opacity="0.36"/>
<circle cx="596.5" cy="117.1" r="1.3" opacity="0.45"/>
<circle cx="646.6" cy="158.4" r="1.0" opacity="0.33"/>
<circle cx="683.6" cy="172.4" r="1.2" opacity="0.39"/>
<circle cx="599.9" cy="156.3" r="1.4" opacity="0.48"/>
<circle cx="599.3" cy="159.8" r="1.4" opacity="0.31"/>
<circle cx="622.2" cy="117.8" r="1.1" opacity="0.28"/>
<circle cx="583.0" cy="164.0" r="1.0" opacity="0.29"/>
<circle cx="603.5" cy="149.6" r="1.2" opacity="0.32"/>
<circle cx="628.2" cy="184.0" r="1.1" opacity="0.42"/>
<circle cx="570.8" cy="202.8" r="1.2" opacity="0.45"/>
<circle cx="584.9" cy="163.7" r="0.9" opacity="0.49"/>
<circle cx="591.1" cy="157.1" r="1.4" opacity="0.39"/>
<circle cx="666.7" cy="142.4" r="1.0" opacity="0.41"/>
<circle cx="649.1" cy="171.0" r="1.0" opacity="0.49"/>
<circle cx="680.7" cy="197.0" r="1.4" opacity="0.38"/>
<circle cx="669.6" cy="201.9" r="1.4" opacity="0.35"/>
<circle cx="611.1" cy="207.9" r="1.3" opacity="0.42"/>
<circle cx="567.0" cy="160.2" r="1.4" opacity="0.30"/>
<circle cx="640.6" cy="168.1" r="1.4" opacity="0.40"/>
<circle cx="638.5" cy="141.6" r="1.0" opacity="0.28"/>
<circle cx="588.9" cy="163.7" r="1.3" opacity="0.31"/>
<circle cx="602.4" cy="136.2" r="1.1" opacity="0.36"/>
<circle cx="659.8" cy="139.4" r="1.3" opacity="0.32"/>
<circle cx="602.6" cy="143.5" r="1.0" opacity="0.45"/>
<circle cx="670.2" cy="184.2" r="1.4" opacity="0.49"/>
<circle cx="586.9" cy="180.0" r="1.4" opacity="0.45"/>
<circle cx="613.7" cy="186.9" r="0.9" opacity="0.39"/>
<circle cx="633.6" cy="141.8" r="1.2" opacity="0.39"/>
<circle cx="672.4" cy="132.9" r="1.1" opacity="0.36"/>
<circle cx="587.1" cy="153.0" r="1.0" opacity="0.35"/>
<circle cx="627.6" cy="205.8" r="1.1" opacity="0.28"/>
<circle cx="626.6" cy="149.3" r="1.1" opacity="0.41"/>
<circle cx="572.5" cy="121.3" r="1.2" opacity="0.40"/>
<circle cx="612.2" cy="166.8" r="1.2" opacity="0.38"/>
<circle cx="614.8" cy="147.2" r="1.2" opacity="0.43"/>
<circle cx="656.5" cy="131.1" r="1.2" opacity="0.30"/>
<circle cx="646.9" cy="146.1" r="1.2" opacity="0.33"/>
<circle cx="604.6" cy="134.8" r="1.0" opacity="0.50"/>
<circle cx="638.4" cy="126.2" r="0.9" opacity="0.39"/>
<circle cx="595.8" cy="195.4" r="1.0" opacity="0.28"/>
<circle cx="624.2" cy="143.3" r="0.9" opacity="0.40"/>
<circle cx="627.4" cy="134.4" r="0.9" opacity="0.34"/>
<circle cx="644.6" cy="131.0" r="0.9" opacity="0.47"/>
<circle cx="569.4" cy="129.7" r="1.1" opacity="0.49"/>
<circle cx="566.3" cy="168.3" r="0.9" opacity="0.48"/>
<circle cx="638.8" cy="128.7" r="1.4" opacity="0.40"/>
<circle cx="640.9" cy="160.2" r="0.9" opacity="0.32"/>
<circle cx="587.1" cy="125.3" r="1.3" opacity="0.50"/>
<circle cx="648.0" cy="195.4" r="1.4" opacity="0.36"/>
<circle cx="666.6" cy="139.2" r="1.2" opacity="0.33"/>
<circle cx="681.9" cy="178.7" r="1.1" opacity="0.41"/>
<circle cx="635.4" cy="203.7" r="1.4" opacity="0.38"/>
<circle cx="618.1" cy="119.3" r="1.1" opacity="0.28"/>
<circle cx="617.3" cy="127.6" r="1.4" opacity="0.48"/>
<circle cx="578.6" cy="172.4" r="0.9" opacity="0.34"/>
<circle cx="628.5" cy="157.0" r="0.9" opacity="0.41"/>
<circle cx="637.7" cy="134.6" r="1.4" opacity="0.48"/>
<circle cx="619.0" cy="183.7" r="1.2" opacity="0.44"/>
<circle cx="634.6" cy="173.8" r="1.1" opacity="0.42"/>
<circle cx="618.0" cy="158.4" r="1.0" opacity="0.42"/>
<circle cx="612.6" cy="117.6" r="1.2" opacity="0.42"/>
<circle cx="606.7" cy="192.0" r="1.4" opacity="0.39"/>
<circle cx="618.9" cy="182.3" r="1.4" opacity="0.30"/>
<circle cx="572.6" cy="173.0" r="1.0" opacity="0.50"/>
<circle cx="627.9" cy="144.4" r="1.0" opacity="0.33"/>
<circle cx="630.6" cy="210.1" r="1.1" opacity="0.28"/>
<circle cx="591.6" cy="200.4" r="1.3" opacity="0.44"/>
<circle cx="676.0" cy="171.2" r="1.0" opacity="0.33"/>
<circle cx="577.3" cy="145.0" r="1.3" opacity="0.28"/>
<circle cx="624.7" cy="164.8" r="1.3" opacity="0.32"/>
<circle cx="602.1" cy="125.6" r="1.0" opacity="0.30"/>
<circle cx="602.3" cy="208.7" r="1.1" opacity="0.44"/>
<circle cx="603.9" cy="133.2" r="1.3" opacity="0.49"/>
<circle cx="612.4" cy="184.1" r="1.0" opacity="0.35"/>
<circle cx="642.6" cy="134.8" r="1.4" opacity="0.49"/>
<circle cx="566.8" cy="194.2" r="0.9" opacity="0.41"/>
<circle cx="599.0" cy="130.3" r="1.3" opacity="0.28"/>
<circle cx="648.8" cy="128.3" r="0.9" opacity="0.29"/>
<circle cx="672.5" cy="185.5" r="1.2" opacity="0.35"/>
<circle cx="620.8" cy="168.6" r="1.1" opacity="0.47"/>
<circle cx="601.3" cy="123.7" r="1.1" opacity="0.45"/>
<circle cx="600.5" cy="121.8" r="1.0" opacity="0.47"/>
<circle cx="651.4" cy="165.9" r="1.4" opacity="0.45"/>
<circle cx="632.9" cy="210.3" r="1.3" opacity="0.40"/>
<circle cx="603.2" cy="128.6" r="1.4" opacity="0.31"/>
<circle cx="671.8" cy="210.3" r="1.2" opacity="0.38"/>
<circle cx="604.9" cy="127.9" r="1.4" opacity="0.46"/>
<circle cx="678.1" cy="163.9" r="0.9" opacity="0.37"/>
<circle cx="634.1" cy="210.9" r="1.2" opacity="0.29"/>
<circle cx="640.4" cy="136.1" r="1.1" opacity="0.32"/>
<circle cx="680.5" cy="168.0" r="1.2" opacity="0.31"/>
<circle cx="652.9" cy="182.2" r="1.1" opacity="0.30"/>
<circle cx="572.7" cy="195.9" r="1.2" opacity="0.44"/>
<circle cx="676.6" cy="199.6" r="1.3" opacity="0.37"/>
<circle cx="567.3" cy="182.9" r="1.4" opacity="0.38"/>
<circle cx="594.6" cy="197.4" r="1.3" opacity="0.34"/>
<circle cx="583.7" cy="203.8" r="1.4" opacity="0.29"/>
<circle cx="643.4" cy="167.3" r="1.4" opacity="0.33"/>
<circle cx="654.0" cy="185.1" r="1.3" opacity="0.44"/>
<circle cx="576.6" cy="123.2" r="1.0" opacity="0.45"/>
<circle cx="656.2" cy="182.5" r="1.4" opacity="0.31"/>
<circle cx="592.1" cy="158.4" r="1.3" opacity="0.46"/>
<circle cx="653.4" cy="147.3" r="1.0" opacity="0.40"/>
<circle cx="661.6" cy="190.4" r="1.0" opacity="0.44"/>
<circle cx="615.7" cy="138.1" r="1.0" opacity="0.36"/>
<circle cx="635.5" cy="118.7" r="1.4" opacity="0.42"/>
<circle cx="569.6" cy="157.0" r="1.3" opacity="0.34"/>
<circle cx="644.0" cy="178.8" r="1.2" opacity="0.35"/>
<circle cx="590.4" cy="184.1" r="0.9" opacity="0.47"/>
<circle cx="653.1" cy="170.6" r="1.2" opacity="0.49"/>
<circle cx="679.9" cy="158.0" r="1.2" opacity="0.37"/>
<circle cx="574.7" cy="167.3" r="1.2" opacity="0.46"/>
<circle cx="645.0" cy="161.0" r="1.4" opacity="0.47"/>
<circle cx="612.7" cy="154.3" r="1.0" opacity="0.31"/>
<circle cx="642.3" cy="165.8" r="1.3" opacity="0.39"/>
<circle cx="584.2" cy="142.0" r="1.2" opacity="0.42"/>
<circle cx="634.3" cy="140.7" r="1.2" opacity="0.47"/>
<circle cx="635.1" cy="139.9" r="1.4" opacity="0.34"/>
<circle cx="622.6" cy="168.7" r="0.9" opacity="0.32"/>
<circle cx="659.7" cy="191.1" r="0.9" opacity="0.50"/>
<circle cx="584.7" cy="192.5" r="1.4" opacity="0.44"/>
<circle cx="570.0" cy="206.0" r="1.1" opacity="0.39"/>
<circle cx="631.0" cy="170.7" r="1.4" opacity="0.39"/>
<circle cx="576.7" cy="164.3" r="1.1" opacity="0.44"/>
<circle cx="654.6" cy="131.9" r="1.4" opacity="0.42"/>
<circle cx="587.1" cy="174.5" r="0.9" opacity="0.42"/>
<circle cx="582.0" cy="122.2" r="0.9" opacity="0.44"/>
<circle cx="672.9" cy="117.8" r="0.9" opacity="0.37"/>
<circle cx="577.4" cy="176.6" r="1.2" opacity="0.30"/>
<circle cx="588.4" cy="210.5" r="1.1" opacity="0.42"/>
<circle cx="683.8" cy="168.7" r="1.3" opacity="0.43"/>
<circle cx="572.5" cy="168.5" r="1.4" opacity="0.45"/>
<circle cx="593.5" cy="152.9" r="1.1" opacity="0.29"/>
<circle cx="683.0" cy="159.7" r="0.9" opacity="0.28"/>
<circle cx="673.3" cy="129.9" r="1.4" opacity="0.45"/>
<circle cx="660.9" cy="136.2" r="1.1" opacity="0.41"/>
<circle cx="670.8" cy="172.7" r="1.3" opacity="0.31"/>
<circle cx="577.8" cy="117.5" r="1.2" opacity="0.38"/>
<circle cx="630.8" cy="134.4" r="1.2" opacity="0.37"/>
<circle cx="624.4" cy="203.4" r="1.3" opacity="0.29"/>
<circle cx="623.3" cy="121.7" r="1.0" opacity="0.36"/>
<circle cx="583.9" cy="205.3" r="1.0" opacity="0.29"/>
<circle cx="608.9" cy="191.0" r="1.4" opacity="0.41"/>
<circle cx="618.5" cy="129.8" r="1.3" opacity="0.29"/>
<circle cx="620.4" cy="178.5" r="1.2" opacity="0.28"/>
<circle cx="614.0" cy="209.0" r="1.1" opacity="0.42"/>
<circle cx="681.1" cy="160.8" r="1.3" opacity="0.47"/>
<circle cx="591.9" cy="180.0" r="1.1" opacity="0.46"/>
<circle cx="608.1" cy="203.4" r="1.4" opacity="0.30"/>
<circle cx="670.8" cy="162.7" r="1.4" opacity="0.36"/>
<circle cx="664.4" cy="180.1" r="1.2" opacity="0.47"/>
<circle cx="624.9" cy="120.2" r="1.0" opacity="0.43"/>
<circle cx="630.7" cy="173.3" r="1.0" opacity="0.43"/>
<circle cx="678.9" cy="140.7" r="1.3" opacity="0.42"/>
<circle cx="619.0" cy="168.2" r="1.4" opacity="0.38"/>
<circle cx="671.8" cy="183.5" r="1.2" opacity="0.34"/>
<circle cx="571.2" cy="162.7" r="1.0" opacity="0.46"/>
<circle cx="680.4" cy="135.4" r="1.1" opacity="0.38"/>
<circle cx="581.9" cy="193.2" r="1.2" opacity="0.34"/>
<circle cx="641.9" cy="127.6" r="1.4" opacity="0.28"/>
<circle cx="636.5" cy="122.8" r="1.0" opacity="0.49"/>
<circle cx="671.9" cy="145.1" r="1.2" opacity="0.32"/>
<circle cx="610.1" cy="185.1" r="1.3" opacity="0.38"/>
<circle cx="682.0" cy="191.1" r="1.3" opacity="0.41"/>
<circle cx="638.3" cy="117.4" r="1.0" opacity="0.43"/>
<circle cx="640.6" cy="130.4" r="1.2" opacity="0.44"/>
<circle cx="614.8" cy="182.5" r="1.0" opacity="0.31"/>
<circle cx="614.2" cy="171.6" r="1.4" opacity="0.28"/>
<circle cx="632.7" cy="121.1" r="1.1" opacity="0.30"/>
<circle cx="627.4" cy="154.1" r="1.3" opacity="0.44"/>
<circle cx="637.1" cy="210.1" r="1.0" opacity="0.35"/>
<circle cx="592.9" cy="131.8" r="1.2" opacity="0.46"/>
<circle cx="640.9" cy="141.8" r="1.4" opacity="0.31"/>
<circle cx="665.5" cy="161.4" r="1.0" opacity="0.31"/>
<circle cx="578.8" cy="129.4" r="0.9" opacity="0.34"/>
<circle cx="666.7" cy="139.5" r="1.4" opacity="0.28"/>
<circle cx="651.5" cy="168.1" r="1.4" opacity="0.45"/>
<circle cx="577.1" cy="207.8" r="1.2" opacity="0.32"/>
<circle cx="586.6" cy="119.8" r="1.0" opacity="0.35"/>
<circle cx="668.2" cy="170.3" r="1.3" opacity="0.44"/>
<circle cx="632.5" cy="207.1" r="1.2" opacity="0.29"/>
<circle cx="600.8" cy="145.1" r="1.2" opacity="0.30"/>
<circle cx="647.2" cy="121.8" r="1.2" opacity="0.28"/>
<circle cx="668.3" cy="124.3" r="1.2" opacity="0.43"/>
<circle cx="644.7" cy="144.8" r="1.1" opacity="0.46"/>
<circle cx="622.0" cy="180.5" r="1.2" opacity="0.31"/>
<circle cx="621.3" cy="200.3" r="1.1" opacity="0.46"/>
<circle cx="654.8" cy="150.1" r="1.1" opacity="0.28"/>
<circle cx="587.8" cy="143.7" r="1.3" opacity="0.42"/>
<circle cx="601.8" cy="149.0" r="1.3" opacity="0.36"/>
<circle cx="599.7" cy="136.3" r="0.9" opacity="0.35"/>
<circle cx="577.5" cy="134.7" r="1.0" opacity="0.30"/>
<circle cx="668.7" cy="122.2" r="1.0" opacity="0.29"/>
<circle cx="640.5" cy="158.9" r="1.3" opacity="0.48"/>
<circle cx="593.5" cy="197.3" r="1.1" opacity="0.28"/>
<circle cx="593.9" cy="139.4" r="1.3" opacity="0.49"/>
<circle cx="602.9" cy="192.7" r="1.2" opacity="0.32"/>
<circle cx="673.1" cy="165.5" r="1.3" opacity="0.39"/>
<circle cx="623.3" cy="184.1" r="1.2" opacity="0.34"/>
<circle cx="635.2" cy="118.3" r="1.2" opacity="0.39"/>
<circle cx="682.6" cy="202.3" r="1.3" opacity="0.50"/>
<circle cx="653.7" cy="207.1" r="1.2" opacity="0.43"/>
<circle cx="605.1" cy="192.1" r="1.4" opacity="0.35"/>
<circle cx="647.9" cy="130.4" r="1.0" opacity="0.42"/>
<circle cx="568.9" cy="179.2" r="1.0" opacity="0.34"/>
<circle cx="580.5" cy="151.0" r="1.1" opacity="0.34"/>
<circle cx="667.4" cy="201.6" r="1.4" opacity="0.49"/>
<circle cx="656.2" cy="148.8" r="0.9" opacity="0.31"/>
<circle cx="616.1" cy="184.1" r="0.9" opacity="0.43"/>
<circle cx="595.6" cy="136.0" r="1.1" opacity="0.48"/>
<circle cx="647.9" cy="157.9" r="1.2" opacity="0.30"/>
<circle cx="659.7" cy="137.7" r="0.9" opacity="0.45"/>
<circle cx="657.3" cy="170.2" r="0.9" opacity="0.41"/>
<circle cx="581.7" cy="158.1" r="0.9" opacity="0.32"/>
<circle cx="637.6" cy="133.1" r="1.0" opacity="0.49"/>
<circle cx="671.7" cy="127.2" r="1.1" opacity="0.28"/>
<circle cx="594.9" cy="178.3" r="1.4" opacity="0.34"/>
<circle cx="606.4" cy="206.7" r="0.9" opacity="0.38"/>
<circle cx="602.2" cy="146.9" r="1.4" opacity="0.37"/>
<circle cx="616.4" cy="122.4" r="1.0" opacity="0.35"/>
<circle cx="669.1" cy="191.4" r="1.3" opacity="0.29"/>
<circle cx="581.7" cy="160.1" r="0.9" opacity="0.43"/>
<circle cx="599.5" cy="167.8" r="1.0" opacity="0.50"/>
<circle cx="655.2" cy="201.2" r="1.4" opacity="0.48"/>
<circle cx="677.0" cy="133.5" r="0.9" opacity="0.30"/>
<circle cx="648.4" cy="121.4" r="1.1" opacity="0.44"/>
<circle cx="591.5" cy="161.2" r="1.2" opacity="0.36"/>
<circle cx="661.3" cy="194.9" r="1.2" opacity="0.30"/>
<circle cx="585.6" cy="163.6" r="1.2" opacity="0.41"/>
<circle cx="596.0" cy="200.1" r="1.3" opacity="0.44"/>
<circle cx="681.5" cy="165.5" r="1.3" opacity="0.33"/>
<circle cx="654.1" cy="192.5" r="1.4" opacity="0.42"/>
<circle cx="571.8" cy="132.3" r="1.3" opacity="0.36"/>
<circle cx="573.6" cy="200.7" r="1.4" opacity="0.33"/>
<circle cx="648.9" cy="172.9" r="1.0" opacity="0.33"/>
<circle cx="628.4" cy="143.0" r="1.0" opacity="0.30"/>
<circle cx="604.4" cy="210.9" r="0.9" opacity="0.28"/>
<circle cx="629.5" cy="175.9" r="1.1" opacity="0.37"/>
<circle cx="608.2" cy="134.6" r="1.2" opacity="0.28"/>
<circle cx="669.8" cy="141.2" r="1.0" opacity="0.43"/>
<circle cx="613.3" cy="171.8" r="1.2" opacity="0.29"/>
<circle cx="681.7" cy="157.0" r="1.4" opacity="0.34"/>
<circle cx="659.1" cy="156.9" r="1.2" opacity="0.34"/>
<circle cx="601.0" cy="128.9" r="1.0" opacity="0.44"/>
<circle cx="618.5" cy="118.3" r="1.1" opacity="0.48"/>
<circle cx="627.1" cy="207.8" r="1.1" opacity="0.28"/>
<circle cx="571.1" cy="184.1" r="1.0" opacity="0.37"/>
<circle cx="674.5" cy="139.0" r="1.3" opacity="0.43"/>
<circle cx="676.3" cy="194.8" r="1.3" opacity="0.30"/>
<circle cx="641.5" cy="150.2" r="1.0" opacity="0.29"/>
<circle cx="661.4" cy="189.1" r="1.2" opacity="0.28"/>
<circle cx="602.9" cy="166.3" r="1.4" opacity="0.28"/>
<circle cx="609.2" cy="198.4" r="0.9" opacity="0.38"/>
<circle cx="575.2" cy="131.1" r="1.2" opacity="0.32"/>
<circle cx="586.4" cy="166.1" r="1.1" opacity="0.43"/>
<circle cx="581.8" cy="117.7" r="1.3" opacity="0.43"/>
<circle cx="583.2" cy="148.0" r="1.4" opacity="0.37"/>
<circle cx="649.9" cy="124.7" r="1.0" opacity="0.42"/>
<circle cx="670.0" cy="125.1" r="0.9" opacity="0.41"/>
<circle cx="625.1" cy="125.4" r="1.1" opacity="0.42"/>
<circle cx="648.0" cy="183.8" r="1.0" opacity="0.47"/>
<circle cx="569.8" cy="136.1" r="1.2" opacity="0.41"/>
<circle cx="576.9" cy="165.4" r="1.3" opacity="0.29"/>
<circle cx="651.5" cy="142.2" r="0.9" opacity="0.46"/>
<circle cx="638.5" cy="193.7" r="0.9" opacity="0.37"/>
<circle cx="565.0" cy="153.5" r="1.3" opacity="0.50"/>
<circle cx="659.4" cy="150.2" r="1.1" opacity="0.43"/>
<circle cx="679.7" cy="158.5" r="1.1" opacity="0.41"/>
<circle cx="568.7" cy="117.2" r="0.9" opacity="0.45"/>
<circle cx="592.1" cy="135.2" r="1.1" opacity="0.32"/>
<circle cx="674.5" cy="187.9" r="1.0" opacity="0.34"/>
<circle cx="677.9" cy="124.3" r="1.1" opacity="0.49"/>
<circle cx="641.1" cy="210.8" r="1.4" opacity="0.38"/>
<circle cx="668.3" cy="177.5" r="1.4" opacity="0.29"/>
<circle cx="587.1" cy="190.6" r="1.1" opacity="0.38"/>
<circle cx="647.4" cy="153.0" r="1.1" opacity="0.47"/>
<circle cx="601.1" cy="133.7" r="1.0" opacity="0.46"/>
<circle cx="646.7" cy="139.9" r="1.4" opacity="0.49"/>
<circle cx="591.5" cy="206.2" r="1.4" opacity="0.35"/>
<circle cx="674.9" cy="194.4" r="0.9" opacity="0.33"/>
<circle cx="677.1" cy="198.8" r="1.1" opacity="0.41"/>
<circle cx="578.2" cy="176.7" r="1.1" opacity="0.47"/>
<circle cx="653.7" cy="190.1" r="1.3" opacity="0.45"/>
<circle cx="659.4" cy="137.8" r="1.1" opacity="0.44"/>
<circle cx="596.2" cy="164.1" r="1.1" opacity="0.37"/>
<circle cx="575.5" cy="146.2" r="1.0" opacity="0.39"/>
<circle cx="672.0" cy="197.2" r="0.9" opacity="0.29"/>
<circle cx="672.9" cy="154.7" r="0.9" opacity="0.36"/>
<circle cx="656.3" cy="124.7" r="0.9" opacity="0.32"/>
<circle cx="603.1" cy="138.7" r="1.0" opacity="0.28"/>
<circle cx="565.2" cy="127.5" r="1.1" opacity="0.48"/>
<circle cx="622.7" cy="124.8" r="1.3" opacity="0.50"/>
<circle cx="654.1" cy="138.9" r="1.1" opacity="0.37"/>
<circle cx="598.6" cy="131.3" r="1.4" opacity="0.49"/>
<circle cx="589.6" cy="127.3" r="1.0" opacity="0.45"/>
<circle cx="627.7" cy="138.8" r="1.2" opacity="0.32"/>
<circle cx="618.2" cy="204.8" r="1.4" opacity="0.44"/>
<circle cx="587.6" cy="160.4" r="1.1" opacity="0.49"/>
<circle cx="642.8" cy="173.8" r="1.0" opacity="0.41"/>
<circle cx="675.5" cy="199.3" r="1.0" opacity="0.41"/>
<circle cx="680.0" cy="125.2" r="1.1" opacity="0.41"/>
<circle cx="679.6" cy="126.8" r="1.1" opacity="0.45"/>
<circle cx="615.0" cy="133.6" r="1.3" opacity="0.39"/>
<circle cx="574.0" cy="190.3" r="1.2" opacity="0.33"/>
<circle cx="677.1" cy="145.4" r="0.9" opacity="0.48"/>
<circle cx="663.7" cy="121.4" r="1.0" opacity="0.28"/>
<circle cx="624.8" cy="209.5" r="1.0" opacity="0.33"/>
<circle cx="636.7" cy="160.8" r="1.1" opacity="0.49"/>
<circle cx="589.0" cy="172.9" r="1.0" opacity="0.39"/>
<circle cx="586.2" cy="177.6" r="1.1" opacity="0.29"/>
<circle cx="567.2" cy="193.2" r="1.4" opacity="0.35"/>
<circle cx="582.2" cy="180.1" r="1.3" opacity="0.38"/>
<circle cx="596.8" cy="172.7" r="1.0" opacity="0.29"/>
<circle cx="593.3" cy="137.4" r="1.1" opacity="0.38"/>
<circle cx="581.8" cy="142.7" r="1.4" opacity="0.47"/>
<circle cx="613.5" cy="196.6" r="1.4" opacity="0.48"/>
</g>
<g filter="url(#fc)">
<ellipse cx="599" cy="160" rx="4.2" ry="3.6" fill="#1a50e0" opacity="0.85"/>
<ellipse cx="623.6" cy="131.9" rx="3" ry="3.2" fill="#1a40e0" opacity="0.85"/>
</g>
<g filter="url(#ff)" fill="none" stroke="#22e03a" stroke-linecap="round" stroke-linejoin="round">
<path d="M599.5,156.9 L597.8,158.6 L595.7,159.7 L593.3,159.6 L591.0,160.5 L588.7,161.2 L586.6,162.4 L584.7,163.7 L582.8,165.2 L580.6,166.3 L578.7,167.8" stroke-width="0.71" opacity="0.39"/>
<path d="M599.5,156.9 L601.0,155.0 L603.0,153.7 L605.2,152.8 L606.9,151.1 L608.8,149.6 L610.9,148.6 L612.6,146.8 L613.8,144.8 L615.0,142.7 L615.7,140.4 L615.4,138.0 L614.4,135.9 L613.2,133.8 L611.2,132.4 L609.6,130.6 L607.9,128.9 L605.9,127.6" stroke-width="0.53" opacity="0.31"/>
<path d="M605.9,127.6 L604.0,126.2 L601.9,125.0 L599.7,124.0 L598.2,122.1 L596.5,120.4 L594.7,118.9 L592.7,117.5 L591.5,115.5 L590.3,113.4 L588.3,112.1 L586.5,110.6" stroke-width="0.5" opacity="0.25"/>
<path d="M599.5,156.9 L597.1,156.8 L594.8,156.2 L592.4,156.3 L590.0,156.8 L587.7,157.4 L585.3,157.7" stroke-width="0.61" opacity="0.36"/>
<path d="M599.5,156.9 L601.8,156.3 L603.7,154.8 L605.7,153.5 L608.0,152.8 L609.8,151.2 L610.6,148.9 L610.8,146.5 L611.6,144.3 L612.6,142.1 L613.6,139.9 L615.1,138.1 L616.5,136.1 L617.9,134.1 L618.8,131.9 L619.8,129.8" stroke-width="0.46" opacity="0.41"/>
<path d="M599.5,156.9 L601.9,156.9 L604.2,156.3 L606.2,154.9 L608.5,154.3 L610.6,153.2 L612.3,151.5 L614.0,149.8 L616.0,148.5 L618.1,147.3 L619.5,145.4 L621.4,143.9 L623.5,142.8 L625.4,141.3 L627.7,140.7 L630.1,140.1 L632.5,140.2" stroke-width="0.48" opacity="0.30"/>
<path d="M599.5,156.9 L598.6,154.7 L596.9,153.0 L595.2,151.3 L593.9,149.3 L592.9,147.1 L592.7,144.7 L591.7,142.5 L590.0,140.8 L588.3,139.1 L586.8,137.3 L585.7,135.1 L585.2,132.8 L585.7,130.4 L585.0,128.1 L585.2,125.7 L586.2,123.6 L587.4,121.4" stroke-width="0.59" opacity="0.30"/>
<path d="M587.4,121.4 L588.9,119.6 L590.2,117.5 L592.2,116.4 L594.2,115.0 L596.5,114.3 L598.8,113.6 L601.0,112.5 L603.3,112.3 L605.6,113.0" stroke-width="0.5" opacity="0.25"/>
<path d="M599.5,156.9 L601.8,157.7 L604.1,158.3 L606.1,159.5 L608.5,159.7 L610.9,160.1 L613.3,160.2 L615.7,160.7 L618.0,160.1 L620.1,159.0 L621.9,157.4 L623.6,155.7 L625.5,154.2 L626.8,152.2 L627.7,150.0 L627.5,147.6" stroke-width="0.49" opacity="0.31"/>
<path d="M627.5,147.6 L628.8,145.5 L629.5,143.2 L630.8,141.2 L632.7,139.8 L634.1,137.8 L635.8,136.2 L637.2,134.2 L638.1,132.0" stroke-width="0.5" opacity="0.25"/>
<path d="M599.5,156.9 L598.6,159.1 L598.1,161.5 L598.4,163.9 L598.4,166.3 L598.7,168.7 L599.4,171.0 L601.0,172.7 L603.0,174.1 L605.2,174.9 L607.1,176.4 L608.6,178.3 L610.8,179.3 L612.6,180.8 L614.8,181.9 L617.1,182.6 L619.3,183.4 L621.7,183.0 L624.1,182.7" stroke-width="0.65" opacity="0.40"/>
<path d="M599.5,156.9 L597.5,155.6 L595.2,155.0 L592.8,154.6 L590.4,154.9 L588.1,155.4 L586.1,156.7 L583.7,156.9 L581.4,157.7 L579.2,158.7 L576.9,159.4 L574.6,159.7 L572.5,160.9 L570.1,161.3 L567.8,162.0 L566.0,163.5 L564.3,165.2 L562.4,166.7" stroke-width="0.56" opacity="0.37"/>
<path d="M562.4,166.7 L560.1,166.0 L557.7,166.3 L555.3,166.9 L553.0,167.3 L550.7,168.0 L548.8,169.4 L546.7,170.7 L545.2,172.6 L544.5,174.8 L543.9,177.2 L542.3,178.9 L540.9,180.9 L538.7,182.0 L536.5,182.7 L534.1,183.1 L531.8,182.5 L529.5,181.7 L527.5,180.5" stroke-width="0.5" opacity="0.25"/>
<path d="M599.5,156.9 L597.4,158.0 L595.1,158.7 L593.4,160.4 L592.4,162.6 L591.9,164.9 L591.8,167.3 L592.0,169.7 L592.7,172.0 L593.8,174.2 L594.6,176.4 L595.5,178.6 L597.0,180.5 L597.9,182.8 L598.3,185.1 L598.7,187.5 L598.5,189.9 L599.3,192.1 L600.0,194.4" stroke-width="0.69" opacity="0.31"/>
<path d="M600.0,194.4 L599.1,196.6 L597.7,198.6 L597.1,200.9 L597.3,203.3 L596.4,205.5 L595.2,207.6 L595.0,210.0 L593.9,212.1 L592.3,213.9 L590.5,215.5 L588.2,216.1 L585.9,216.7 L583.9,218.1 L582.8,220.2 L582.6,222.6 L582.5,225.0 L582.2,227.4" stroke-width="0.5" opacity="0.25"/>
<path d="M599.5,156.9 L600.0,154.5 L600.6,152.2 L600.3,149.8 L600.6,147.5 L601.1,145.1 L601.6,142.8 L603.1,140.9" stroke-width="0.53" opacity="0.42"/>
<path d="M603.1,140.9 L605.2,139.7 L606.8,137.9 L608.2,135.9 L609.7,134.1 L611.3,132.3 L613.3,131.0 L615.0,129.2 L615.6,126.9 L616.5,124.7 L616.9,122.3 L616.6,119.9 L616.1,117.6 L616.6,115.2 L617.4,113.0 L618.7,110.9 L618.9,108.5 L619.2,106.2" stroke-width="0.5" opacity="0.25"/>
<path d="M653.5,134.2 L652.6,132.0 L652.3,129.6 L652.4,127.2 L653.4,125.0 L653.3,122.6 L652.3,120.4 L651.2,118.3 L650.2,116.1 L649.0,114.0 L648.5,111.7 L647.1,109.8 L646.0,107.6 L644.0,106.3 L641.7,105.7 L639.3,105.1 L637.1,104.1 L635.4,102.5 L633.4,101.1 L631.3,100.0" stroke-width="0.63" opacity="0.26"/>
<path d="M631.3,100.0 L631.3,97.6 L632.1,95.3 L633.8,93.6 L635.0,91.5 L635.4,89.2 L637.0,87.3 L639.1,86.3 L641.1,84.8 L643.4,84.3" stroke-width="0.5" opacity="0.25"/>
<path d="M653.5,134.2 L655.4,135.7 L657.3,137.1 L659.7,137.5 L661.8,138.6 L664.0,139.5 L666.4,139.8 L668.6,140.7 L671.0,141.2 L673.4,140.9" stroke-width="0.68" opacity="0.41"/>
<path d="M673.4,140.9 L675.8,140.8 L678.1,140.1 L680.5,140.1 L682.9,140.0 L685.1,139.3 L687.5,139.2 L689.9,139.8 L691.9,141.1 L694.0,142.3 L696.3,142.5 L698.6,141.5 L700.8,140.7 L702.4,138.9" stroke-width="0.5" opacity="0.25"/>
<path d="M653.5,134.2 L652.8,131.9 L651.9,129.7 L650.4,127.8 L648.9,125.9 L646.9,124.6 L644.6,124.1 L642.3,123.3 L639.9,122.9" stroke-width="0.46" opacity="0.41"/>
<path d="M639.9,122.9 L637.5,122.6 L635.1,122.5 L632.8,122.2 L630.5,122.9 L628.1,122.7 L625.8,121.8 L623.9,120.4 L622.8,118.3 L620.9,116.8 L619.3,115.0 L618.5,112.8 L616.9,110.9 L615.2,109.2 L613.1,108.1 L611.7,106.2" stroke-width="0.5" opacity="0.25"/>
<path d="M636.9,181.3 L634.5,181.2 L632.2,182.0 L630.1,183.1 L628.3,184.7 L626.0,185.3 L623.6,185.6 L621.2,185.8 L618.8,185.7 L616.4,186.0 L614.0,185.6 L611.7,185.1 L609.5,184.2 L607.1,184.2 L604.8,183.4 L602.5,182.7 L600.4,181.5 L598.1,180.9 L596.1,179.6 L594.3,178.0" stroke-width="0.57" opacity="0.38"/>
<path d="M594.3,178.0 L594.4,175.6 L594.7,173.2 L595.9,171.1 L597.5,169.3 L599.2,167.7 L601.5,167.0 L603.8,166.2 L605.6,164.6" stroke-width="0.5" opacity="0.25"/>
<path d="M636.9,181.3 L639.1,182.3 L641.1,183.6 L643.5,183.9 L645.7,184.9 L647.8,186.0 L650.1,186.4 L652.2,187.6 L653.8,189.4 L655.9,190.5 L657.8,192.0 L659.2,194.0 L659.8,196.3 L660.8,198.5 L661.7,200.7 L661.7,203.1 L661.9,205.5 L661.5,207.9" stroke-width="0.59" opacity="0.34"/>
<path d="M661.5,207.9 L663.3,209.5 L665.6,210.2 L667.8,211.2 L670.2,211.5 L672.3,212.7 L673.7,214.6 L674.5,216.9 L676.0,218.7 L677.9,220.2 L680.0,221.4 L681.7,223.1 L682.8,225.2 L684.2,227.2 L685.6,229.1 L687.0,231.0 L689.1,232.3 L691.4,232.6 L693.8,232.7" stroke-width="0.5" opacity="0.25"/>
<path d="M636.9,181.3 L636.7,183.7 L637.2,186.0 L636.9,188.4 L635.7,190.5 L634.7,192.7 L634.4,195.0 L634.8,197.4 L635.7,199.6 L636.9,201.7 L637.2,204.1" stroke-width="0.61" opacity="0.33"/>
<path d="M629.3,176.4 L631.0,178.1 L632.4,180.0 L634.5,181.1 L636.4,182.7 L637.7,184.7 L639.1,186.6 L640.3,188.7 L641.8,190.6 L643.9,191.8 L646.1,192.8 L648.4,193.5" stroke-width="0.56" opacity="0.42"/>
<path d="M648.4,193.5 L650.7,193.2 L653.1,193.2 L655.3,192.1 L657.1,190.5 L658.7,188.7 L660.3,186.9 L661.9,185.1 L662.9,183.0 L663.3,180.6 L662.6,178.3 L661.6,176.1 L659.9,174.4 L657.8,173.3 L655.4,173.2 L653.2,172.3 L650.8,172.1 L648.4,171.8" stroke-width="0.5" opacity="0.25"/>
<path d="M629.3,176.4 L626.9,176.1 L624.6,175.3 L622.6,174.1 L620.2,173.6 L617.8,173.7 L615.4,173.8" stroke-width="0.56" opacity="0.34"/>
<path d="M615.4,173.8 L613.3,172.6 L611.6,170.9 L610.4,168.9 L609.0,166.9 L607.0,165.6 L604.7,164.9 L602.3,164.8 L599.9,164.5 L597.6,165.2 L595.5,166.3" stroke-width="0.5" opacity="0.25"/>
<path d="M582.5,167.4 L584.2,169.2 L586.0,170.7 L587.5,172.6 L588.2,174.9 L589.2,177.1 L589.1,179.5 L588.1,181.7 L587.1,183.8 L586.4,186.1 L586.4,188.5 L585.9,190.9 L586.6,193.2 L586.8,195.6 L587.7,197.8 L589.3,199.7 L590.6,201.7 L592.1,203.5 L594.3,204.6 L596.6,204.8" stroke-width="0.72" opacity="0.24"/>
<path d="M657.7,175.2 L660.1,175.4 L662.5,175.9 L664.6,176.9 L666.5,178.4 L668.4,179.9 L670.7,180.6 L673.1,180.5 L675.3,179.6 L677.4,178.5 L679.4,177.1 L681.7,176.7 L684.0,177.4 L686.3,178.3 L688.7,178.4 L691.0,178.7 L693.4,178.7" stroke-width="0.60" opacity="0.20"/>
<path d="M654.1,207.8 L655.8,209.5 L658.1,210.4 L659.7,212.1 L660.6,214.4 L662.1,216.2 L663.6,218.1 L664.3,220.4 L665.2,222.6 L667.0,224.2 L668.2,226.3" stroke-width="0.66" opacity="0.31"/>
<path d="M609.7,159.8 L607.7,161.2 L605.7,162.4 L603.7,163.8 L601.7,165.1 L599.7,166.4 L597.6,167.5 L595.7,169.0 L593.5,169.8 L591.2,170.6 L589.2,172.0 L587.1,173.2 L584.8,173.8 L582.5,174.4 L580.3,175.3 L578.0,176.2 L575.7,176.7 L573.6,177.8 L571.2,178.1 L568.8,178.6 L566.5,179.3 L564.2,179.9 L561.8,179.9 L559.6,180.7 L557.7,182.2 L555.8,183.7 L554.8,185.8" stroke-width="0.57" opacity="0.18"/>
<path d="M588.7,151.3 L590.7,150.1 L593.1,149.5 L595.5,149.8 L597.8,149.5 L600.2,148.9 L602.3,147.9 L604.2,146.4 L605.8,144.6 L606.4,142.3 L607.2,140.0 L608.3,137.9 L608.3,135.5 L607.4,133.2 L607.5,130.8 L608.2,128.5 L609.2,126.4 L609.7,124.0 L611.1,122.1 L612.7,120.3 L613.5,118.0 L614.1,115.7 L614.7,113.4 L614.1,111.0 L612.5,109.2 L611.1,107.3" stroke-width="0.69" opacity="0.29"/>
<path d="M627.8,152.8 L625.8,151.6 L624.2,149.7 L623.2,147.6 L621.2,146.2 L618.9,145.5 L616.5,145.8 L614.2,146.3 L611.8,145.8 L609.6,145.0 L607.9,143.3 L605.8,142.1 L603.4,141.8 L601.0,142.1 L598.7,141.4 L596.6,140.4 L594.2,140.3 L591.9,141.0 L589.5,140.5 L587.6,139.1 L585.5,137.8 L584.3,135.8 L582.6,134.1" stroke-width="0.77" opacity="0.17"/>
<path d="M651.5,123.5 L652.0,125.9 L651.8,128.3 L651.4,130.6 L651.3,133.0 L652.3,135.2 L653.6,137.2 L654.6,139.4 L656.1,141.2 L657.7,143.0 L658.8,145.2 L660.2,147.1" stroke-width="0.45" opacity="0.30"/>
<path d="M646.5,174.3 L647.9,172.4 L650.0,171.2 L651.6,169.4 L653.8,168.5 L656.2,168.7 L658.6,169.0 L660.6,170.3 L661.9,172.3 L662.5,174.7 L663.2,177.0 L664.0,179.2 L665.5,181.1 L667.3,182.7 L669.3,184.1 L671.5,185.0 L673.2,186.7 L674.6,188.6" stroke-width="0.69" opacity="0.34"/>
<path d="M635.3,188.9 L637.7,188.7 L640.0,189.5 L641.7,191.2 L642.7,193.4 L644.0,195.4 L644.5,197.7 L645.8,199.7 L647.7,201.2 L648.9,203.3 L650.0,205.4 L650.1,207.8 L650.6,210.1 L652.0,212.1 L654.0,213.4 L655.4,215.4 L656.1,217.6 L657.0,219.9" stroke-width="0.66" opacity="0.16"/>
<path d="M676.4,143.5 L676.7,145.9 L676.8,148.3 L675.9,150.5 L675.4,152.8 L675.8,155.2 L677.0,157.3 L678.9,158.7 L680.3,160.7 L681.8,162.5 L683.5,164.2 L685.6,165.4 L688.0,165.4 L690.4,165.2 L692.7,164.6 L695.1,164.4 L697.5,164.6 L699.8,165.3 L702.2,165.3 L704.5,165.9 L706.8,166.7 L709.0,167.6" stroke-width="0.80" opacity="0.27"/>
<path d="M650.9,151.3 L652.2,149.3 L653.8,147.5 L655.5,145.8 L657.6,144.6 L659.8,143.9 L662.2,144.3 L664.6,144.8 L666.8,145.5 L669.1,146.3 L671.4,147.1 L673.7,147.5 L676.1,147.4 L678.5,147.0 L680.9,146.5 L683.2,146.0 L685.5,145.5 L687.9,145.4 L690.1,146.5 L692.1,147.8 L693.4,149.8 L694.9,151.6 L696.3,153.6" stroke-width="0.63" opacity="0.25"/>
<path d="M619.6,139.0 L622.0,139.6 L623.9,140.9 L625.9,142.3 L628.1,143.3 L630.5,143.4 L632.9,143.5 L635.3,143.6 L637.7,143.7" stroke-width="0.53" opacity="0.30"/>
<path d="M634.5,140.6 L635.7,138.5 L636.0,136.2 L636.5,133.8 L636.3,131.4 L635.2,129.3 L634.2,127.1 L633.5,124.8 L632.3,122.8 L630.8,120.9 L629.1,119.2 L628.2,117.0 L627.3,114.8 L625.5,113.1 L623.4,111.9 L621.6,110.4 L620.0,108.6 L617.9,107.5 L616.3,105.7 L614.9,103.8 L613.0,102.3 L611.1,100.9 L608.7,100.3 L606.9,98.8 L604.6,98.0 L602.2,97.7 L599.9,97.0" stroke-width="0.52" opacity="0.23"/>
<path d="M657.2,178.7 L655.1,177.5 L653.1,176.2 L650.8,175.4 L649.0,173.8 L647.4,172.0 L645.4,170.7 L644.1,168.6 L643.3,166.4 L643.6,164.0 L643.2,161.6 L643.1,159.2 L642.8,156.9 L641.7,154.7 L639.9,153.2 L638.6,151.1 L636.8,149.6 L635.3,147.7 L633.9,145.8 L632.6,143.7 L632.1,141.4 L631.6,139.0 L631.9,136.7 L632.1,134.3 L632.8,132.0 L633.3,129.6 L634.9,127.8" stroke-width="0.55" opacity="0.20"/>
<path d="M597.3,160.7 L596.7,163.1 L596.2,165.4 L595.5,167.7 L595.1,170.1 L593.7,172.0 L593.0,174.3 L592.3,176.6 L591.1,178.7 L589.5,180.5 L588.2,182.5 L587.8,184.9 L587.0,187.1" stroke-width="0.45" opacity="0.34"/>
<path d="M567.3,200.2 L567.7,197.8 L567.4,195.4 L566.9,193.1 L566.8,190.7 L567.6,188.4 L567.8,186.0 L567.8,183.6 L568.4,181.3 L568.9,179.0 L569.9,176.8 L571.7,175.2 L573.3,173.4 L574.7,171.4 L576.4,169.8 L577.3,167.5 L578.0,165.3 L579.0,163.0 L579.5,160.7 L579.9,158.3 L579.2,156.0 L578.5,153.7 L577.5,151.6" stroke-width="0.72" opacity="0.27"/>
<path d="M571,146 C569,155 575,160 573,170 S577,180 575,188" stroke-width="0.8" opacity="0.55"/>
<path d="M586,190 C588,196 585,202 588,210" stroke-width="0.9" opacity="0.6"/>
<path d="M599.5,156.9 C620,150 640,150 660,140 S675,130 682,128" stroke-width="0.6" opacity="0.4"/>
<path d="M599.5,156.9 C585,165 578,175 570,185" stroke-width="0.6" opacity="0.45"/>
<path d="M599.5,156.9 C605,145 610,140 612,133" stroke-width="0.6" opacity="0.5"/>
<path d="M599.5,156.9 C590,150 580,150 572,146" stroke-width="0.6" opacity="0.45"/>
<path d="M599.5,156.9 C612,165 625,170 636.9,181.3" stroke-width="0.6" opacity="0.4"/>
<path d="M610,200 C625,195 640,198 660,197" stroke-width="0.6" opacity="0.4"/>
</g>
<g filter="url(#fc)">
<ellipse cx="599.5" cy="156.9" rx="3.2" ry="3.2" fill="#38f25a"/>
<line x1="592.9" y1="154.1" x2="606.1" y2="159.7" stroke="#30e050" stroke-width="0.9" stroke-linecap="round" opacity="0.8"/>
<line x1="593.4" y1="155.0" x2="605.6" y2="158.8" stroke="#30e050" stroke-width="0.9" stroke-linecap="round" opacity="0.8"/>
<line x1="603.4" y1="151.5" x2="595.6" y2="162.3" stroke="#30e050" stroke-width="0.9" stroke-linecap="round" opacity="0.8"/>
<ellipse cx="653.5" cy="134.2" rx="2.8" ry="2.8" fill="#38f25a"/>
<line x1="647.5" y1="133.7" x2="659.5" y2="134.7" stroke="#30e050" stroke-width="0.9" stroke-linecap="round" opacity="0.8"/>
<line x1="655.5" y1="130.4" x2="651.5" y2="138.0" stroke="#30e050" stroke-width="0.9" stroke-linecap="round" opacity="0.8"/>
<line x1="658.6" y1="134.0" x2="648.4" y2="134.4" stroke="#30e050" stroke-width="0.9" stroke-linecap="round" opacity="0.8"/>
<ellipse cx="636.9" cy="181.3" rx="2.3" ry="2.3" fill="#38f25a"/>
<line x1="639.3" y1="178.3" x2="634.5" y2="184.3" stroke="#30e050" stroke-width="0.9" stroke-linecap="round" opacity="0.8"/>
<line x1="633.9" y1="178.1" x2="639.9" y2="184.5" stroke="#30e050" stroke-width="0.9" stroke-linecap="round" opacity="0.8"/>
<line x1="635.6" y1="177.5" x2="638.2" y2="185.1" stroke="#30e050" stroke-width="0.9" stroke-linecap="round" opacity="0.8"/>
<ellipse cx="629.3" cy="176.4" rx="1.1" ry="2.5" fill="#38f25a"/>
<line x1="630.5" y1="171.3" x2="628.1" y2="181.5" stroke="#30e050" stroke-width="0.9" stroke-linecap="round" opacity="0.8"/>
<line x1="627.3" y1="171.4" x2="631.3" y2="181.4" stroke="#30e050" stroke-width="0.9" stroke-linecap="round" opacity="0.8"/>
<line x1="624.7" y1="173.0" x2="633.9" y2="179.8" stroke="#30e050" stroke-width="0.9" stroke-linecap="round" opacity="0.8"/>
</g>
</g>
<rect x="445.2" y="115.5" width="238.7" height="1.1" fill="#b4b4b4"/>
<rect x="564" y="19.5" width="1.1" height="192" fill="#b4b4b4"/>
<rect x="673.8" y="206.1" width="6.5" height="2.3" fill="#fff"/>
<text x="447.6" y="29.7" font-size="10.9" font-weight="bold" fill="#fff" textLength="38.8" lengthAdjust="spacingAndGlyphs">Control</text>
<text x="567.5" y="29.5" font-size="10.9" font-weight="bold" fill="#fff" textLength="76.3" lengthAdjust="spacingAndGlyphs">6-OHDA +ABC 2</text>
<text x="447.6" y="126.2" font-size="10.9" font-weight="bold" fill="#fff" textLength="36.9" lengthAdjust="spacingAndGlyphs">6-OHDA</text>
<text x="567" y="126.2" font-size="10.9" font-weight="bold" fill="#fff" textLength="71.1" lengthAdjust="spacingAndGlyphs">6-OHDA +BDNF</text>
<text x="58.6" y="249.5" font-size="13" text-anchor="start" font-weight="bold" fill="#000">d</text>
<text x="129.2" y="266" font-size="10.55" text-anchor="start" font-weight="bold" fill="#000">ABC in dopaminergic protection</text>
<line x1="107.60" y1="274.30" x2="107.60" y2="464.50" stroke="#000" stroke-width="1.1"/>
<line x1="107.10" y1="464.00" x2="350.20" y2="464.00" stroke="#000" stroke-width="1.1"/>
<line x1="104.60" y1="464.00" x2="107.60" y2="464.00" stroke="#000" stroke-width="1.1"/>
<text x="102.8" y="467.5" font-size="10.1" text-anchor="end" fill="#000">0</text>
<line x1="104.60" y1="429.60" x2="107.60" y2="429.60" stroke="#000" stroke-width="1.1"/>
<text x="102.8" y="433.1" font-size="10.1" text-anchor="end" fill="#000">20</text>
<line x1="104.60" y1="395.20" x2="107.60" y2="395.20" stroke="#000" stroke-width="1.1"/>
<text x="102.8" y="398.7" font-size="10.1" text-anchor="end" fill="#000">40</text>
<line x1="104.60" y1="360.80" x2="107.60" y2="360.80" stroke="#000" stroke-width="1.1"/>
<text x="102.8" y="364.3" font-size="10.1" text-anchor="end" fill="#000">60</text>
<line x1="104.60" y1="326.40" x2="107.60" y2="326.40" stroke="#000" stroke-width="1.1"/>
<text x="102.8" y="329.9" font-size="10.1" text-anchor="end" fill="#000">80</text>
<line x1="104.60" y1="292.00" x2="107.60" y2="292.00" stroke="#000" stroke-width="1.1"/>
<text x="102.8" y="295.5" font-size="10.1" text-anchor="end" fill="#000">100</text>
<text x="78.3" y="367" font-size="10" text-anchor="middle" fill="#000" transform="rotate(-90 78.3 367)">% Protection</text>
<line x1="126.90" y1="292.00" x2="126.90" y2="288.39" stroke="#000" stroke-width="1.1"/>
<line x1="122.90" y1="288.39" x2="130.90" y2="288.39" stroke="#000" stroke-width="1.1"/>
<rect x="119.10" y="292.00" width="15.6" height="172.00" fill="#0000e6" stroke="#000" stroke-width="1"/>
<line x1="126.90" y1="464.00" x2="126.90" y2="468.00" stroke="#000" stroke-width="1.1"/>
<text x="126.9" y="286.69" font-size="9" text-anchor="middle" fill="#000">***</text>
<text x="128.5" y="474.8" font-size="9.2" text-anchor="end" fill="#000" transform="rotate(-45 128.5 474.8)">Control</text>
<line x1="150.20" y1="464.00" x2="150.20" y2="460.73" stroke="#000" stroke-width="1.1"/>
<line x1="146.20" y1="460.73" x2="154.20" y2="460.73" stroke="#000" stroke-width="1.1"/>
<line x1="150.20" y1="464.00" x2="150.20" y2="468.00" stroke="#000" stroke-width="1.1"/>
<text x="151.8" y="474.8" font-size="9.2" text-anchor="end" fill="#000" transform="rotate(-45 151.8 474.8)">6-OHDA 20 µM</text>
<line x1="173.50" y1="462.62" x2="173.50" y2="456.43" stroke="#000" stroke-width="1.1"/>
<line x1="169.50" y1="456.43" x2="177.50" y2="456.43" stroke="#000" stroke-width="1.1"/>
<rect x="165.70" y="462.62" width="15.6" height="1.38" fill="#050a08" stroke="#000" stroke-width="1"/>
<line x1="173.50" y1="464.00" x2="173.50" y2="468.00" stroke="#000" stroke-width="1.1"/>
<text x="175.1" y="474.8" font-size="9.2" text-anchor="end" fill="#000" transform="rotate(-45 175.1 474.8)">6-OHDA +ACP 4 pM</text>
<line x1="197.10" y1="441.64" x2="197.10" y2="434.42" stroke="#000" stroke-width="1.1"/>
<line x1="193.10" y1="434.42" x2="201.10" y2="434.42" stroke="#000" stroke-width="1.1"/>
<rect x="189.30" y="441.64" width="15.6" height="22.36" fill="#050a08" stroke="#000" stroke-width="1"/>
<line x1="197.10" y1="464.00" x2="197.10" y2="468.00" stroke="#000" stroke-width="1.1"/>
<text x="197.1" y="432.72" font-size="9" text-anchor="middle" fill="#000">*</text>
<text x="198.7" y="474.8" font-size="9.2" text-anchor="end" fill="#000" transform="rotate(-45 198.7 474.8)">6-OHDA +BCL 32 nM</text>
<line x1="220.50" y1="404.49" x2="220.50" y2="394.00" stroke="#000" stroke-width="1.1"/>
<line x1="216.50" y1="394.00" x2="224.50" y2="394.00" stroke="#000" stroke-width="1.1"/>
<rect x="212.70" y="404.49" width="15.6" height="59.51" fill="#1fc61f" stroke="#000" stroke-width="1"/>
<line x1="220.50" y1="464.00" x2="220.50" y2="468.00" stroke="#000" stroke-width="1.1"/>
<text x="220.5" y="392.3" font-size="9" text-anchor="middle" fill="#000">***</text>
<text x="222.1" y="474.8" font-size="9.2" text-anchor="end" fill="#000" transform="rotate(-45 222.1 474.8)">6-OHDA +ABC 1</text>
<line x1="259.60" y1="447.83" x2="259.60" y2="442.50" stroke="#000" stroke-width="1.1"/>
<line x1="255.60" y1="442.50" x2="263.60" y2="442.50" stroke="#000" stroke-width="1.1"/>
<rect x="251.80" y="447.83" width="15.6" height="16.17" fill="#050a08" stroke="#000" stroke-width="1"/>
<line x1="259.60" y1="464.00" x2="259.60" y2="468.00" stroke="#000" stroke-width="1.1"/>
<text x="259.6" y="440.8" font-size="9" text-anchor="middle" fill="#000">*</text>
<text x="261.2" y="474.8" font-size="9.2" text-anchor="end" fill="#000" transform="rotate(-45 261.2 474.8)">6-OHDA +ACP 10 pM</text>
<line x1="283.20" y1="441.64" x2="283.20" y2="434.42" stroke="#000" stroke-width="1.1"/>
<line x1="279.20" y1="434.42" x2="287.20" y2="434.42" stroke="#000" stroke-width="1.1"/>
<rect x="275.40" y="441.64" width="15.6" height="22.36" fill="#050a08" stroke="#000" stroke-width="1"/>
<line x1="283.20" y1="464.00" x2="283.20" y2="468.00" stroke="#000" stroke-width="1.1"/>
<text x="283.2" y="432.72" font-size="9" text-anchor="middle" fill="#000">*</text>
<text x="284.8" y="474.8" font-size="9.2" text-anchor="end" fill="#000" transform="rotate(-45 284.8 474.8)">6-OHDA +BCL 32 nM</text>
<line x1="306.60" y1="398.64" x2="306.60" y2="391.76" stroke="#000" stroke-width="1.1"/>
<line x1="302.60" y1="391.76" x2="310.60" y2="391.76" stroke="#000" stroke-width="1.1"/>
<rect x="298.80" y="398.64" width="15.6" height="65.36" fill="#14875a" stroke="#000" stroke-width="1"/>
<line x1="306.60" y1="464.00" x2="306.60" y2="468.00" stroke="#000" stroke-width="1.1"/>
<text x="306.6" y="390.06" font-size="9" text-anchor="middle" fill="#000">***</text>
<text x="308.2" y="474.8" font-size="9.2" text-anchor="end" fill="#000" transform="rotate(-45 308.2 474.8)">6-OHDA +ABC 2</text>
<line x1="330.10" y1="366.13" x2="330.10" y2="362.35" stroke="#000" stroke-width="1.1"/>
<line x1="326.10" y1="362.35" x2="334.10" y2="362.35" stroke="#000" stroke-width="1.1"/>
<rect x="322.30" y="366.13" width="15.6" height="97.87" fill="#ff6600" stroke="#000" stroke-width="1"/>
<line x1="330.10" y1="464.00" x2="330.10" y2="468.00" stroke="#000" stroke-width="1.1"/>
<text x="330.1" y="360.65" font-size="9" text-anchor="middle" fill="#000">***</text>
<text x="331.7" y="474.8" font-size="9.2" text-anchor="end" fill="#000" transform="rotate(-45 331.7 474.8)">6-OHDA +BDNF 50 ng/mL</text>
<text x="220.5" y="449.5" font-size="8.5" text-anchor="middle" font-weight="bold" fill="#fff">S</text>
<text x="306.6" y="449.5" font-size="8.5" text-anchor="middle" font-weight="bold" fill="#fff">S</text>
<text x="378.2" y="249.7" font-size="13" text-anchor="start" font-weight="bold" fill="#000">e</text>
<text x="510.7" y="257" font-size="10.85" text-anchor="start" font-weight="bold" fill="#000">Isobologram</text>
<rect x="429.8" y="271.5" width="222.59999999999997" height="203.8" fill="none" stroke="#7c7c7c" stroke-width="1"/>
<line x1="437.50" y1="475.30" x2="650.30" y2="475.30" stroke="#7c7c7c" stroke-width="1"/>
<line x1="437.50" y1="475.30" x2="437.50" y2="479.80" stroke="#7c7c7c" stroke-width="1"/>
<text x="437.5" y="491" font-size="7" text-anchor="middle" fill="#111">0.0e+00</text>
<line x1="467.90" y1="475.30" x2="467.90" y2="479.80" stroke="#7c7c7c" stroke-width="1"/>
<text x="467.9" y="491" font-size="7" text-anchor="middle" fill="#111">5.0e-12</text>
<line x1="498.30" y1="475.30" x2="498.30" y2="479.80" stroke="#7c7c7c" stroke-width="1"/>
<text x="498.3" y="491" font-size="7" text-anchor="middle" fill="#111">1.0e-11</text>
<line x1="528.70" y1="475.30" x2="528.70" y2="479.80" stroke="#7c7c7c" stroke-width="1"/>
<text x="528.7" y="491" font-size="7" text-anchor="middle" fill="#111">1.5e-11</text>
<line x1="559.10" y1="475.30" x2="559.10" y2="479.80" stroke="#7c7c7c" stroke-width="1"/>
<text x="559.1" y="491" font-size="7" text-anchor="middle" fill="#111">2.0e-11</text>
<line x1="589.50" y1="475.30" x2="589.50" y2="479.80" stroke="#7c7c7c" stroke-width="1"/>
<text x="589.5" y="491" font-size="7" text-anchor="middle" fill="#111">2.5e-11</text>
<line x1="619.90" y1="475.30" x2="619.90" y2="479.80" stroke="#7c7c7c" stroke-width="1"/>
<text x="619.9" y="491" font-size="7" text-anchor="middle" fill="#111">3.0e-11</text>
<line x1="650.30" y1="475.30" x2="650.30" y2="479.80" stroke="#7c7c7c" stroke-width="1"/>
<text x="650.3" y="491" font-size="7" text-anchor="middle" fill="#111">3.5e-11</text>
<line x1="425.30" y1="468.30" x2="429.80" y2="468.30" stroke="#7c7c7c" stroke-width="1"/>
<text x="419.6" y="468.6" font-size="7" text-anchor="middle" fill="#111" transform="rotate(-90 419.6 468.6)">0e+00</text>
<line x1="425.30" y1="423.30" x2="429.80" y2="423.30" stroke="#7c7c7c" stroke-width="1"/>
<text x="419.6" y="423.6" font-size="7" text-anchor="middle" fill="#111" transform="rotate(-90 419.6 423.6)">2e-08</text>
<line x1="425.30" y1="378.30" x2="429.80" y2="378.30" stroke="#7c7c7c" stroke-width="1"/>
<text x="419.6" y="378.6" font-size="7" text-anchor="middle" fill="#111" transform="rotate(-90 419.6 378.6)">4e-08</text>
<line x1="425.30" y1="333.30" x2="429.80" y2="333.30" stroke="#7c7c7c" stroke-width="1"/>
<text x="419.6" y="333.6" font-size="7" text-anchor="middle" fill="#111" transform="rotate(-90 419.6 333.6)">6e-08</text>
<line x1="425.30" y1="288.30" x2="429.80" y2="288.30" stroke="#7c7c7c" stroke-width="1"/>
<text x="419.6" y="288.6" font-size="7" text-anchor="middle" fill="#111" transform="rotate(-90 419.6 288.6)">8e-08</text>
<text x="399.8" y="380" font-size="10.3" text-anchor="middle" fill="#000" transform="rotate(-90 399.8 380)">Baclofen (M)</text>
<text x="502.6" y="511.3" font-size="10.35" text-anchor="start" fill="#000">Acamprosate (M)</text>
<path d="M437.6,278.7 C474.16,342.31 638.29,465.66 644.2,468.2" fill="none" stroke="#235c23" stroke-width="1.3"/>
<path d="M437.6,297.9 C464.63,351.30 585.66,443.64 618.5,468.2" fill="none" stroke="#3cc83c" stroke-width="1.3"/>
<circle cx="461.8" cy="396.4" r="3.1" fill="#3ccf3c"/>
<circle cx="498.2" cy="396.4" r="3.1" fill="#145214"/>
<text x="461.5" y="408.2" font-size="5.6" text-anchor="middle" fill="#34c634">ABC1</text>
<text x="498.5" y="389.3" font-size="5.6" text-anchor="middle" fill="#145214">ABC2</text>
<text x="533.7" y="317" font-size="10.2" text-anchor="start" fill="#000">Antagonism</text>
<text x="489.5" y="444" font-size="10.1" text-anchor="start" fill="#000">Synergism</text>
<line x1="549.35" y1="364.53" x2="634.85" y2="286.07" stroke="#000" stroke-width="2.2"/>
<path d="M541.00,372.20 L554.75,368.54 L545.82,358.82 Z" fill="#000"/>
<path d="M643.20,278.40 L638.38,291.78 L629.45,282.06 Z" fill="#000"/>
<line x1="452.15" y1="454.90" x2="512.45" y2="410.70" stroke="#000" stroke-width="2.2"/>
<path d="M443.00,461.60 L457.06,459.48 L449.26,448.83 Z" fill="#000"/>
<path d="M521.60,404.00 L515.34,416.77 L507.54,406.12 Z" fill="#000"/>
</svg>
</body></html>
